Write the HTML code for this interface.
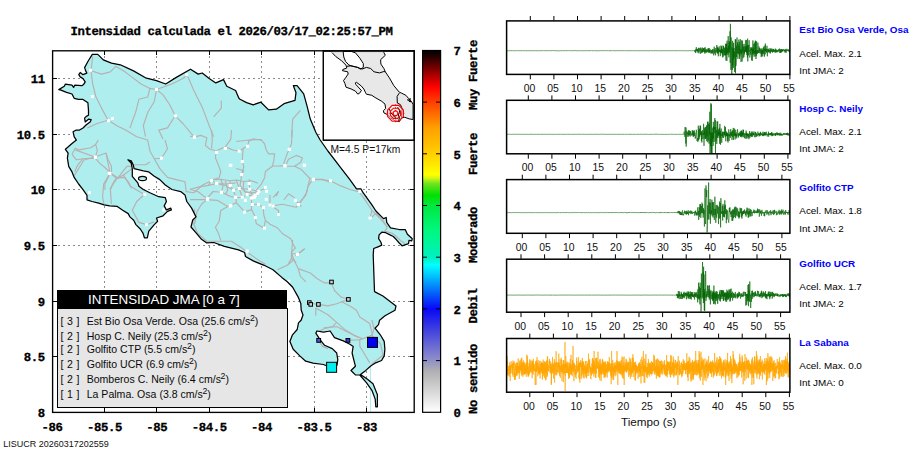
<!DOCTYPE html>
<html><head><meta charset="utf-8"><title>Intensidad</title>
<style>
html,body{margin:0;padding:0;background:#fff;}
body{width:910px;height:460px;position:relative;overflow:hidden;font-family:"Liberation Sans",sans-serif;}
.t{position:absolute;white-space:nowrap;line-height:1;}
.m{font-family:"Liberation Mono",monospace;font-weight:bold;font-size:12.3px;letter-spacing:-0.38px;text-rendering:geometricPrecision;color:#000;-webkit-text-stroke:0.3px #000;}
.tk{font-size:10.4px;color:#111;}
.nm{font-size:9.9px;font-weight:bold;color:#0000ff;left:799.3px;}
.inf{font-size:9.9px;color:#000;left:799.3px;}
.lg{font-size:10.55px;color:#0a0a0a;left:60.5px;}
.lg sup{font-size:8.8px;vertical-align:top;position:relative;top:-2.2px;line-height:1;margin-left:-0.3px;}
</style></head><body>
<svg width="910" height="460" viewBox="0 0 910 460" style="position:absolute;left:0;top:0">
<rect x="52.5" y="50.5" width="362" height="362" fill="#fff"/>
<line x1="104.5" y1="51" x2="104.5" y2="412" stroke="#8c8c8c" stroke-width="1" stroke-dasharray="2,3"/>
<line x1="156.5" y1="51" x2="156.5" y2="412" stroke="#8c8c8c" stroke-width="1" stroke-dasharray="2,3"/>
<line x1="209.5" y1="51" x2="209.5" y2="412" stroke="#8c8c8c" stroke-width="1" stroke-dasharray="2,3"/>
<line x1="261.5" y1="51" x2="261.5" y2="412" stroke="#8c8c8c" stroke-width="1" stroke-dasharray="2,3"/>
<line x1="314.5" y1="51" x2="314.5" y2="412" stroke="#8c8c8c" stroke-width="1" stroke-dasharray="2,3"/>
<line x1="366.5" y1="51" x2="366.5" y2="412" stroke="#8c8c8c" stroke-width="1" stroke-dasharray="2,3"/>
<line x1="53" y1="356.5" x2="414" y2="356.5" stroke="#8c8c8c" stroke-width="1" stroke-dasharray="2,3"/>
<line x1="53" y1="301.5" x2="414" y2="301.5" stroke="#8c8c8c" stroke-width="1" stroke-dasharray="2,3"/>
<line x1="53" y1="245.5" x2="414" y2="245.5" stroke="#8c8c8c" stroke-width="1" stroke-dasharray="2,3"/>
<line x1="53" y1="189.5" x2="414" y2="189.5" stroke="#8c8c8c" stroke-width="1" stroke-dasharray="2,3"/>
<line x1="53" y1="134.5" x2="414" y2="134.5" stroke="#8c8c8c" stroke-width="1" stroke-dasharray="2,3"/>
<line x1="53" y1="78.5" x2="414" y2="78.5" stroke="#8c8c8c" stroke-width="1" stroke-dasharray="2,3"/>
<polygon points="92.3,54.4 97.8,54.4 103.3,59.9 111.5,63.2 120.3,64.8 133.5,70.9 145.5,77.8 156.5,80.7 165.7,84.0 176.3,77.4 190.5,69.2 198.2,74.1 202.2,73.0 209.2,78.5 215.8,82.9 223.5,79.6 226.8,86.2 235.6,90.5 238.9,98.2 240.0,99.3 246.6,102.6 253.2,104.8 260.9,102.2 268.6,109.9 276.3,109.2 284.0,103.7 295.0,100.4 296.0,92.7 293.4,85.7 297.1,85.7 303.7,93.8 307.0,105.9 310.3,119.1 315.8,132.3 320.2,140.0 327.9,151.0 338.9,165.3 349.9,179.6 356.5,188.8 360.9,188.8 363.1,192.7 371.9,204.8 375.9,211.0 383.5,218.6 386.2,217.5 386.7,222.4 390.5,227.8 399.2,229.5 405.2,229.5 407.4,234.3 412.3,238.7 411.7,240.9 409.0,240.3 408.5,243.6 402.0,245.8 399.2,243.0 396.5,239.8 393.3,236.5 390.0,234.9 385.7,232.7 381.8,232.2 379.1,234.9 378.6,238.7 380.8,242.0 381.8,245.2 378.0,246.8 373.7,248.5 373.2,255.0 374.5,291.6 382.9,296.0 396.0,305.9 395.0,310.3 385.0,315.8 379.6,320.2 378.5,324.6 375.0,328.2 380.3,334.8 384.2,341.4 384.9,349.3 384.2,355.9 381.6,360.5 375.0,363.2 371.0,365.8 365.8,370.4 360.5,374.4 367.5,379.3 373.0,383.7 377.4,394.7 377.4,406.8 375.8,406.8 375.2,399.1 371.9,390.3 366.4,382.6 359.8,375.0 355.4,374.9 351.0,370.5 355.4,366.2 354.3,361.8 352.1,353.0 353.2,346.4 349.9,344.2 343.3,340.9 334.5,337.6 330.1,331.0 323.5,332.1 316.9,331.0 315.8,333.2 320.2,339.8 324.6,345.3 332.3,348.6 336.7,353.0 337.8,359.6 337.0,365.1 326.4,365.8 323.5,364.5 313.0,363.2 305.7,361.2 299.8,355.9 293.2,349.3 289.9,341.4 292.5,334.8 297.2,329.5 298.5,322.9 301.1,320.3 303.0,315.0 301.2,310.0 300.8,303.4 298.2,297.1 292.7,287.3 287.3,281.8 281.8,277.4 273.0,269.7 264.2,265.3 253.2,260.9 245.5,256.5 244.6,252.5 238.5,249.9 224.4,246.4 213.8,242.5 206.8,242.9 201.5,239.3 196.3,233.2 191.0,227.0 192.7,220.0 196.0,216.9 191.6,208.1 186.8,201.5 185.0,194.9 180.7,191.6 171.9,189.5 165.3,185.0 159.8,179.6 154.3,176.3 148.8,171.9 143.3,170.8 134.1,168.6 133.4,165.3 131.2,160.9 127.9,159.8 131.2,163.1 132.3,168.6 132.3,176.3 137.8,182.9 138.9,186.2 143.3,189.5 149.9,192.7 158.7,196.7 165.3,197.6 166.4,201.5 164.2,205.9 166.4,209.9 170.8,208.1 171.4,209.9 167.5,211.4 163.1,215.8 156.5,218.0 157.6,221.3 154.3,224.6 148.8,231.2 147.3,237.8 144.4,237.8 143.1,233.4 140.3,229.0 135.9,224.6 133.7,220.2 129.9,216.9 128.2,213.6 122.7,210.3 117.3,206.4 109.6,205.9 104.1,204.8 98.6,203.1 92.0,201.5 87.0,199.8 87.0,195.4 83.2,189.9 78.6,184.0 74.2,177.4 72.0,171.9 68.7,166.4 67.4,158.1 68.1,153.2 65.4,149.3 70.3,145.0 72.0,143.5 76.4,140.1 74.2,136.8 73.1,131.8 75.8,130.2 79.1,130.2 83.0,128.0 86.3,124.7 90.1,121.9 91.2,119.7 88.5,119.2 85.2,121.9 84.6,118.1 86.3,116.4 88.5,115.3 88.5,110.4 87.9,102.7 83.0,99.4 78.6,99.4 74.2,98.3 72.0,94.0 66.5,92.3 61.0,90.1 58.8,89.6 64.3,86.3 65.4,84.1 72.0,85.2 73.6,87.4 74.7,85.2 81.9,85.7 83.5,84.6 85.2,81.9 83.0,78.6 80.2,76.9 78.8,74.7 80.2,72.5 83.0,74.7 86.8,73.1 85.7,70.9 84.6,67.6 87.9,61.5" fill="#afeeee" stroke="none"/>
<line x1="370.5" y1="367" x2="370.5" y2="412" stroke="#afeeee" stroke-width="1"/>
<clipPath id="land"><polygon points="92.3,54.4 97.8,54.4 103.3,59.9 111.5,63.2 120.3,64.8 133.5,70.9 145.5,77.8 156.5,80.7 165.7,84.0 176.3,77.4 190.5,69.2 198.2,74.1 202.2,73.0 209.2,78.5 215.8,82.9 223.5,79.6 226.8,86.2 235.6,90.5 238.9,98.2 240.0,99.3 246.6,102.6 253.2,104.8 260.9,102.2 268.6,109.9 276.3,109.2 284.0,103.7 295.0,100.4 296.0,92.7 293.4,85.7 297.1,85.7 303.7,93.8 307.0,105.9 310.3,119.1 315.8,132.3 320.2,140.0 327.9,151.0 338.9,165.3 349.9,179.6 356.5,188.8 360.9,188.8 363.1,192.7 371.9,204.8 375.9,211.0 383.5,218.6 386.2,217.5 386.7,222.4 390.5,227.8 399.2,229.5 405.2,229.5 407.4,234.3 412.3,238.7 411.7,240.9 409.0,240.3 408.5,243.6 402.0,245.8 399.2,243.0 396.5,239.8 393.3,236.5 390.0,234.9 385.7,232.7 381.8,232.2 379.1,234.9 378.6,238.7 380.8,242.0 381.8,245.2 378.0,246.8 373.7,248.5 373.2,255.0 374.5,291.6 382.9,296.0 396.0,305.9 395.0,310.3 385.0,315.8 379.6,320.2 378.5,324.6 375.0,328.2 380.3,334.8 384.2,341.4 384.9,349.3 384.2,355.9 381.6,360.5 375.0,363.2 371.0,365.8 365.8,370.4 360.5,374.4 367.5,379.3 373.0,383.7 377.4,394.7 377.4,406.8 375.8,406.8 375.2,399.1 371.9,390.3 366.4,382.6 359.8,375.0 355.4,374.9 351.0,370.5 355.4,366.2 354.3,361.8 352.1,353.0 353.2,346.4 349.9,344.2 343.3,340.9 334.5,337.6 330.1,331.0 323.5,332.1 316.9,331.0 315.8,333.2 320.2,339.8 324.6,345.3 332.3,348.6 336.7,353.0 337.8,359.6 337.0,365.1 326.4,365.8 323.5,364.5 313.0,363.2 305.7,361.2 299.8,355.9 293.2,349.3 289.9,341.4 292.5,334.8 297.2,329.5 298.5,322.9 301.1,320.3 303.0,315.0 301.2,310.0 300.8,303.4 298.2,297.1 292.7,287.3 287.3,281.8 281.8,277.4 273.0,269.7 264.2,265.3 253.2,260.9 245.5,256.5 244.6,252.5 238.5,249.9 224.4,246.4 213.8,242.5 206.8,242.9 201.5,239.3 196.3,233.2 191.0,227.0 192.7,220.0 196.0,216.9 191.6,208.1 186.8,201.5 185.0,194.9 180.7,191.6 171.9,189.5 165.3,185.0 159.8,179.6 154.3,176.3 148.8,171.9 143.3,170.8 134.1,168.6 133.4,165.3 131.2,160.9 127.9,159.8 131.2,163.1 132.3,168.6 132.3,176.3 137.8,182.9 138.9,186.2 143.3,189.5 149.9,192.7 158.7,196.7 165.3,197.6 166.4,201.5 164.2,205.9 166.4,209.9 170.8,208.1 171.4,209.9 167.5,211.4 163.1,215.8 156.5,218.0 157.6,221.3 154.3,224.6 148.8,231.2 147.3,237.8 144.4,237.8 143.1,233.4 140.3,229.0 135.9,224.6 133.7,220.2 129.9,216.9 128.2,213.6 122.7,210.3 117.3,206.4 109.6,205.9 104.1,204.8 98.6,203.1 92.0,201.5 87.0,199.8 87.0,195.4 83.2,189.9 78.6,184.0 74.2,177.4 72.0,171.9 68.7,166.4 67.4,158.1 68.1,153.2 65.4,149.3 70.3,145.0 72.0,143.5 76.4,140.1 74.2,136.8 73.1,131.8 75.8,130.2 79.1,130.2 83.0,128.0 86.3,124.7 90.1,121.9 91.2,119.7 88.5,119.2 85.2,121.9 84.6,118.1 86.3,116.4 88.5,115.3 88.5,110.4 87.9,102.7 83.0,99.4 78.6,99.4 74.2,98.3 72.0,94.0 66.5,92.3 61.0,90.1 58.8,89.6 64.3,86.3 65.4,84.1 72.0,85.2 73.6,87.4 74.7,85.2 81.9,85.7 83.5,84.6 85.2,81.9 83.0,78.6 80.2,76.9 78.8,74.7 80.2,72.5 83.0,74.7 86.8,73.1 85.7,70.9 84.6,67.6 87.9,61.5"/></clipPath>
<g clip-path="url(#land)">
<polyline points="92.7,56.5 91.0,70.8 92.7,84.0 96.0,97.1 101.5,108.1 108.1,120.2 116.9,125.7 125.7,130.1 136.7,136.7 147.7,140.0 149.9,151.0 154.3,158.7 159.8,168.6 167.5,177.4 176.3,179.6 185.0,181.8 186.2,191.6 193.8,192.7 202.6,185.0 211.4,180.7 216.9,183.5 226.8,184.0 235.6,182.9" fill="none" stroke="#b8b0b0" stroke-width="1.15" stroke-linejoin="round"/>
<polyline points="108.1,120.2 97.1,123.5 87.3,127.9" fill="none" stroke="#b8b0b0" stroke-width="1.15" stroke-linejoin="round"/>
<polyline points="91.0,70.8 101.5,74.1 110.3,71.9 115.8,66.4 123.5,70.8 132.3,77.4 141.1,84.0 149.9,88.4 156.5,89.5 163.1,94.9 169.7,104.8 175.2,115.8 182.9,123.5 193.8,136.7" fill="none" stroke="#b8b0b0" stroke-width="1.15" stroke-linejoin="round"/>
<polyline points="156.5,89.5 154.3,101.5 147.7,112.5 143.3,125.7 145.5,136.7" fill="none" stroke="#b8b0b0" stroke-width="1.15" stroke-linejoin="round"/>
<polyline points="149.9,88.4 147.7,97.0 138.9,99.3 135.6,112.5 132.3,121.3 130.0,128.0" fill="none" stroke="#b8b0b0" stroke-width="1.15" stroke-linejoin="round"/>
<polyline points="156.5,89.5 171.9,84.0 182.9,78.5 187.3,75.2" fill="none" stroke="#b8b0b0" stroke-width="1.15" stroke-linejoin="round"/>
<polyline points="187.3,75.2 193.8,90.5 202.6,108.1 209.2,125.7 213.6,136.7" fill="none" stroke="#b8b0b0" stroke-width="1.15" stroke-linejoin="round"/>
<polyline points="175.2,115.8 167.5,127.9 158.7,130.1 163.0,139.0" fill="none" stroke="#b8b0b0" stroke-width="1.15" stroke-linejoin="round"/>
<polyline points="221.3,100.4 221.3,108.1 213.6,116.9" fill="none" stroke="#b8b0b0" stroke-width="1.15" stroke-linejoin="round"/>
<polyline points="75.2,149.9 95.0,157.0 106.0,153.0 110.0,173.0 117.0,178.5 123.5,175.0 132.0,168.6" fill="none" stroke="#b8b0b0" stroke-width="1.15" stroke-linejoin="round"/>
<polyline points="110.0,173.0 103.7,184.0 102.6,197.0 104.0,204.0" fill="none" stroke="#b8b0b0" stroke-width="1.15" stroke-linejoin="round"/>
<polyline points="117.0,178.5 110.3,188.4 111.4,203.7" fill="none" stroke="#b8b0b0" stroke-width="1.15" stroke-linejoin="round"/>
<polyline points="123.5,175.0 130.0,186.0 144.4,194.5 136.7,201.5 132.3,210.3 138.9,222.4 146.6,224.6 154.0,222.0" fill="none" stroke="#b8b0b0" stroke-width="1.15" stroke-linejoin="round"/>
<polyline points="74.0,176.0 84.0,160.0 95.0,157.0" fill="none" stroke="#b8b0b0" stroke-width="1.15" stroke-linejoin="round"/>
<polyline points="154.3,158.7 161.5,158.2 167.5,148.8 165.0,140.0" fill="none" stroke="#b8b0b0" stroke-width="1.15" stroke-linejoin="round"/>
<polyline points="190.0,136.2 194.6,136.9 200.8,135.4 206.9,137.7 205.4,145.4 210.0,149.2 216.2,150.8 225.4,146.9 233.1,150.0 239.2,151.2 243.1,148.5 247.7,145.4 249.2,140.0 260.8,139.5 264.6,143.8 266.2,150.0 268.5,153.8 274.6,153.8 273.8,160.8 272.3,166.2 282.3,165.7 285.4,166.2 294.6,166.2 300.8,169.2 310.0,178.5 313.1,179.2 322.3,179.2 330.0,182.3" fill="none" stroke="#b8b0b0" stroke-width="1.15" stroke-linejoin="round"/>
<polyline points="216.2,150.8 215.4,157.7 218.5,165.4 220.8,171.5 219.2,177.7 211.5,180.0 208.5,185.4 199.2,186.9 190.0,189.2" fill="none" stroke="#b8b0b0" stroke-width="1.15" stroke-linejoin="round"/>
<polyline points="243.1,148.5 242.3,160.8 243.8,166.9 241.5,174.6 240.8,180.8" fill="none" stroke="#b8b0b0" stroke-width="1.15" stroke-linejoin="round"/>
<polyline points="236.2,168.5 243.8,170.8 241.5,174.6" fill="none" stroke="#b8b0b0" stroke-width="1.15" stroke-linejoin="round"/>
<polyline points="272.3,166.2 265.4,171.5 264.6,177.7 261.5,183.8 256.2,190.0" fill="none" stroke="#b8b0b0" stroke-width="1.15" stroke-linejoin="round"/>
<polyline points="285.4,166.2 283.8,163.1 286.9,154.6 289.2,149.2 291.5,143.8 292.3,130.0" fill="none" stroke="#b8b0b0" stroke-width="1.15" stroke-linejoin="round"/>
<polyline points="285.4,166.2 288.5,159.2 296.2,155.4 302.3,157.7 300.8,162.3 294.6,166.2" fill="none" stroke="#b8b0b0" stroke-width="1.15" stroke-linejoin="round"/>
<polyline points="310.0,178.5 308.5,183.8 306.9,191.5 303.8,197.7" fill="none" stroke="#b8b0b0" stroke-width="1.15" stroke-linejoin="round"/>
<polyline points="231.5,130.0 230.8,139.2 225.4,146.9" fill="none" stroke="#b8b0b0" stroke-width="1.15" stroke-linejoin="round"/>
<polyline points="211.5,130.0 212.3,139.2 211.5,148.5" fill="none" stroke="#b8b0b0" stroke-width="1.15" stroke-linejoin="round"/>
<polyline points="236.2,141.5 249.2,140.0" fill="none" stroke="#b8b0b0" stroke-width="1.15" stroke-linejoin="round"/>
<polyline points="273.1,197.7 278.5,191.5 276.2,196.2" fill="none" stroke="#b8b0b0" stroke-width="1.15" stroke-linejoin="round"/>
<polyline points="283.8,200.0 288.5,193.8 294.6,197.7" fill="none" stroke="#b8b0b0" stroke-width="1.15" stroke-linejoin="round"/>
<polyline points="211.5,180.0 220.8,179.2 230.0,180.8 236.2,180.0 243.8,181.5 251.5,180.8 257.7,183.1" fill="none" stroke="#b8b0b0" stroke-width="1.15" stroke-linejoin="round"/>
<polyline points="208.5,185.4 216.2,183.8 225.4,185.4 233.1,190.0 239.2,188.5 250.0,189.2 257.7,191.5 266.9,187.7" fill="none" stroke="#b8b0b0" stroke-width="1.15" stroke-linejoin="round"/>
<polyline points="190.0,189.2 197.7,191.5 206.9,198.5 213.1,191.5 221.5,192.3 230.0,196.2 236.2,197.7 242.3,197.2 247.7,194.6 253.1,196.9 259.2,194.6" fill="none" stroke="#b8b0b0" stroke-width="1.15" stroke-linejoin="round"/>
<polyline points="220.8,179.2 223.1,185.4 221.5,192.3" fill="none" stroke="#b8b0b0" stroke-width="1.15" stroke-linejoin="round"/>
<polyline points="230.0,180.8 230.3,185.4 233.5,190.3 235.7,197.2" fill="none" stroke="#b8b0b0" stroke-width="1.15" stroke-linejoin="round"/>
<polyline points="236.2,180.0 239.2,188.5 242.3,197.2" fill="none" stroke="#b8b0b0" stroke-width="1.15" stroke-linejoin="round"/>
<polyline points="243.8,181.5 243.1,188.5 247.2,194.6" fill="none" stroke="#b8b0b0" stroke-width="1.15" stroke-linejoin="round"/>
<polyline points="249.2,179.2 249.7,189.2 253.1,196.9" fill="none" stroke="#b8b0b0" stroke-width="1.15" stroke-linejoin="round"/>
<polyline points="225.4,180.8 227.7,190.0 225.4,194.6" fill="none" stroke="#b8b0b0" stroke-width="1.15" stroke-linejoin="round"/>
<polyline points="240.8,180.8 240.0,185.4 244.6,191.5 251.5,193.1 258.8,191.5" fill="none" stroke="#b8b0b0" stroke-width="1.15" stroke-linejoin="round"/>
<polyline points="265.4,220.4 270.0,224.2 277.7,228.1 282.3,233.5 290.8,238.8 293.1,244.2 295.4,248.1 291.5,251.9 291.5,258.1 288.5,263.5" fill="none" stroke="#b8b0b0" stroke-width="1.15" stroke-linejoin="round"/>
<polyline points="295.4,255.8 304.6,248.8" fill="none" stroke="#b8b0b0" stroke-width="1.15" stroke-linejoin="round"/>
<polyline points="291.5,258.1 296.2,262.7" fill="none" stroke="#b8b0b0" stroke-width="1.15" stroke-linejoin="round"/>
<polyline points="194.6,208.8 193.8,224.2 197.7,233.5 206.9,241.2 220.8,241.2 231.5,241.2 240.8,247.3 246.9,251.9 257.7,259.6 265.4,264.2" fill="none" stroke="#b8b0b0" stroke-width="1.15" stroke-linejoin="round"/>
<polyline points="227.7,206.5 220.8,210.4 219.2,221.2 215.4,227.3 218.5,233.5 220.8,240.4" fill="none" stroke="#b8b0b0" stroke-width="1.15" stroke-linejoin="round"/>
<polyline points="255.4,217.3 256.2,223.5 263.8,228.1 265.4,220.4" fill="none" stroke="#b8b0b0" stroke-width="1.15" stroke-linejoin="round"/>
<polyline points="190.0,199.6 206.9,199.6 217.7,200.4 227.7,206.5" fill="none" stroke="#b8b0b0" stroke-width="1.15" stroke-linejoin="round"/>
<polyline points="206.9,199.6 201.5,204.2 196.9,211.9 194.6,224.2" fill="none" stroke="#b8b0b0" stroke-width="1.15" stroke-linejoin="round"/>
<polyline points="227.7,206.5 236.2,202.7 244.6,211.9 251.5,209.6 255.4,217.3" fill="none" stroke="#b8b0b0" stroke-width="1.15" stroke-linejoin="round"/>
<polyline points="251.5,204.2 257.7,204.2 263.1,207.3 263.8,215.0 265.4,220.4" fill="none" stroke="#b8b0b0" stroke-width="1.15" stroke-linejoin="round"/>
<polyline points="251.5,195.0 251.5,204.2 251.5,209.6" fill="none" stroke="#b8b0b0" stroke-width="1.15" stroke-linejoin="round"/>
<polyline points="236.2,195.0 236.2,202.7" fill="none" stroke="#b8b0b0" stroke-width="1.15" stroke-linejoin="round"/>
<polyline points="270.0,195.0 270.0,205.0 278.5,210.4 278.5,214.2" fill="none" stroke="#b8b0b0" stroke-width="1.15" stroke-linejoin="round"/>
<polyline points="273.1,205.8 282.3,204.2 296.2,207.3 298.5,204.2 305.4,195.0" fill="none" stroke="#b8b0b0" stroke-width="1.15" stroke-linejoin="round"/>
<polyline points="295.4,200.4 298.5,204.2 301.5,206.5" fill="none" stroke="#b8b0b0" stroke-width="1.15" stroke-linejoin="round"/>
<polyline points="292.7,240.0 291.6,253.2 293.8,259.8 287.3,265.3 277.4,269.7" fill="none" stroke="#b8b0b0" stroke-width="1.15" stroke-linejoin="round"/>
<polyline points="293.8,259.8 298.2,268.6 300.4,276.3 305.9,281.8" fill="none" stroke="#b8b0b0" stroke-width="1.15" stroke-linejoin="round"/>
<polyline points="298.2,268.6 310.3,273.0 316.9,278.5 324.6,282.9 331.4,282.9 334.5,290.5 341.1,297.1 348.4,299.3 336.7,303.7 327.9,305.9 318.2,304.4 309.9,303.3" fill="none" stroke="#b8b0b0" stroke-width="1.15" stroke-linejoin="round"/>
<polyline points="341.1,301.5 349.9,305.9 356.5,310.3 359.8,316.9 369.7,323.5 371.9,332.3 373.0,340.0" fill="none" stroke="#b8b0b0" stroke-width="1.15" stroke-linejoin="round"/>
<polyline points="315.8,308.1 327.9,314.7 336.7,322.4 345.5,330.1 354.3,335.6 363.1,338.9" fill="none" stroke="#b8b0b0" stroke-width="1.15" stroke-linejoin="round"/>
<polyline points="315.8,308.1 315.8,315.8" fill="none" stroke="#b8b0b0" stroke-width="1.15" stroke-linejoin="round"/>
<polyline points="336.7,322.4 332.3,326.8 323.5,329.0 316.9,332.3" fill="none" stroke="#b8b0b0" stroke-width="1.15" stroke-linejoin="round"/>
<polyline points="291.6,253.2 297.6,254.3 304.8,248.8" fill="none" stroke="#b8b0b0" stroke-width="1.15" stroke-linejoin="round"/>
<polyline points="371.9,320.0 374.1,328.8 371.9,335.4 359.8,339.8 359.8,346.4 365.3,355.2 369.7,362.9" fill="none" stroke="#b8b0b0" stroke-width="1.15" stroke-linejoin="round"/>
<polyline points="371.9,335.4 380.7,344.2 382.9,355.2 371.9,364.0" fill="none" stroke="#b8b0b0" stroke-width="1.15" stroke-linejoin="round"/>
<polyline points="359.8,339.8 347.9,340.4" fill="none" stroke="#b8b0b0" stroke-width="1.15" stroke-linejoin="round"/>
<polyline points="323.5,327.7 336.7,326.6 345.5,331.0 358.7,337.6" fill="none" stroke="#b8b0b0" stroke-width="1.15" stroke-linejoin="round"/>
<polyline points="318.7,340.4 322.4,346.4 327.9,348.6" fill="none" stroke="#b8b0b0" stroke-width="1.15" stroke-linejoin="round"/>
<polyline points="312.5,179.6 321.3,179.6 330.1,180.7 338.9,185.1 349.9,189.5 358.7,191.6 363.1,197.1 371.9,210.3 380.7,219.1 387.3,226.8" fill="none" stroke="#b8b0b0" stroke-width="1.15" stroke-linejoin="round"/>
<polyline points="371.9,210.3 370.1,218.0" fill="none" stroke="#b8b0b0" stroke-width="1.15" stroke-linejoin="round"/>
<polyline points="312.5,179.6 308.1,186.2 305.9,194.9 299.3,203.7 294.9,200.4" fill="none" stroke="#b8b0b0" stroke-width="1.15" stroke-linejoin="round"/>
<polyline points="375.9,213.2 383.5,221.3 387.3,227.8 384.6,231.1 392.2,233.3 396.5,236.5 400.9,240.9 405.2,243.6" fill="none" stroke="#b8b0b0" stroke-width="1.15" stroke-linejoin="round"/>
<polyline points="375.9,213.2 372.1,217.0" fill="none" stroke="#b8b0b0" stroke-width="1.15" stroke-linejoin="round"/>
<polyline points="300.4,110.3 292.7,119.1 291.6,136.7" fill="none" stroke="#b8b0b0" stroke-width="1.15" stroke-linejoin="round"/>
<polyline points="248.8,141.1 253.2,138.9 260.9,140.0" fill="none" stroke="#b8b0b0" stroke-width="1.15" stroke-linejoin="round"/>
<polyline points="72.0,154.3 75.3,148.2 79.1,149.9 90.7,147.7 95.6,144.4 98.4,140.0" fill="none" stroke="#b8b0b0" stroke-width="1.15" stroke-linejoin="round"/>
<polyline points="95.6,144.4 97.3,150.4 95.4,157.3" fill="none" stroke="#b8b0b0" stroke-width="1.15" stroke-linejoin="round"/>
<polyline points="72.0,154.3 76.4,159.8 83.0,158.7 95.4,158.1 99.5,163.1 104.9,167.5 109.3,171.9 113.7,175.2 118.1,177.9 124.7,177.4 129.1,182.9 131.3,188.4" fill="none" stroke="#b8b0b0" stroke-width="1.15" stroke-linejoin="round"/>
<polyline points="83.0,158.7 77.5,165.3 74.7,171.9" fill="none" stroke="#b8b0b0" stroke-width="1.15" stroke-linejoin="round"/>
<polyline points="106.0,153.2 108.2,159.8 111.5,166.4 111.5,171.9" fill="none" stroke="#b8b0b0" stroke-width="1.15" stroke-linejoin="round"/>
<polyline points="118.1,177.9 122.5,171.9 126.9,166.4 132.4,166.4 133.5,164.7 145.6,164.7 150.0,162.0" fill="none" stroke="#b8b0b0" stroke-width="1.15" stroke-linejoin="round"/>
<polyline points="109.3,175.2 104.9,184.0 104.9,190.0" fill="none" stroke="#b8b0b0" stroke-width="1.15" stroke-linejoin="round"/>
<polyline points="115.9,178.5 112.6,184.0 110.4,190.0" fill="none" stroke="#b8b0b0" stroke-width="1.15" stroke-linejoin="round"/>
<rect x="89.0" y="68.8" width="3" height="3" fill="#fff"/>
<rect x="90.8" y="95.0" width="3" height="3" fill="#fff"/>
<rect x="111.0" y="117.0" width="3" height="3" fill="#fff"/>
<rect x="107.1" y="119.2" width="3" height="3" fill="#fff"/>
<rect x="155.0" y="88.0" width="3" height="3" fill="#fff"/>
<rect x="185.3" y="73.2" width="3" height="3" fill="#fff"/>
<rect x="174.1" y="114.3" width="3" height="3" fill="#fff"/>
<rect x="193.0" y="135.6" width="3" height="3" fill="#fff"/>
<rect x="93.9" y="155.6" width="3" height="3" fill="#fff"/>
<rect x="108.4" y="171.9" width="3" height="3" fill="#fff"/>
<rect x="160.0" y="156.7" width="3" height="3" fill="#fff"/>
<rect x="88.0" y="191.2" width="3" height="3" fill="#fff"/>
<rect x="143.3" y="193.0" width="3" height="3" fill="#fff"/>
<rect x="145.1" y="223.1" width="3" height="3" fill="#fff"/>
<rect x="162.2" y="208.4" width="3" height="3" fill="#fff"/>
<rect x="209.9" y="179.2" width="3" height="3" fill="#fff"/>
<rect x="215.4" y="182.0" width="3" height="3" fill="#fff"/>
<rect x="223.8" y="146.9" width="3" height="3" fill="#fff"/>
<rect x="215.0" y="151.0" width="3" height="3" fill="#fff"/>
<rect x="229.3" y="163.8" width="3" height="3" fill="#fff"/>
<rect x="206.0" y="197.8" width="3" height="3" fill="#fff"/>
<rect x="229.3" y="204.0" width="3" height="3" fill="#fff"/>
<rect x="219.8" y="190.8" width="3" height="3" fill="#fff"/>
<rect x="93.9" y="155.8" width="3" height="3" fill="#fff"/>
<rect x="107.8" y="171.8" width="3" height="3" fill="#fff"/>
<rect x="192.8" y="135.7" width="3" height="3" fill="#fff"/>
<rect x="215.0" y="150.8" width="3" height="3" fill="#fff"/>
<rect x="223.9" y="147.0" width="3" height="3" fill="#fff"/>
<rect x="237.7" y="149.7" width="3" height="3" fill="#fff"/>
<rect x="245.9" y="144.7" width="3" height="3" fill="#fff"/>
<rect x="240.8" y="160.0" width="3" height="3" fill="#fff"/>
<rect x="228.8" y="163.9" width="3" height="3" fill="#fff"/>
<rect x="240.0" y="173.1" width="3" height="3" fill="#fff"/>
<rect x="210.0" y="179.0" width="3" height="3" fill="#fff"/>
<rect x="215.0" y="182.0" width="3" height="3" fill="#fff"/>
<rect x="287.7" y="148.0" width="3" height="3" fill="#fff"/>
<rect x="283.4" y="164.3" width="3" height="3" fill="#fff"/>
<rect x="302.8" y="163.9" width="3" height="3" fill="#fff"/>
<rect x="311.9" y="177.7" width="3" height="3" fill="#fff"/>
<rect x="263.9" y="185.9" width="3" height="3" fill="#fff"/>
<rect x="265.0" y="190.0" width="3" height="3" fill="#fff"/>
<rect x="247.7" y="182.0" width="3" height="3" fill="#fff"/>
<rect x="237.7" y="187.0" width="3" height="3" fill="#fff"/>
<rect x="248.2" y="187.7" width="3" height="3" fill="#fff"/>
<rect x="228.8" y="183.9" width="3" height="3" fill="#fff"/>
<rect x="232.0" y="188.8" width="3" height="3" fill="#fff"/>
<rect x="220.0" y="190.8" width="3" height="3" fill="#fff"/>
<rect x="257.3" y="190.0" width="3" height="3" fill="#fff"/>
<rect x="251.6" y="195.4" width="3" height="3" fill="#fff"/>
<rect x="234.2" y="195.7" width="3" height="3" fill="#fff"/>
<rect x="240.8" y="195.7" width="3" height="3" fill="#fff"/>
<rect x="245.7" y="193.1" width="3" height="3" fill="#fff"/>
<rect x="206.2" y="197.0" width="3" height="3" fill="#fff"/>
<rect x="256.2" y="192.3" width="3" height="3" fill="#fff"/>
<rect x="253.9" y="193.9" width="3" height="3" fill="#fff"/>
<rect x="205.9" y="197.8" width="3" height="3" fill="#fff"/>
<rect x="228.8" y="204.6" width="3" height="3" fill="#fff"/>
<rect x="243.1" y="210.7" width="3" height="3" fill="#fff"/>
<rect x="253.9" y="216.1" width="3" height="3" fill="#fff"/>
<rect x="263.0" y="226.6" width="3" height="3" fill="#fff"/>
<rect x="250.8" y="203.0" width="3" height="3" fill="#fff"/>
<rect x="257.0" y="203.0" width="3" height="3" fill="#fff"/>
<rect x="262.0" y="206.1" width="3" height="3" fill="#fff"/>
<rect x="268.5" y="203.5" width="3" height="3" fill="#fff"/>
<rect x="271.6" y="204.6" width="3" height="3" fill="#fff"/>
<rect x="277.0" y="213.0" width="3" height="3" fill="#fff"/>
<rect x="293.9" y="199.2" width="3" height="3" fill="#fff"/>
<rect x="297.0" y="203.0" width="3" height="3" fill="#fff"/>
<rect x="264.7" y="197.8" width="3" height="3" fill="#fff"/>
<rect x="243.9" y="198.9" width="3" height="3" fill="#fff"/>
<rect x="233.9" y="195.8" width="3" height="3" fill="#fff"/>
<rect x="245.4" y="250.4" width="3" height="3" fill="#fff"/>
<rect x="295.9" y="253.0" width="3" height="3" fill="#fff"/>
<rect x="250.0" y="196.6" width="3" height="3" fill="#fff"/>
<rect x="253.1" y="195.8" width="3" height="3" fill="#fff"/>
<rect x="245.8" y="249.5" width="3" height="3" fill="#fff"/>
<rect x="296.1" y="252.8" width="3" height="3" fill="#fff"/>
<rect x="287.3" y="279.8" width="3" height="3" fill="#fff"/>
<rect x="311.7" y="178.1" width="3" height="3" fill="#fff"/>
<rect x="329.0" y="179.2" width="3" height="3" fill="#fff"/>
<rect x="368.6" y="216.5" width="3" height="3" fill="#fff"/>
<rect x="358.3" y="190.1" width="3" height="3" fill="#fff"/>
<rect x="283.6" y="164.2" width="3" height="3" fill="#fff"/>
<rect x="302.9" y="163.8" width="3" height="3" fill="#fff"/>
<rect x="288.0" y="147.7" width="3" height="3" fill="#fff"/>
</g>
<polygon points="92.3,54.4 97.8,54.4 103.3,59.9 111.5,63.2 120.3,64.8 133.5,70.9 145.5,77.8 156.5,80.7 165.7,84.0 176.3,77.4 190.5,69.2 198.2,74.1 202.2,73.0 209.2,78.5 215.8,82.9 223.5,79.6 226.8,86.2 235.6,90.5 238.9,98.2 240.0,99.3 246.6,102.6 253.2,104.8 260.9,102.2 268.6,109.9 276.3,109.2 284.0,103.7 295.0,100.4 296.0,92.7 293.4,85.7 297.1,85.7 303.7,93.8 307.0,105.9 310.3,119.1 315.8,132.3 320.2,140.0 327.9,151.0 338.9,165.3 349.9,179.6 356.5,188.8 360.9,188.8 363.1,192.7 371.9,204.8 375.9,211.0 383.5,218.6 386.2,217.5 386.7,222.4 390.5,227.8 399.2,229.5 405.2,229.5 407.4,234.3 412.3,238.7 411.7,240.9 409.0,240.3 408.5,243.6 402.0,245.8 399.2,243.0 396.5,239.8 393.3,236.5 390.0,234.9 385.7,232.7 381.8,232.2 379.1,234.9 378.6,238.7 380.8,242.0 381.8,245.2 378.0,246.8 373.7,248.5 373.2,255.0 374.5,291.6 382.9,296.0 396.0,305.9 395.0,310.3 385.0,315.8 379.6,320.2 378.5,324.6 375.0,328.2 380.3,334.8 384.2,341.4 384.9,349.3 384.2,355.9 381.6,360.5 375.0,363.2 371.0,365.8 365.8,370.4 360.5,374.4 367.5,379.3 373.0,383.7 377.4,394.7 377.4,406.8 375.8,406.8 375.2,399.1 371.9,390.3 366.4,382.6 359.8,375.0 355.4,374.9 351.0,370.5 355.4,366.2 354.3,361.8 352.1,353.0 353.2,346.4 349.9,344.2 343.3,340.9 334.5,337.6 330.1,331.0 323.5,332.1 316.9,331.0 315.8,333.2 320.2,339.8 324.6,345.3 332.3,348.6 336.7,353.0 337.8,359.6 337.0,365.1 326.4,365.8 323.5,364.5 313.0,363.2 305.7,361.2 299.8,355.9 293.2,349.3 289.9,341.4 292.5,334.8 297.2,329.5 298.5,322.9 301.1,320.3 303.0,315.0 301.2,310.0 300.8,303.4 298.2,297.1 292.7,287.3 287.3,281.8 281.8,277.4 273.0,269.7 264.2,265.3 253.2,260.9 245.5,256.5 244.6,252.5 238.5,249.9 224.4,246.4 213.8,242.5 206.8,242.9 201.5,239.3 196.3,233.2 191.0,227.0 192.7,220.0 196.0,216.9 191.6,208.1 186.8,201.5 185.0,194.9 180.7,191.6 171.9,189.5 165.3,185.0 159.8,179.6 154.3,176.3 148.8,171.9 143.3,170.8 134.1,168.6 133.4,165.3 131.2,160.9 127.9,159.8 131.2,163.1 132.3,168.6 132.3,176.3 137.8,182.9 138.9,186.2 143.3,189.5 149.9,192.7 158.7,196.7 165.3,197.6 166.4,201.5 164.2,205.9 166.4,209.9 170.8,208.1 171.4,209.9 167.5,211.4 163.1,215.8 156.5,218.0 157.6,221.3 154.3,224.6 148.8,231.2 147.3,237.8 144.4,237.8 143.1,233.4 140.3,229.0 135.9,224.6 133.7,220.2 129.9,216.9 128.2,213.6 122.7,210.3 117.3,206.4 109.6,205.9 104.1,204.8 98.6,203.1 92.0,201.5 87.0,199.8 87.0,195.4 83.2,189.9 78.6,184.0 74.2,177.4 72.0,171.9 68.7,166.4 67.4,158.1 68.1,153.2 65.4,149.3 70.3,145.0 72.0,143.5 76.4,140.1 74.2,136.8 73.1,131.8 75.8,130.2 79.1,130.2 83.0,128.0 86.3,124.7 90.1,121.9 91.2,119.7 88.5,119.2 85.2,121.9 84.6,118.1 86.3,116.4 88.5,115.3 88.5,110.4 87.9,102.7 83.0,99.4 78.6,99.4 74.2,98.3 72.0,94.0 66.5,92.3 61.0,90.1 58.8,89.6 64.3,86.3 65.4,84.1 72.0,85.2 73.6,87.4 74.7,85.2 81.9,85.7 83.5,84.6 85.2,81.9 83.0,78.6 80.2,76.9 78.8,74.7 80.2,72.5 83.0,74.7 86.8,73.1 85.7,70.9 84.6,67.6 87.9,61.5" fill="none" stroke="#000" stroke-width="1.25" stroke-linejoin="round"/>
<ellipse cx="142.5" cy="178.5" rx="4" ry="2.2" fill="#afeeee" stroke="#000" stroke-width="1.2"/>
<line x1="104.5" y1="412" x2="104.5" y2="408" stroke="#000" stroke-width="1"/>
<line x1="104.5" y1="51" x2="104.5" y2="55" stroke="#000" stroke-width="1"/>
<line x1="156.5" y1="412" x2="156.5" y2="408" stroke="#000" stroke-width="1"/>
<line x1="156.5" y1="51" x2="156.5" y2="55" stroke="#000" stroke-width="1"/>
<line x1="209.5" y1="412" x2="209.5" y2="408" stroke="#000" stroke-width="1"/>
<line x1="209.5" y1="51" x2="209.5" y2="55" stroke="#000" stroke-width="1"/>
<line x1="261.5" y1="412" x2="261.5" y2="408" stroke="#000" stroke-width="1"/>
<line x1="261.5" y1="51" x2="261.5" y2="55" stroke="#000" stroke-width="1"/>
<line x1="314.5" y1="412" x2="314.5" y2="408" stroke="#000" stroke-width="1"/>
<line x1="314.5" y1="51" x2="314.5" y2="55" stroke="#000" stroke-width="1"/>
<line x1="366.5" y1="412" x2="366.5" y2="408" stroke="#000" stroke-width="1"/>
<line x1="366.5" y1="51" x2="366.5" y2="55" stroke="#000" stroke-width="1"/>
<line x1="53" y1="356.5" x2="57" y2="356.5" stroke="#000" stroke-width="1"/>
<line x1="414" y1="356.5" x2="410" y2="356.5" stroke="#000" stroke-width="1"/>
<line x1="53" y1="301.5" x2="57" y2="301.5" stroke="#000" stroke-width="1"/>
<line x1="414" y1="301.5" x2="410" y2="301.5" stroke="#000" stroke-width="1"/>
<line x1="53" y1="245.5" x2="57" y2="245.5" stroke="#000" stroke-width="1"/>
<line x1="414" y1="245.5" x2="410" y2="245.5" stroke="#000" stroke-width="1"/>
<line x1="53" y1="189.5" x2="57" y2="189.5" stroke="#000" stroke-width="1"/>
<line x1="414" y1="189.5" x2="410" y2="189.5" stroke="#000" stroke-width="1"/>
<line x1="53" y1="134.5" x2="57" y2="134.5" stroke="#000" stroke-width="1"/>
<line x1="414" y1="134.5" x2="410" y2="134.5" stroke="#000" stroke-width="1"/>
<line x1="53" y1="78.5" x2="57" y2="78.5" stroke="#000" stroke-width="1"/>
<line x1="414" y1="78.5" x2="410" y2="78.5" stroke="#000" stroke-width="1"/>
<rect x="329.7" y="280.2" width="3.6" height="3.6" fill="#d2d2d2" stroke="#000" stroke-width="1"/>
<rect x="346.6" y="297.6" width="3.6" height="3.6" fill="#d2d2d2" stroke="#000" stroke-width="1"/>
<rect x="307.5" y="300.8" width="3.6" height="3.6" fill="#d2d2d2" stroke="#000" stroke-width="1"/>
<rect x="308.9" y="302.6" width="3.6" height="3.6" fill="#d2d2d2" stroke="#000" stroke-width="1"/>
<rect x="316.6" y="302.6" width="3.6" height="3.6" fill="#d2d2d2" stroke="#000" stroke-width="1"/>
<rect x="316.8" y="338.5" width="3.8" height="3.8" fill="#5050d8" stroke="#000" stroke-width="1"/>
<rect x="346.0" y="338.5" width="3.8" height="3.8" fill="#3838e0" stroke="#000" stroke-width="1"/>
<rect x="367.5" y="337.4" width="10" height="10" fill="#0000f0" stroke="#000" stroke-width="1"/>
<rect x="326.6" y="362.3" width="10" height="10" fill="#00f0f0" stroke="#000" stroke-width="1"/>
<rect x="323.3" y="51" width="91" height="89.2" fill="#fff" stroke="#000" stroke-width="1.1"/>
<polygon points="331.2,51.7 335.6,56.4 341.6,60.8 346.0,65.2 346.8,68.0 342.7,69.6 342.4,70.7 347.7,71.8 348.2,74.0 345.5,77.9 343.5,80.6 344.9,83.4 346.0,87.2 351.0,88.9 355.4,91.1 357.8,94.1 359.5,93.3 361.4,90.5 355.9,84.5 355.4,82.8 356.5,82.3 361.4,86.1 363.9,89.1 365.3,92.2 366.4,94.2 371.8,95.3 375.1,97.5 381.7,101.3 385.0,104.1 385.6,108.5 383.4,110.7 383.9,112.9 387.2,114.5 390.5,117.8 394.9,120.8 399.3,121.7 401.5,117.8 404.8,117.3 409.2,118.9 413.1,119.5 413.1,104.6 411.4,101.3 408.7,98.6 405.9,95.3 401.5,93.1 399.3,92.2 393.8,85.6 389.4,77.9 385.3,71.8 383.9,68.5 380.9,64.1 380.6,59.7 385.3,55.3 383.4,51.7" fill="#e8e8e8" stroke="#000" stroke-width="1"/>
<line x1="331.2" y1="52" x2="383.4" y2="52" stroke="#e8e8e8" stroke-width="1.5"/>
<polygon points="343.1,51.5 351.5,51.5 355.4,52.8 359.8,58.1 363.3,63.6 363.3,67.4 360.3,69.1 357.6,67.4 351.0,65.8 348.8,64.9 345.5,61.4 343.8,57.0" fill="#fff" stroke="#000" stroke-width="1"/>
<polyline points="346.8,66.3 351.0,65.8 357.6,67.4 362.0,69.1 366.4,67.4 370.7,68.5 374.0,71.8 379.5,72.9 383.9,71.5 385.3,71.8" fill="none" stroke="#000" stroke-width="1"/>
<polyline points="399.3,93.1 397.1,96.4 397.3,103.0 400.4,104.6 402.1,108.5 401.5,117.8" fill="none" stroke="#000" stroke-width="1"/>
<path d="M407.3,99.6 l1.6,0.6 l0.8,1.2 l1.6,0.2 M409.5,98.6 l1.2,0.8" fill="none" stroke="#000" stroke-width="1.3"/>
<rect x="323.3" y="51" width="91" height="89.2" fill="none" stroke="#000" stroke-width="1.1"/>
<circle cx="395.5" cy="113.3" r="8.3" fill="#ffffff" fill-opacity="0.45" stroke="none"/>
<polyline points="389.4,109.1 390.2,111.0 391.0,113.0 392.6,114.6 394.5,117.0 396.5,118.6" fill="none" stroke="#000" stroke-width="1"/>
<polyline points="397.6,107.2 399.4,109.5 399.6,112.5 398.2,115.0 399.5,117.5 398.6,121.0" fill="none" stroke="#000" stroke-width="1"/>
<polygon points="403.4,116.6 398.8,121.2 392.2,121.2 387.6,116.6 387.6,110.0 392.2,105.4 398.8,105.4 403.4,110.0" fill="none" stroke="#ff0000" stroke-width="1.15" stroke-linejoin="miter"/>
<line x1="403.1" y1="113.3" x2="404.4" y2="113.3" stroke="#ff0000" stroke-width="1"/>
<line x1="395.5" y1="120.9" x2="395.5" y2="122.2" stroke="#ff0000" stroke-width="1"/>
<line x1="387.9" y1="113.3" x2="386.6" y2="113.3" stroke="#ff0000" stroke-width="1"/>
<line x1="395.5" y1="105.7" x2="395.5" y2="104.4" stroke="#ff0000" stroke-width="1"/>
<polygon points="400.6,115.4 397.6,118.4 393.4,118.4 390.4,115.4 390.4,111.2 393.4,108.2 397.6,108.2 400.6,111.2" fill="none" stroke="#ff0000" stroke-width="1.15" stroke-linejoin="miter"/>
<line x1="400.3" y1="113.3" x2="401.6" y2="113.3" stroke="#ff0000" stroke-width="1"/>
<line x1="395.5" y1="118.1" x2="395.5" y2="119.4" stroke="#ff0000" stroke-width="1"/>
<line x1="390.7" y1="113.3" x2="389.4" y2="113.3" stroke="#ff0000" stroke-width="1"/>
<line x1="395.5" y1="108.5" x2="395.5" y2="107.2" stroke="#ff0000" stroke-width="1"/>
<polygon points="397.8,114.3 396.5,115.6 394.5,115.6 393.2,114.3 393.2,112.3 394.5,111.0 396.5,111.0 397.8,112.3" fill="none" stroke="#ff0000" stroke-width="1.15" stroke-linejoin="miter"/>
<line x1="397.5" y1="113.3" x2="398.8" y2="113.3" stroke="#ff0000" stroke-width="1"/>
<line x1="395.5" y1="115.3" x2="395.5" y2="116.6" stroke="#ff0000" stroke-width="1"/>
<line x1="393.5" y1="113.3" x2="392.2" y2="113.3" stroke="#ff0000" stroke-width="1"/>
<line x1="395.5" y1="111.3" x2="395.5" y2="110.0" stroke="#ff0000" stroke-width="1"/>
<rect x="52.6" y="50.8" width="361.6" height="361.6" fill="none" stroke="#000" stroke-width="1.35"/>
<defs><linearGradient id="cb" x1="0" y1="1" x2="0" y2="0">
<stop offset="0" stop-color="#ffffff"/>
<stop offset="0.114" stop-color="#b0b0b0"/>
<stop offset="0.143" stop-color="#9090c8"/>
<stop offset="0.229" stop-color="#4040e0"/>
<stop offset="0.286" stop-color="#0808f8"/>
<stop offset="0.407" stop-color="#00ffff"/>
<stop offset="0.428" stop-color="#00f0c0"/>
<stop offset="0.5" stop-color="#00f880"/>
<stop offset="0.571" stop-color="#00e840"/>
<stop offset="0.6" stop-color="#00e000"/>
<stop offset="0.632" stop-color="#70e420"/>
<stop offset="0.648" stop-color="#d8f810"/>
<stop offset="0.657" stop-color="#ffff00"/>
<stop offset="0.714" stop-color="#ffd000"/>
<stop offset="0.786" stop-color="#ffa000"/>
<stop offset="0.857" stop-color="#ff4000"/>
<stop offset="0.9" stop-color="#ff0000"/>
<stop offset="0.985" stop-color="#200000"/>
<stop offset="1" stop-color="#000000"/>
</linearGradient></defs>
<rect x="422.6" y="50.5" width="18" height="361.8" fill="url(#cb)" stroke="#000" stroke-width="1.2"/>
<line x1="423" y1="360.6" x2="427" y2="360.6" stroke="#000" stroke-width="1"/>
<line x1="436" y1="360.6" x2="440.5" y2="360.6" stroke="#000" stroke-width="1"/>
<line x1="423" y1="308.9" x2="427" y2="308.9" stroke="#000" stroke-width="1"/>
<line x1="436" y1="308.9" x2="440.5" y2="308.9" stroke="#000" stroke-width="1"/>
<line x1="423" y1="257.2" x2="427" y2="257.2" stroke="#000" stroke-width="1"/>
<line x1="436" y1="257.2" x2="440.5" y2="257.2" stroke="#000" stroke-width="1"/>
<line x1="423" y1="205.5" x2="427" y2="205.5" stroke="#000" stroke-width="1"/>
<line x1="436" y1="205.5" x2="440.5" y2="205.5" stroke="#000" stroke-width="1"/>
<line x1="423" y1="153.8" x2="427" y2="153.8" stroke="#000" stroke-width="1"/>
<line x1="436" y1="153.8" x2="440.5" y2="153.8" stroke="#000" stroke-width="1"/>
<line x1="423" y1="102.1" x2="427" y2="102.1" stroke="#000" stroke-width="1"/>
<line x1="436" y1="102.1" x2="440.5" y2="102.1" stroke="#000" stroke-width="1"/>
<clipPath id="c0"><rect x="506.2" y="20.5" width="284.09999999999997" height="54.3"/></clipPath>
<path d="M506.7,50.7 L506.9,50.7 L507.1,50.8 L507.4,50.7 L507.6,50.7 L507.8,50.6 L508.0,50.8 L508.2,50.7 L508.5,50.7 L508.7,50.7 L508.9,50.7 L509.1,50.6 L509.3,50.7 L509.6,50.8 L509.8,50.8 L510.0,50.7 L510.2,50.6 L510.4,50.7 L510.7,50.6 L510.9,50.8 L511.1,50.7 L511.3,50.7 L511.5,50.6 L511.8,50.7 L512.0,50.6 L512.2,50.8 L512.4,50.8 L512.6,50.7 L512.9,50.8 L513.1,50.6 L513.3,50.8 L513.5,50.7 L513.7,50.8 L514.0,50.7 L514.2,50.8 L514.4,50.8 L514.6,50.7 L514.8,50.8 L515.1,50.7 L515.3,50.8 L515.5,50.6 L515.7,50.7 L515.9,50.6 L516.2,50.7 L516.4,50.6 L516.6,50.8 L516.8,50.8 L517.0,50.7 L517.3,50.8 L517.5,50.6 L517.7,50.8 L517.9,50.6 L518.1,50.7 L518.4,50.6 L518.6,50.7 L518.8,50.7 L519.0,50.8 L519.2,50.8 L519.5,50.7 L519.7,50.7 L519.9,50.6 L520.1,50.7 L520.3,50.6 L520.6,50.7 L520.8,50.6 L521.0,50.8 L521.2,50.8 L521.4,50.7 L521.7,50.7 L521.9,50.7 L522.1,50.6 L522.3,50.8 L522.5,50.8 L522.8,50.6 L523.0,50.7 L523.2,50.7 L523.4,50.7 L523.6,50.6 L523.9,50.7 L524.1,50.6 L524.3,50.7 L524.5,50.6 L524.7,50.7 L525.0,50.7 L525.2,50.8 L525.4,50.7 L525.6,50.8 L525.8,50.6 L526.1,50.7 L526.3,50.8 L526.5,50.8 L526.7,50.7 L526.9,50.7 L527.2,50.7 L527.4,50.8 L527.6,50.6 L527.8,50.7 L528.0,50.7 L528.3,50.7 L528.5,50.7 L528.7,50.6 L528.9,50.7 L529.1,50.6 L529.4,50.8 L529.6,50.7 L529.8,50.7 L530.0,50.8 L530.2,50.7 L530.5,50.8 L530.7,50.7 L530.9,50.6 L531.1,50.8 L531.3,50.7 L531.6,50.8 L531.8,50.7 L532.0,50.7 L532.2,50.8 L532.4,50.7 L532.7,50.8 L532.9,50.7 L533.1,50.7 L533.3,50.6 L533.5,50.8 L533.8,50.6 L534.0,50.7 L534.2,50.7 L534.4,50.7 L534.6,50.7 L534.9,50.8 L535.1,50.7 L535.3,50.6 L535.5,50.7 L535.7,50.7 L536.0,50.7 L536.2,50.7 L536.4,50.7 L536.6,50.8 L536.8,50.7 L537.1,50.8 L537.3,50.7 L537.5,50.7 L537.7,50.7 L537.9,50.6 L538.2,50.8 L538.4,50.7 L538.6,50.8 L538.8,50.7 L539.0,50.7 L539.3,50.7 L539.5,50.8 L539.7,50.7 L539.9,50.8 L540.1,50.6 L540.4,50.8 L540.6,50.7 L540.8,50.6 L541.0,50.8 L541.2,50.7 L541.5,50.7 L541.7,50.6 L541.9,50.7 L542.1,50.6 L542.3,50.8 L542.6,50.6 L542.8,50.7 L543.0,50.6 L543.2,50.7 L543.4,50.6 L543.7,50.8 L543.9,50.6 L544.1,50.8 L544.3,50.7 L544.5,50.8 L544.8,50.6 L545.0,50.8 L545.2,50.8 L545.4,50.6 L545.6,50.7 L545.9,50.7 L546.1,50.7 L546.3,50.8 L546.5,50.6 L546.7,50.7 L547.0,50.8 L547.2,50.7 L547.4,50.7 L547.6,50.7 L547.8,50.7 L548.1,50.8 L548.3,50.6 L548.5,50.7 L548.7,50.7 L548.9,50.6 L549.2,50.7 L549.4,50.7 L549.6,50.8 L549.8,50.7 L550.0,50.7 L550.3,50.7 L550.5,50.8 L550.7,50.6 L550.9,50.8 L551.1,50.6 L551.4,50.7 L551.6,50.7 L551.8,50.8 L552.0,50.8 L552.2,50.6 L552.5,50.7 L552.7,50.6 L552.9,50.7 L553.1,50.7 L553.3,50.6 L553.6,50.8 L553.8,50.6 L554.0,50.7 L554.2,50.6 L554.4,50.8 L554.7,50.7 L554.9,50.6 L555.1,50.7 L555.3,50.7 L555.5,50.7 L555.8,50.7 L556.0,50.7 L556.2,50.7 L556.4,50.7 L556.6,50.7 L556.9,50.8 L557.1,50.7 L557.3,50.8 L557.5,50.7 L557.7,50.8 L558.0,50.7 L558.2,50.8 L558.4,50.8 L558.6,50.7 L558.8,50.7 L559.1,50.7 L559.3,50.8 L559.5,50.7 L559.7,50.6 L559.9,50.8 L560.2,50.7 L560.4,50.7 L560.6,50.7 L560.8,50.8 L561.0,50.6 L561.3,50.8 L561.5,50.7 L561.7,50.7 L561.9,50.6 L562.1,50.8 L562.4,50.7 L562.6,50.8 L562.8,50.6 L563.0,50.8 L563.2,50.7 L563.5,50.8 L563.7,50.7 L563.9,50.8 L564.1,50.8 L564.3,50.7 L564.6,50.6 L564.8,50.7 L565.0,50.6 L565.2,50.8 L565.4,50.7 L565.7,50.7 L565.9,50.6 L566.1,50.7 L566.3,50.7 L566.5,50.6 L566.8,50.7 L567.0,50.8 L567.2,50.7 L567.4,50.7 L567.6,50.6 L567.9,50.7 L568.1,50.6 L568.3,50.8 L568.5,50.7 L568.7,50.6 L569.0,50.8 L569.2,50.7 L569.4,50.8 L569.6,50.7 L569.8,50.7 L570.1,50.8 L570.3,50.8 L570.5,50.7 L570.7,50.8 L570.9,50.6 L571.2,50.7 L571.4,50.8 L571.6,50.6 L571.8,50.8 L572.0,50.7 L572.3,50.7 L572.5,50.8 L572.7,50.6 L572.9,50.7 L573.1,50.6 L573.4,50.7 L573.6,50.6 L573.8,50.7 L574.0,50.8 L574.2,50.7 L574.5,50.7 L574.7,50.6 L574.9,50.8 L575.1,50.6 L575.3,50.8 L575.6,50.6 L575.8,50.8 L576.0,50.8 L576.2,50.6 L576.4,50.7 L576.7,50.8 L576.9,50.7 L577.1,50.7 L577.3,50.7 L577.5,50.7 L577.8,50.7 L578.0,50.6 L578.2,50.8 L578.4,50.7 L578.6,50.8 L578.9,50.7 L579.1,50.6 L579.3,50.8 L579.5,50.7 L579.7,50.8 L580.0,50.8 L580.2,50.7 L580.4,50.7 L580.6,50.8 L580.8,50.8 L581.1,50.7 L581.3,50.8 L581.5,50.6 L581.7,50.7 L581.9,50.7 L582.2,50.7 L582.4,50.7 L582.6,50.8 L582.8,50.7 L583.0,50.7 L583.3,50.6 L583.5,50.7 L583.7,50.8 L583.9,50.8 L584.1,50.7 L584.4,50.7 L584.6,50.7 L584.8,50.6 L585.0,50.8 L585.2,50.7 L585.5,50.8 L585.7,50.7 L585.9,50.7 L586.1,50.8 L586.3,50.6 L586.6,50.6 L586.8,50.7 L587.0,50.6 L587.2,50.7 L587.4,50.7 L587.7,50.7 L587.9,50.8 L588.1,50.7 L588.3,50.7 L588.5,50.7 L588.8,50.7 L589.0,50.7 L589.2,50.7 L589.4,50.6 L589.6,50.7 L589.9,50.7 L590.1,50.7 L590.3,50.7 L590.5,50.7 L590.7,50.7 L591.0,50.6 L591.2,50.8 L591.4,50.6 L591.6,50.8 L591.8,50.6 L592.1,50.7 L592.3,50.7 L592.5,50.8 L592.7,50.7 L592.9,50.7 L593.2,50.7 L593.4,50.7 L593.6,50.7 L593.8,50.6 L594.0,50.7 L594.3,50.6 L594.5,50.8 L594.7,50.8 L594.9,50.6 L595.1,50.7 L595.4,50.7 L595.6,50.6 L595.8,50.8 L596.0,50.7 L596.2,50.7 L596.5,50.8 L596.7,50.7 L596.9,50.7 L597.1,50.8 L597.3,50.8 L597.6,50.6 L597.8,50.8 L598.0,50.7 L598.2,50.7 L598.4,50.8 L598.7,50.7 L598.9,50.7 L599.1,50.7 L599.3,50.7 L599.5,50.7 L599.8,50.7 L600.0,50.7 L600.2,50.7 L600.4,50.6 L600.6,50.6 L600.9,50.8 L601.1,50.6 L601.3,50.7 L601.5,50.7 L601.7,50.6 L602.0,50.7 L602.2,50.7 L602.4,50.7 L602.6,50.6 L602.8,50.8 L603.1,50.7 L603.3,50.8 L603.5,50.8 L603.7,50.6 L603.9,50.7 L604.2,50.6 L604.4,50.7 L604.6,50.6 L604.8,50.7 L605.0,50.7 L605.3,50.6 L605.5,50.7 L605.7,50.7 L605.9,50.8 L606.1,50.7 L606.4,50.8 L606.6,50.6 L606.8,50.6 L607.0,50.8 L607.2,50.7 L607.5,50.7 L607.7,50.7 L607.9,50.7 L608.1,50.7 L608.3,50.8 L608.6,50.6 L608.8,50.8 L609.0,50.6 L609.2,50.7 L609.4,50.7 L609.7,50.7 L609.9,50.8 L610.1,50.7 L610.3,50.7 L610.5,50.8 L610.8,50.7 L611.0,50.8 L611.2,50.6 L611.4,50.8 L611.6,50.8 L611.9,50.7 L612.1,50.6 L612.3,50.8 L612.5,50.8 L612.7,50.6 L613.0,50.8 L613.2,50.7 L613.4,50.8 L613.6,50.6 L613.8,50.7 L614.1,50.8 L614.3,50.7 L614.5,50.7 L614.7,50.7 L614.9,50.7 L615.2,50.7 L615.4,50.7 L615.6,50.8 L615.8,50.7 L616.0,50.7 L616.3,50.6 L616.5,50.7 L616.7,50.7 L616.9,50.7 L617.1,50.7 L617.4,50.6 L617.6,50.7 L617.8,50.7 L618.0,50.8 L618.2,50.7 L618.5,50.7 L618.7,50.7 L618.9,50.8 L619.1,50.8 L619.3,50.7 L619.6,50.8 L619.8,50.7 L620.0,50.7 L620.2,50.7 L620.4,50.7 L620.7,50.7 L620.9,50.8 L621.1,50.6 L621.3,50.7 L621.5,50.6 L621.8,50.7 L622.0,50.8 L622.2,50.6 L622.4,50.7 L622.6,50.6 L622.9,50.7 L623.1,50.7 L623.3,50.7 L623.5,50.8 L623.7,50.7 L624.0,50.7 L624.2,50.6 L624.4,50.8 L624.6,50.7 L624.8,50.7 L625.1,50.8 L625.3,50.7 L625.5,50.7 L625.7,50.8 L625.9,50.8 L626.2,50.7 L626.4,50.8 L626.6,50.6 L626.8,50.7 L627.0,50.7 L627.3,50.7 L627.5,50.6 L627.7,50.7 L627.9,50.7 L628.1,50.7 L628.4,50.7 L628.6,50.8 L628.8,50.7 L629.0,50.7 L629.2,50.6 L629.5,50.8 L629.7,50.7 L629.9,50.7 L630.1,50.8 L630.3,50.6 L630.6,50.7 L630.8,50.7 L631.0,50.7 L631.2,50.7 L631.4,50.7 L631.7,50.6 L631.9,50.7 L632.1,50.7 L632.3,50.6 L632.5,50.8 L632.8,50.7 L633.0,50.7 L633.2,50.6 L633.4,50.7 L633.6,50.8 L633.9,50.7 L634.1,50.7 L634.3,50.7 L634.5,50.8 L634.7,50.7 L635.0,50.8 L635.2,50.7 L635.4,50.8 L635.6,50.7 L635.8,50.6 L636.1,50.8 L636.3,50.7 L636.5,50.7 L636.7,50.7 L636.9,50.7 L637.2,50.7 L637.4,50.7 L637.6,50.7 L637.8,50.8 L638.0,50.7 L638.3,50.8 L638.5,50.7 L638.7,50.8 L638.9,50.6 L639.1,50.7 L639.4,50.7 L639.6,50.7 L639.8,50.7 L640.0,50.7 L640.2,50.7 L640.5,50.7 L640.7,50.7 L640.9,50.7 L641.1,50.7 L641.3,50.7 L641.6,50.6 L641.8,50.7 L642.0,50.7 L642.2,50.8 L642.4,50.7 L642.7,50.6 L642.9,50.8 L643.1,50.7 L643.3,50.7 L643.5,50.7 L643.8,50.7 L644.0,50.7 L644.2,50.7 L644.4,50.6 L644.6,50.7 L644.9,50.6 L645.1,50.7 L645.3,50.8 L645.5,50.7 L645.7,50.8 L646.0,50.7 L646.2,50.8 L646.4,50.6 L646.6,50.7 L646.8,50.8 L647.1,50.7 L647.3,50.7 L647.5,50.7 L647.7,50.6 L647.9,50.7 L648.2,50.7 L648.4,50.7 L648.6,50.8 L648.8,50.7 L649.0,50.6 L649.3,50.8 L649.5,50.7 L649.7,50.7 L649.9,50.6 L650.1,50.8 L650.4,50.6 L650.6,50.8 L650.8,50.6 L651.0,50.8 L651.2,50.6 L651.5,50.8 L651.7,50.7 L651.9,50.6 L652.1,50.7 L652.3,50.6 L652.6,50.7 L652.8,50.7 L653.0,50.6 L653.2,50.7 L653.4,50.7 L653.7,50.8 L653.9,50.6 L654.1,50.7 L654.3,50.7 L654.5,50.7 L654.8,50.6 L655.0,50.8 L655.2,50.7 L655.4,50.7 L655.6,50.6 L655.9,50.7 L656.1,50.7 L656.3,50.8 L656.5,50.7 L656.7,50.6 L657.0,50.6 L657.2,50.8 L657.4,50.6 L657.6,50.7 L657.8,50.8 L658.1,50.7 L658.3,50.7 L658.5,50.7 L658.7,50.8 L658.9,50.7 L659.2,50.8 L659.4,50.7 L659.6,50.8 L659.8,50.7 L660.0,50.7 L660.3,50.7 L660.5,50.7 L660.7,50.6 L660.9,50.8 L661.1,50.7 L661.4,50.8 L661.6,50.7 L661.8,50.7 L662.0,50.7 L662.2,50.8 L662.5,50.7 L662.7,50.8 L662.9,50.7 L663.1,50.7 L663.3,50.6 L663.6,50.7 L663.8,50.6 L664.0,50.7 L664.2,50.7 L664.4,50.8 L664.7,50.6 L664.9,50.7 L665.1,50.7 L665.3,50.6 L665.5,50.6 L665.8,50.8 L666.0,50.7 L666.2,50.6 L666.4,50.6 L666.6,50.7 L666.9,50.6 L667.1,50.7 L667.3,50.8 L667.5,50.6 L667.7,50.8 L668.0,50.7 L668.2,50.6 L668.4,50.7 L668.6,50.7 L668.8,50.7 L669.1,50.6 L669.3,50.7 L669.5,50.6 L669.7,50.7 L669.9,50.7 L670.2,50.6 L670.4,50.7 L670.6,50.7 L670.8,50.7 L671.0,50.6 L671.3,50.7 L671.5,50.6 L671.7,50.7 L671.9,50.6 L672.1,50.7 L672.4,50.6 L672.6,50.7 L672.8,50.6 L673.0,50.7 L673.2,50.6 L673.5,50.7 L673.7,50.7 L673.9,50.7 L674.1,50.8 L674.3,50.7 L674.6,50.8 L674.8,50.6 L675.0,50.7 L675.2,50.8 L675.4,50.7 L675.7,50.8 L675.9,50.7 L676.1,50.7 L676.3,50.7 L676.5,50.7 L676.8,50.7 L677.0,50.7 L677.2,50.7 L677.4,50.6 L677.6,50.8 L677.9,50.7 L678.1,50.7 L678.3,50.6 L678.5,50.6 L678.7,50.7 L679.0,50.7 L679.2,50.6 L679.4,50.7 L679.6,50.7 L679.8,50.7 L680.1,50.6 L680.3,50.7 L680.5,50.7 L680.7,50.7 L680.9,50.8 L681.2,50.6 L681.4,50.7 L681.6,50.7 L681.8,50.6 L682.0,50.7 L682.3,50.6 L682.5,50.7 L682.7,50.7 L682.9,50.6 L683.1,50.7 L683.4,50.7 L683.6,50.7 L683.8,50.7 L684.0,50.6 L684.2,50.7 L684.5,50.7 L684.7,50.7 L684.9,50.6 L685.1,50.7 L685.3,50.6 L685.6,50.7 L685.8,50.7 L686.0,50.7 L686.2,50.7 L686.4,50.8 L686.7,50.8 L686.9,50.7 L687.1,50.8 L687.3,50.7 L687.5,50.8 L687.8,50.7 L688.0,50.7 L688.2,50.7 L688.4,50.7 L688.6,50.7 L688.9,50.8 L689.1,50.7 L689.3,50.7 L689.5,50.7 L689.7,50.7 L690.0,50.8 L690.2,50.6 L690.4,50.8 L690.6,50.7 L690.8,50.7 L691.1,50.6 L691.3,50.8 L691.5,50.7 L691.7,50.7 L691.9,50.8 L692.2,50.7 L692.4,50.7 L692.6,50.7 L692.8,50.7 L693.0,50.7 L693.3,50.7 L693.5,50.7 L693.7,50.6 L693.9,50.8 L694.1,50.6 L694.4,50.7 L694.6,50.7 L694.8,51.8 L695.0,50.0 L695.2,50.3 L695.5,53.0 L695.7,49.4 L695.9,51.1 L696.1,48.7 L696.3,47.2 L696.6,51.0 L696.8,50.6 L697.0,49.3 L697.2,52.5 L697.4,48.8 L697.7,51.0 L697.9,49.2 L698.1,49.2 L698.3,52.5 L698.5,47.8 L698.8,51.3 L699.0,53.4 L699.2,50.5 L699.4,51.3 L699.6,48.2 L699.9,50.2 L700.1,50.4 L700.3,47.5 L700.5,49.8 L700.7,53.8 L701.0,48.3 L701.2,48.2 L701.4,52.7 L701.6,51.6 L701.8,49.4 L702.1,52.9 L702.3,47.5 L702.5,51.9 L702.7,50.2 L702.9,51.8 L703.2,48.6 L703.4,50.8 L703.6,48.0 L703.8,51.7 L704.0,50.3 L704.3,52.5 L704.5,51.5 L704.7,47.8 L704.9,53.6 L705.1,47.3 L705.4,52.5 L705.6,50.2 L705.8,51.3 L706.0,49.4 L706.2,52.0 L706.5,50.6 L706.7,52.7 L706.9,49.1 L707.1,49.1 L707.3,51.8 L707.6,50.5 L707.8,51.3 L708.0,48.4 L708.2,52.3 L708.4,51.6 L708.7,48.3 L708.9,52.7 L709.1,48.0 L709.3,52.4 L709.5,50.1 L709.8,52.5 L710.0,50.8 L710.2,49.3 L710.4,51.1 L710.6,50.6 L710.9,53.5 L711.1,50.4 L711.3,52.3 L711.5,53.1 L711.7,50.1 L712.0,51.7 L712.2,53.7 L712.4,49.3 L712.6,52.6 L712.8,52.9 L713.1,49.2 L713.3,50.5 L713.5,52.9 L713.7,55.4 L713.9,51.0 L714.2,46.7 L714.4,51.0 L714.6,53.6 L714.8,49.8 L715.0,51.7 L715.3,48.0 L715.5,55.3 L715.7,54.2 L715.9,50.8 L716.1,50.1 L716.4,51.5 L716.6,50.7 L716.8,45.0 L717.0,52.9 L717.2,47.6 L717.5,53.1 L717.7,46.8 L717.9,53.8 L718.1,48.4 L718.3,56.3 L718.6,48.4 L718.8,49.2 L719.0,51.5 L719.2,46.3 L719.4,52.2 L719.7,50.3 L719.9,51.2 L720.1,49.8 L720.3,56.2 L720.5,49.8 L720.8,53.0 L721.0,45.5 L721.2,52.9 L721.4,46.3 L721.6,52.5 L721.9,48.7 L722.1,54.5 L722.3,49.8 L722.5,49.4 L722.7,57.4 L723.0,45.5 L723.2,56.6 L723.4,48.9 L723.6,46.0 L723.8,52.6 L724.1,50.4 L724.3,55.3 L724.5,47.8 L724.7,50.0 L724.9,55.2 L725.2,47.3 L725.4,55.5 L725.6,43.9 L725.8,56.2 L726.0,60.6 L726.3,43.4 L726.5,54.3 L726.7,44.3 L726.9,60.9 L727.1,40.7 L727.4,53.3 L727.6,47.9 L727.8,52.3 L728.0,55.0 L728.2,36.1 L728.5,52.3 L728.7,45.8 L728.9,57.4 L729.1,41.6 L729.3,52.9 L729.6,41.7 L729.8,50.3 L730.0,31.3 L730.2,62.8 L730.4,23.8 L730.7,48.9 L730.9,69.9 L731.1,37.4 L731.3,41.8 L731.5,43.9 L731.8,74.2 L732.0,47.3 L732.2,55.2 L732.4,69.7 L732.6,40.8 L732.9,65.6 L733.1,48.6 L733.3,68.0 L733.5,42.9 L733.7,59.4 L734.0,48.0 L734.2,57.5 L734.4,51.5 L734.6,72.0 L734.8,67.5 L735.1,45.2 L735.3,39.1 L735.5,73.3 L735.7,39.8 L735.9,65.9 L736.2,62.6 L736.4,45.7 L736.6,57.1 L736.8,41.2 L737.0,37.5 L737.3,53.5 L737.5,42.3 L737.7,45.2 L737.9,58.9 L738.1,43.9 L738.4,52.0 L738.6,53.7 L738.8,39.6 L739.0,54.3 L739.2,46.4 L739.5,58.9 L739.7,41.8 L739.9,56.4 L740.1,45.6 L740.3,39.2 L740.6,53.2 L740.8,49.6 L741.0,61.9 L741.2,49.4 L741.4,54.3 L741.7,40.4 L741.9,43.9 L742.1,61.5 L742.3,40.6 L742.5,52.5 L742.8,44.3 L743.0,58.2 L743.2,53.4 L743.4,52.0 L743.6,46.6 L743.9,57.1 L744.1,43.8 L744.3,54.4 L744.5,49.9 L744.7,52.9 L745.0,46.1 L745.2,51.4 L745.4,46.7 L745.6,51.9 L745.8,39.9 L746.1,51.3 L746.3,40.1 L746.5,52.8 L746.7,46.6 L746.9,55.0 L747.2,44.8 L747.4,57.5 L747.6,38.6 L747.8,61.4 L748.0,45.3 L748.3,49.3 L748.5,55.4 L748.7,45.0 L748.9,51.8 L749.1,40.2 L749.4,50.4 L749.6,52.6 L749.8,57.5 L750.0,56.0 L750.2,50.1 L750.5,54.5 L750.7,47.3 L750.9,50.7 L751.1,48.9 L751.3,50.0 L751.6,47.7 L751.8,60.3 L752.0,47.3 L752.2,60.9 L752.4,49.0 L752.7,53.8 L752.9,40.4 L753.1,54.7 L753.3,47.9 L753.5,52.7 L753.8,43.9 L754.0,56.6 L754.2,50.6 L754.4,53.5 L754.6,42.6 L754.9,46.8 L755.1,56.6 L755.3,40.6 L755.5,53.9 L755.7,41.4 L756.0,59.0 L756.2,50.5 L756.4,55.9 L756.6,41.3 L756.8,50.0 L757.1,54.1 L757.3,50.1 L757.5,53.4 L757.7,51.4 L757.9,42.7 L758.2,51.7 L758.4,50.5 L758.6,53.1 L758.8,50.2 L759.0,46.5 L759.3,53.2 L759.5,48.1 L759.7,49.8 L759.9,51.3 L760.1,49.2 L760.4,53.5 L760.6,50.5 L760.8,50.8 L761.0,48.2 L761.2,57.1 L761.5,50.3 L761.7,55.8 L761.9,49.1 L762.1,49.0 L762.3,53.8 L762.6,50.2 L762.8,56.5 L763.0,47.9 L763.2,50.6 L763.4,53.9 L763.7,46.6 L763.9,51.2 L764.1,51.6 L764.3,48.8 L764.5,56.6 L764.8,45.5 L765.0,50.1 L765.2,54.4 L765.4,43.6 L765.6,51.0 L765.9,48.8 L766.1,51.7 L766.3,52.0 L766.5,48.9 L766.7,52.7 L767.0,45.8 L767.2,54.3 L767.4,56.3 L767.6,51.1 L767.8,49.2 L768.1,51.8 L768.3,48.7 L768.5,52.3 L768.7,49.8 L768.9,51.7 L769.2,50.3 L769.4,50.8 L769.6,49.8 L769.8,53.2 L770.0,48.0 L770.3,50.4 L770.5,53.3 L770.7,49.1 L770.9,51.4 L771.1,50.1 L771.4,51.6 L771.6,48.5 L771.8,51.3 L772.0,50.8 L772.2,50.5 L772.5,52.7 L772.7,49.4 L772.9,48.8 L773.1,51.8 L773.3,49.0 L773.6,51.8 L773.8,49.5 L774.0,51.9 L774.2,50.4 L774.4,51.3 L774.7,49.9 L774.9,50.8 L775.1,52.8 L775.3,48.6 L775.5,50.7 L775.8,52.3 L776.0,49.3 L776.2,51.8 L776.4,50.1 L776.6,50.6 L776.9,52.5 L777.1,49.9 L777.3,50.9 L777.5,50.6 L777.7,51.8 L778.0,50.4 L778.2,51.8 L778.4,49.6 L778.6,49.1 L778.8,50.9 L779.1,51.2 L779.3,50.9 L779.5,48.6 L779.7,52.9 L779.9,50.5 L780.2,51.0 L780.4,49.6 L780.6,52.9 L780.8,49.2 L781.0,52.5 L781.3,49.2 L781.5,49.3 L781.7,52.2 L781.9,49.3 L782.1,51.6 L782.4,50.0 L782.6,51.1 L782.8,49.1 L783.0,50.9 L783.2,50.6 L783.5,49.4 L783.7,49.7 L783.9,50.1 L784.1,51.4 L784.3,49.8 L784.6,51.0 L784.8,49.8 L785.0,52.6 L785.2,49.2 L785.4,49.2 L785.7,52.0 L785.9,49.8 L786.1,52.8 L786.3,50.7 L786.5,50.7 L786.8,48.8 L787.0,50.8 L787.2,50.0 L787.4,50.4 L787.6,50.9 L787.9,50.9 L788.1,49.1 L788.3,51.0 L788.5,50.3 L788.7,51.4 L789.0,50.2 L789.2,51.4 L789.4,50.6 L789.6,52.6" fill="none" stroke="#006400" stroke-width="0.62" stroke-linejoin="round" clip-path="url(#c0)"/>
<rect x="506.59999999999997" y="20.9" width="283.29999999999995" height="53.5" fill="none" stroke="#000" stroke-width="1.5"/>
<line x1="530.3" y1="20.5" x2="530.3" y2="16.0" stroke="#000" stroke-width="1"/>
<line x1="530.3" y1="74.8" x2="530.3" y2="79.3" stroke="#000" stroke-width="1"/>
<line x1="553.9" y1="20.5" x2="553.9" y2="16.0" stroke="#000" stroke-width="1"/>
<line x1="553.9" y1="74.8" x2="553.9" y2="79.3" stroke="#000" stroke-width="1"/>
<line x1="577.5" y1="20.5" x2="577.5" y2="16.0" stroke="#000" stroke-width="1"/>
<line x1="577.5" y1="74.8" x2="577.5" y2="79.3" stroke="#000" stroke-width="1"/>
<line x1="601.1" y1="20.5" x2="601.1" y2="16.0" stroke="#000" stroke-width="1"/>
<line x1="601.1" y1="74.8" x2="601.1" y2="79.3" stroke="#000" stroke-width="1"/>
<line x1="624.7" y1="20.5" x2="624.7" y2="16.0" stroke="#000" stroke-width="1"/>
<line x1="624.7" y1="74.8" x2="624.7" y2="79.3" stroke="#000" stroke-width="1"/>
<line x1="648.3" y1="20.5" x2="648.3" y2="16.0" stroke="#000" stroke-width="1"/>
<line x1="648.3" y1="74.8" x2="648.3" y2="79.3" stroke="#000" stroke-width="1"/>
<line x1="671.9" y1="20.5" x2="671.9" y2="16.0" stroke="#000" stroke-width="1"/>
<line x1="671.9" y1="74.8" x2="671.9" y2="79.3" stroke="#000" stroke-width="1"/>
<line x1="695.5" y1="20.5" x2="695.5" y2="16.0" stroke="#000" stroke-width="1"/>
<line x1="695.5" y1="74.8" x2="695.5" y2="79.3" stroke="#000" stroke-width="1"/>
<line x1="719.1" y1="20.5" x2="719.1" y2="16.0" stroke="#000" stroke-width="1"/>
<line x1="719.1" y1="74.8" x2="719.1" y2="79.3" stroke="#000" stroke-width="1"/>
<line x1="742.7" y1="20.5" x2="742.7" y2="16.0" stroke="#000" stroke-width="1"/>
<line x1="742.7" y1="74.8" x2="742.7" y2="79.3" stroke="#000" stroke-width="1"/>
<line x1="766.3" y1="20.5" x2="766.3" y2="16.0" stroke="#000" stroke-width="1"/>
<line x1="766.3" y1="74.8" x2="766.3" y2="79.3" stroke="#000" stroke-width="1"/>
<line x1="789.9" y1="20.5" x2="789.9" y2="16.0" stroke="#000" stroke-width="1"/>
<line x1="789.9" y1="74.8" x2="789.9" y2="79.3" stroke="#000" stroke-width="1"/>
<clipPath id="c1"><rect x="506.2" y="99.9" width="284.09999999999997" height="54.29999999999998"/></clipPath>
<path d="M506.7,134.4 L506.9,134.3 L507.1,134.3 L507.4,134.2 L507.6,134.4 L507.8,134.3 L508.0,134.3 L508.2,134.3 L508.5,134.3 L508.7,134.3 L508.9,134.3 L509.1,134.2 L509.3,134.4 L509.6,134.2 L509.8,134.3 L510.0,134.3 L510.2,134.3 L510.4,134.4 L510.7,134.2 L510.9,134.4 L511.1,134.2 L511.3,134.3 L511.5,134.4 L511.8,134.3 L512.0,134.4 L512.2,134.3 L512.4,134.3 L512.6,134.3 L512.9,134.2 L513.1,134.3 L513.3,134.2 L513.5,134.4 L513.7,134.3 L514.0,134.4 L514.2,134.3 L514.4,134.3 L514.6,134.3 L514.8,134.3 L515.1,134.3 L515.3,134.3 L515.5,134.4 L515.7,134.3 L515.9,134.4 L516.2,134.2 L516.4,134.4 L516.6,134.2 L516.8,134.3 L517.0,134.4 L517.3,134.2 L517.5,134.4 L517.7,134.3 L517.9,134.4 L518.1,134.3 L518.4,134.3 L518.6,134.2 L518.8,134.3 L519.0,134.2 L519.2,134.3 L519.5,134.4 L519.7,134.2 L519.9,134.3 L520.1,134.3 L520.3,134.4 L520.6,134.2 L520.8,134.3 L521.0,134.3 L521.2,134.4 L521.4,134.4 L521.7,134.2 L521.9,134.3 L522.1,134.4 L522.3,134.2 L522.5,134.3 L522.8,134.4 L523.0,134.2 L523.2,134.3 L523.4,134.3 L523.6,134.3 L523.9,134.3 L524.1,134.4 L524.3,134.2 L524.5,134.2 L524.7,134.3 L525.0,134.3 L525.2,134.4 L525.4,134.3 L525.6,134.3 L525.8,134.4 L526.1,134.3 L526.3,134.4 L526.5,134.3 L526.7,134.3 L526.9,134.3 L527.2,134.3 L527.4,134.3 L527.6,134.3 L527.8,134.3 L528.0,134.3 L528.3,134.3 L528.5,134.4 L528.7,134.2 L528.9,134.4 L529.1,134.2 L529.4,134.3 L529.6,134.4 L529.8,134.2 L530.0,134.3 L530.2,134.3 L530.5,134.2 L530.7,134.3 L530.9,134.3 L531.1,134.2 L531.3,134.2 L531.6,134.2 L531.8,134.3 L532.0,134.3 L532.2,134.2 L532.4,134.4 L532.7,134.3 L532.9,134.3 L533.1,134.3 L533.3,134.3 L533.5,134.4 L533.8,134.4 L534.0,134.2 L534.2,134.3 L534.4,134.3 L534.6,134.4 L534.9,134.3 L535.1,134.3 L535.3,134.3 L535.5,134.3 L535.7,134.3 L536.0,134.3 L536.2,134.3 L536.4,134.3 L536.6,134.2 L536.8,134.4 L537.1,134.4 L537.3,134.3 L537.5,134.3 L537.7,134.4 L537.9,134.4 L538.2,134.3 L538.4,134.3 L538.6,134.3 L538.8,134.3 L539.0,134.4 L539.3,134.4 L539.5,134.3 L539.7,134.3 L539.9,134.3 L540.1,134.3 L540.4,134.3 L540.6,134.4 L540.8,134.2 L541.0,134.4 L541.2,134.3 L541.5,134.2 L541.7,134.3 L541.9,134.3 L542.1,134.3 L542.3,134.3 L542.6,134.3 L542.8,134.3 L543.0,134.2 L543.2,134.4 L543.4,134.3 L543.7,134.3 L543.9,134.3 L544.1,134.2 L544.3,134.4 L544.5,134.2 L544.8,134.3 L545.0,134.3 L545.2,134.3 L545.4,134.4 L545.6,134.2 L545.9,134.3 L546.1,134.3 L546.3,134.4 L546.5,134.3 L546.7,134.3 L547.0,134.3 L547.2,134.3 L547.4,134.4 L547.6,134.4 L547.8,134.2 L548.1,134.3 L548.3,134.2 L548.5,134.3 L548.7,134.3 L548.9,134.3 L549.2,134.3 L549.4,134.3 L549.6,134.4 L549.8,134.2 L550.0,134.3 L550.3,134.2 L550.5,134.4 L550.7,134.3 L550.9,134.4 L551.1,134.4 L551.4,134.4 L551.6,134.3 L551.8,134.2 L552.0,134.4 L552.2,134.2 L552.5,134.4 L552.7,134.2 L552.9,134.2 L553.1,134.3 L553.3,134.4 L553.6,134.3 L553.8,134.3 L554.0,134.2 L554.2,134.4 L554.4,134.2 L554.7,134.4 L554.9,134.3 L555.1,134.3 L555.3,134.4 L555.5,134.2 L555.8,134.3 L556.0,134.2 L556.2,134.4 L556.4,134.3 L556.6,134.3 L556.9,134.2 L557.1,134.3 L557.3,134.2 L557.5,134.3 L557.7,134.4 L558.0,134.2 L558.2,134.3 L558.4,134.3 L558.6,134.3 L558.8,134.3 L559.1,134.3 L559.3,134.4 L559.5,134.4 L559.7,134.2 L559.9,134.3 L560.2,134.4 L560.4,134.2 L560.6,134.3 L560.8,134.3 L561.0,134.4 L561.3,134.2 L561.5,134.3 L561.7,134.2 L561.9,134.4 L562.1,134.3 L562.4,134.4 L562.6,134.3 L562.8,134.4 L563.0,134.2 L563.2,134.4 L563.5,134.3 L563.7,134.4 L563.9,134.2 L564.1,134.3 L564.3,134.2 L564.6,134.4 L564.8,134.3 L565.0,134.3 L565.2,134.4 L565.4,134.2 L565.7,134.4 L565.9,134.3 L566.1,134.3 L566.3,134.4 L566.5,134.2 L566.8,134.3 L567.0,134.3 L567.2,134.2 L567.4,134.3 L567.6,134.3 L567.9,134.4 L568.1,134.3 L568.3,134.3 L568.5,134.3 L568.7,134.3 L569.0,134.3 L569.2,134.3 L569.4,134.4 L569.6,134.3 L569.8,134.2 L570.1,134.3 L570.3,134.2 L570.5,134.3 L570.7,134.2 L570.9,134.4 L571.2,134.3 L571.4,134.3 L571.6,134.2 L571.8,134.4 L572.0,134.2 L572.3,134.3 L572.5,134.4 L572.7,134.3 L572.9,134.2 L573.1,134.4 L573.4,134.3 L573.6,134.4 L573.8,134.3 L574.0,134.3 L574.2,134.3 L574.5,134.3 L574.7,134.2 L574.9,134.3 L575.1,134.3 L575.3,134.4 L575.6,134.3 L575.8,134.3 L576.0,134.3 L576.2,134.4 L576.4,134.3 L576.7,134.3 L576.9,134.3 L577.1,134.4 L577.3,134.3 L577.5,134.3 L577.8,134.2 L578.0,134.3 L578.2,134.3 L578.4,134.3 L578.6,134.2 L578.9,134.3 L579.1,134.3 L579.3,134.2 L579.5,134.2 L579.7,134.4 L580.0,134.3 L580.2,134.4 L580.4,134.3 L580.6,134.4 L580.8,134.3 L581.1,134.3 L581.3,134.3 L581.5,134.3 L581.7,134.3 L581.9,134.3 L582.2,134.4 L582.4,134.3 L582.6,134.4 L582.8,134.2 L583.0,134.4 L583.3,134.2 L583.5,134.3 L583.7,134.2 L583.9,134.3 L584.1,134.3 L584.4,134.3 L584.6,134.3 L584.8,134.4 L585.0,134.3 L585.2,134.3 L585.5,134.2 L585.7,134.4 L585.9,134.2 L586.1,134.4 L586.3,134.3 L586.6,134.4 L586.8,134.2 L587.0,134.4 L587.2,134.2 L587.4,134.3 L587.7,134.4 L587.9,134.2 L588.1,134.3 L588.3,134.2 L588.5,134.4 L588.8,134.3 L589.0,134.3 L589.2,134.3 L589.4,134.4 L589.6,134.3 L589.9,134.3 L590.1,134.3 L590.3,134.3 L590.5,134.3 L590.7,134.3 L591.0,134.2 L591.2,134.3 L591.4,134.2 L591.6,134.3 L591.8,134.2 L592.1,134.3 L592.3,134.4 L592.5,134.3 L592.7,134.4 L592.9,134.2 L593.2,134.3 L593.4,134.4 L593.6,134.3 L593.8,134.3 L594.0,134.3 L594.3,134.2 L594.5,134.3 L594.7,134.3 L594.9,134.4 L595.1,134.2 L595.4,134.3 L595.6,134.3 L595.8,134.3 L596.0,134.4 L596.2,134.3 L596.5,134.3 L596.7,134.3 L596.9,134.3 L597.1,134.2 L597.3,134.4 L597.6,134.2 L597.8,134.3 L598.0,134.2 L598.2,134.2 L598.4,134.4 L598.7,134.3 L598.9,134.4 L599.1,134.3 L599.3,134.3 L599.5,134.3 L599.8,134.4 L600.0,134.4 L600.2,134.3 L600.4,134.2 L600.6,134.3 L600.9,134.2 L601.1,134.3 L601.3,134.2 L601.5,134.4 L601.7,134.3 L602.0,134.3 L602.2,134.2 L602.4,134.3 L602.6,134.3 L602.8,134.2 L603.1,134.3 L603.3,134.2 L603.5,134.2 L603.7,134.4 L603.9,134.3 L604.2,134.3 L604.4,134.3 L604.6,134.3 L604.8,134.3 L605.0,134.4 L605.3,134.3 L605.5,134.3 L605.7,134.3 L605.9,134.4 L606.1,134.3 L606.4,134.3 L606.6,134.2 L606.8,134.4 L607.0,134.2 L607.2,134.4 L607.5,134.4 L607.7,134.4 L607.9,134.3 L608.1,134.3 L608.3,134.3 L608.6,134.4 L608.8,134.4 L609.0,134.2 L609.2,134.3 L609.4,134.4 L609.7,134.2 L609.9,134.3 L610.1,134.4 L610.3,134.3 L610.5,134.3 L610.8,134.3 L611.0,134.3 L611.2,134.4 L611.4,134.3 L611.6,134.4 L611.9,134.3 L612.1,134.4 L612.3,134.3 L612.5,134.4 L612.7,134.2 L613.0,134.3 L613.2,134.2 L613.4,134.3 L613.6,134.2 L613.8,134.3 L614.1,134.2 L614.3,134.3 L614.5,134.2 L614.7,134.4 L614.9,134.3 L615.2,134.2 L615.4,134.4 L615.6,134.2 L615.8,134.3 L616.0,134.3 L616.3,134.3 L616.5,134.3 L616.7,134.2 L616.9,134.4 L617.1,134.3 L617.4,134.3 L617.6,134.3 L617.8,134.4 L618.0,134.2 L618.2,134.4 L618.5,134.3 L618.7,134.3 L618.9,134.3 L619.1,134.4 L619.3,134.3 L619.6,134.3 L619.8,134.4 L620.0,134.3 L620.2,134.4 L620.4,134.2 L620.7,134.4 L620.9,134.3 L621.1,134.4 L621.3,134.3 L621.5,134.4 L621.8,134.3 L622.0,134.3 L622.2,134.2 L622.4,134.4 L622.6,134.3 L622.9,134.3 L623.1,134.3 L623.3,134.3 L623.5,134.4 L623.7,134.3 L624.0,134.4 L624.2,134.2 L624.4,134.2 L624.6,134.4 L624.8,134.2 L625.1,134.4 L625.3,134.3 L625.5,134.4 L625.7,134.3 L625.9,134.4 L626.2,134.3 L626.4,134.3 L626.6,134.3 L626.8,134.4 L627.0,134.3 L627.3,134.3 L627.5,134.3 L627.7,134.2 L627.9,134.4 L628.1,134.3 L628.4,134.3 L628.6,134.2 L628.8,134.4 L629.0,134.3 L629.2,134.2 L629.5,134.3 L629.7,134.3 L629.9,134.2 L630.1,134.4 L630.3,134.3 L630.6,134.3 L630.8,134.3 L631.0,134.2 L631.2,134.4 L631.4,134.3 L631.7,134.3 L631.9,134.3 L632.1,134.3 L632.3,134.4 L632.5,134.2 L632.8,134.4 L633.0,134.3 L633.2,134.4 L633.4,134.4 L633.6,134.3 L633.9,134.4 L634.1,134.3 L634.3,134.3 L634.5,134.3 L634.7,134.3 L635.0,134.3 L635.2,134.4 L635.4,134.2 L635.6,134.3 L635.8,134.2 L636.1,134.3 L636.3,134.3 L636.5,134.4 L636.7,134.2 L636.9,134.4 L637.2,134.3 L637.4,134.4 L637.6,134.3 L637.8,134.3 L638.0,134.4 L638.3,134.4 L638.5,134.3 L638.7,134.2 L638.9,134.3 L639.1,134.3 L639.4,134.4 L639.6,134.4 L639.8,134.3 L640.0,134.3 L640.2,134.2 L640.5,134.3 L640.7,134.3 L640.9,134.3 L641.1,134.2 L641.3,134.3 L641.6,134.3 L641.8,134.3 L642.0,134.3 L642.2,134.4 L642.4,134.4 L642.7,134.3 L642.9,134.3 L643.1,134.3 L643.3,134.3 L643.5,134.3 L643.8,134.2 L644.0,134.4 L644.2,134.3 L644.4,134.3 L644.6,134.2 L644.9,134.3 L645.1,134.2 L645.3,134.4 L645.5,134.2 L645.7,134.3 L646.0,134.3 L646.2,134.2 L646.4,134.3 L646.6,134.2 L646.8,134.3 L647.1,134.2 L647.3,134.3 L647.5,134.3 L647.7,134.3 L647.9,134.4 L648.2,134.4 L648.4,134.4 L648.6,134.4 L648.8,134.2 L649.0,134.4 L649.3,134.3 L649.5,134.4 L649.7,134.3 L649.9,134.3 L650.1,134.3 L650.4,134.2 L650.6,134.4 L650.8,134.4 L651.0,134.3 L651.2,134.4 L651.5,134.2 L651.7,134.3 L651.9,134.3 L652.1,134.3 L652.3,134.3 L652.6,134.2 L652.8,134.3 L653.0,134.2 L653.2,134.2 L653.4,134.3 L653.7,134.2 L653.9,134.4 L654.1,134.3 L654.3,134.3 L654.5,134.3 L654.8,134.2 L655.0,134.4 L655.2,134.3 L655.4,134.3 L655.6,134.2 L655.9,134.2 L656.1,134.3 L656.3,134.2 L656.5,134.3 L656.7,134.2 L657.0,134.3 L657.2,134.2 L657.4,134.4 L657.6,134.3 L657.8,134.2 L658.1,134.4 L658.3,134.2 L658.5,134.4 L658.7,134.2 L658.9,134.2 L659.2,134.2 L659.4,134.4 L659.6,134.3 L659.8,134.4 L660.0,134.2 L660.3,134.2 L660.5,134.4 L660.7,134.3 L660.9,134.3 L661.1,134.3 L661.4,134.3 L661.6,134.3 L661.8,134.4 L662.0,134.2 L662.2,134.2 L662.5,134.3 L662.7,134.2 L662.9,134.4 L663.1,134.2 L663.3,134.4 L663.6,134.3 L663.8,134.3 L664.0,134.3 L664.2,134.2 L664.4,134.4 L664.7,134.2 L664.9,134.4 L665.1,134.3 L665.3,134.4 L665.5,134.3 L665.8,134.4 L666.0,134.2 L666.2,134.3 L666.4,134.4 L666.6,134.2 L666.9,134.4 L667.1,134.3 L667.3,134.4 L667.5,134.2 L667.7,134.4 L668.0,134.2 L668.2,134.3 L668.4,134.4 L668.6,134.3 L668.8,134.2 L669.1,134.4 L669.3,134.2 L669.5,134.3 L669.7,134.3 L669.9,134.3 L670.2,134.4 L670.4,134.3 L670.6,134.3 L670.8,134.3 L671.0,134.3 L671.3,134.3 L671.5,134.2 L671.7,134.3 L671.9,134.2 L672.1,134.3 L672.4,134.4 L672.6,134.4 L672.8,134.2 L673.0,134.3 L673.2,134.3 L673.5,134.3 L673.7,134.3 L673.9,134.3 L674.1,134.3 L674.3,134.4 L674.6,134.2 L674.8,134.4 L675.0,134.2 L675.2,134.3 L675.4,134.2 L675.7,134.4 L675.9,134.2 L676.1,134.4 L676.3,134.3 L676.5,134.4 L676.8,134.3 L677.0,134.3 L677.2,134.4 L677.4,134.2 L677.6,134.3 L677.9,134.2 L678.1,134.3 L678.3,134.3 L678.5,134.4 L678.7,134.3 L679.0,134.3 L679.2,134.2 L679.4,134.2 L679.6,134.3 L679.8,134.4 L680.1,134.2 L680.3,134.3 L680.5,134.3 L680.7,134.4 L680.9,134.3 L681.2,134.2 L681.4,134.4 L681.6,134.2 L681.8,134.4 L682.0,134.2 L682.3,134.2 L682.5,134.4 L682.7,134.2 L682.9,134.3 L683.1,134.4 L683.4,134.3 L683.6,134.3 L683.8,134.4 L684.0,133.7 L684.2,131.6 L684.5,134.5 L684.7,134.3 L684.9,136.9 L685.1,127.0 L685.3,132.1 L685.6,133.4 L685.8,143.5 L686.0,127.5 L686.2,146.6 L686.4,133.8 L686.7,132.9 L686.9,130.7 L687.1,134.4 L687.3,132.1 L687.5,135.9 L687.8,135.9 L688.0,137.0 L688.2,133.0 L688.4,135.5 L688.6,130.4 L688.9,134.9 L689.1,130.3 L689.3,135.7 L689.5,135.4 L689.7,131.2 L690.0,133.3 L690.2,136.6 L690.4,134.1 L690.6,131.2 L690.8,134.2 L691.1,133.8 L691.3,134.5 L691.5,134.2 L691.7,133.6 L691.9,135.8 L692.2,130.3 L692.4,130.7 L692.6,135.2 L692.8,131.3 L693.0,130.4 L693.3,137.1 L693.5,131.2 L693.7,135.9 L693.9,133.6 L694.1,134.3 L694.4,130.5 L694.6,136.1 L694.8,134.6 L695.0,132.7 L695.2,138.7 L695.5,136.8 L695.7,137.5 L695.9,135.0 L696.1,134.4 L696.3,129.8 L696.6,133.2 L696.8,138.6 L697.0,141.0 L697.2,140.2 L697.4,138.1 L697.7,139.6 L697.9,141.9 L698.1,133.7 L698.3,125.7 L698.5,140.4 L698.8,129.6 L699.0,135.6 L699.2,139.3 L699.4,128.6 L699.6,137.0 L699.9,134.6 L700.1,125.5 L700.3,135.3 L700.5,125.9 L700.7,127.7 L701.0,134.6 L701.2,131.7 L701.4,140.8 L701.6,131.4 L701.8,142.5 L702.1,134.5 L702.3,135.0 L702.5,130.2 L702.7,130.8 L702.9,139.0 L703.2,133.1 L703.4,135.0 L703.6,123.8 L703.8,132.7 L704.0,145.9 L704.3,131.2 L704.5,134.5 L704.7,128.3 L704.9,138.9 L705.1,127.2 L705.4,136.3 L705.6,138.9 L705.8,126.9 L706.0,138.2 L706.2,136.9 L706.5,125.3 L706.7,141.2 L706.9,130.6 L707.1,136.3 L707.3,131.7 L707.6,121.8 L707.8,142.3 L708.0,121.7 L708.2,140.5 L708.4,136.8 L708.7,134.5 L708.9,124.1 L709.1,143.7 L709.3,123.4 L709.5,134.4 L709.8,111.7 L710.0,153.1 L710.2,132.3 L710.4,136.0 L710.6,146.2 L710.9,103.2 L711.1,152.9 L711.3,104.3 L711.5,153.5 L711.7,132.8 L712.0,153.3 L712.2,141.1 L712.4,132.4 L712.6,141.6 L712.8,127.7 L713.1,146.0 L713.3,121.8 L713.5,138.6 L713.7,126.4 L713.9,132.0 L714.2,141.9 L714.4,127.3 L714.6,129.2 L714.8,118.0 L715.0,133.1 L715.3,120.0 L715.5,153.0 L715.7,127.1 L715.9,133.9 L716.1,140.9 L716.4,130.0 L716.6,130.3 L716.8,144.0 L717.0,121.4 L717.2,137.8 L717.5,137.5 L717.7,121.4 L717.9,138.1 L718.1,132.1 L718.3,135.1 L718.6,129.3 L718.8,136.2 L719.0,131.6 L719.2,135.0 L719.4,127.8 L719.7,143.8 L719.9,123.9 L720.1,138.1 L720.3,130.7 L720.5,144.7 L720.8,133.2 L721.0,136.1 L721.2,128.5 L721.4,136.4 L721.6,142.5 L721.9,142.7 L722.1,134.1 L722.3,135.7 L722.5,131.8 L722.7,137.5 L723.0,131.7 L723.2,134.1 L723.4,136.4 L723.6,138.0 L723.8,131.9 L724.1,134.9 L724.3,132.3 L724.5,135.2 L724.7,125.9 L724.9,135.5 L725.2,136.8 L725.4,127.1 L725.6,133.1 L725.8,141.3 L726.0,131.1 L726.3,136.0 L726.5,133.1 L726.7,136.0 L726.9,132.1 L727.1,136.3 L727.4,133.1 L727.6,140.9 L727.8,133.8 L728.0,142.5 L728.2,134.5 L728.5,135.7 L728.7,129.4 L728.9,130.1 L729.1,140.9 L729.3,134.2 L729.6,136.5 L729.8,135.3 L730.0,132.2 L730.2,132.9 L730.4,137.8 L730.7,129.1 L730.9,133.5 L731.1,135.6 L731.3,132.7 L731.5,135.7 L731.8,131.5 L732.0,140.0 L732.2,135.7 L732.4,130.3 L732.6,137.2 L732.9,133.2 L733.1,131.8 L733.3,127.9 L733.5,139.8 L733.7,130.8 L734.0,130.1 L734.2,135.9 L734.4,128.5 L734.6,135.5 L734.8,133.0 L735.1,139.5 L735.3,134.2 L735.5,135.8 L735.7,129.7 L735.9,137.4 L736.2,132.5 L736.4,136.6 L736.6,134.2 L736.8,138.4 L737.0,135.4 L737.3,132.9 L737.5,129.3 L737.7,131.0 L737.9,136.2 L738.1,134.7 L738.4,133.1 L738.6,137.5 L738.8,134.4 L739.0,133.9 L739.2,135.3 L739.5,133.6 L739.7,135.2 L739.9,132.2 L740.1,136.0 L740.3,131.3 L740.6,137.0 L740.8,133.6 L741.0,136.1 L741.2,130.6 L741.4,136.4 L741.7,130.7 L741.9,137.4 L742.1,132.0 L742.3,135.6 L742.5,133.1 L742.8,135.3 L743.0,129.6 L743.2,137.0 L743.4,129.9 L743.6,134.4 L743.9,133.2 L744.1,134.6 L744.3,137.9 L744.5,133.7 L744.7,133.4 L745.0,137.2 L745.2,138.7 L745.4,135.0 L745.6,133.5 L745.8,134.8 L746.1,130.6 L746.3,138.5 L746.5,132.7 L746.7,135.3 L746.9,134.1 L747.2,138.4 L747.4,133.6 L747.6,136.3 L747.8,133.5 L748.0,134.5 L748.3,133.9 L748.5,137.4 L748.7,134.2 L748.9,139.2 L749.1,136.8 L749.4,132.1 L749.6,131.1 L749.8,137.8 L750.0,133.1 L750.2,134.8 L750.5,136.0 L750.7,133.5 L750.9,136.5 L751.1,134.9 L751.3,131.5 L751.6,136.8 L751.8,133.5 L752.0,135.4 L752.2,132.6 L752.4,136.8 L752.7,136.2 L752.9,131.4 L753.1,135.2 L753.3,132.6 L753.5,135.1 L753.8,133.6 L754.0,134.4 L754.2,134.1 L754.4,137.2 L754.6,136.8 L754.9,131.6 L755.1,134.2 L755.3,134.7 L755.5,132.1 L755.7,137.2 L756.0,135.2 L756.2,132.8 L756.4,136.6 L756.6,134.1 L756.8,134.6 L757.1,134.0 L757.3,136.2 L757.5,134.8 L757.7,134.4 L757.9,131.6 L758.2,135.0 L758.4,133.7 L758.6,134.9 L758.8,133.7 L759.0,136.4 L759.3,133.6 L759.5,135.4 L759.7,135.5 L759.9,133.0 L760.1,136.1 L760.4,131.8 L760.6,134.4 L760.8,132.6 L761.0,134.6 L761.2,133.9 L761.5,133.5 L761.7,135.1 L761.9,134.2 L762.1,135.4 L762.3,133.7 L762.6,135.8 L762.8,133.5 L763.0,131.7 L763.2,136.2 L763.4,133.6 L763.7,135.5 L763.9,134.5 L764.1,132.4 L764.3,134.8 L764.5,132.1 L764.8,135.6 L765.0,135.8 L765.2,132.4 L765.4,135.1 L765.6,132.9 L765.9,135.1 L766.1,131.8 L766.3,131.7 L766.5,134.6 L766.7,134.3 L767.0,134.1 L767.2,136.5 L767.4,134.2 L767.6,134.5 L767.8,134.4 L768.1,133.5 L768.3,134.9 L768.5,131.7 L768.7,136.7 L768.9,133.5 L769.2,134.5 L769.4,134.1 L769.6,134.5 L769.8,133.2 L770.0,135.1 L770.3,133.2 L770.5,135.2 L770.7,133.0 L770.9,134.4 L771.1,133.0 L771.4,135.0 L771.6,132.2 L771.8,136.2 L772.0,132.5 L772.2,135.6 L772.5,134.0 L772.7,135.6 L772.9,133.6 L773.1,135.6 L773.3,133.4 L773.6,134.6 L773.8,134.3 L774.0,134.2 L774.2,135.0 L774.4,135.0 L774.7,135.3 L774.9,133.1 L775.1,135.3 L775.3,133.6 L775.5,135.8 L775.8,133.1 L776.0,135.3 L776.2,133.8 L776.4,134.4 L776.6,132.6 L776.9,132.8 L777.1,134.7 L777.3,132.6 L777.5,135.3 L777.7,134.7 L778.0,133.0 L778.2,134.7 L778.4,134.2 L778.6,133.2 L778.8,135.2 L779.1,133.9 L779.3,135.4 L779.5,132.9 L779.7,133.6 L779.9,135.3 L780.2,135.4 L780.4,133.9 L780.6,135.4 L780.8,132.7 L781.0,134.7 L781.3,133.9 L781.5,134.8 L781.7,134.2 L781.9,135.9 L782.1,134.2 L782.4,134.2 L782.6,134.0 L782.8,135.2 L783.0,134.2 L783.2,133.8 L783.5,134.6 L783.7,133.0 L783.9,133.9 L784.1,134.3 L784.3,133.5 L784.6,134.5 L784.8,133.1 L785.0,134.3 L785.2,134.5 L785.4,134.1 L785.7,134.5 L785.9,133.5 L786.1,134.7 L786.3,133.1 L786.5,134.8 L786.8,133.7 L787.0,134.7 L787.2,133.0 L787.4,134.7 L787.6,132.7 L787.9,135.5 L788.1,134.0 L788.3,134.2 L788.5,134.6 L788.7,133.2 L789.0,135.6 L789.2,134.9 L789.4,135.0 L789.6,133.9" fill="none" stroke="#006400" stroke-width="0.62" stroke-linejoin="round" clip-path="url(#c1)"/>
<rect x="506.59999999999997" y="100.30000000000001" width="283.29999999999995" height="53.499999999999986" fill="none" stroke="#000" stroke-width="1.5"/>
<line x1="528.3" y1="99.9" x2="528.3" y2="95.4" stroke="#000" stroke-width="1"/>
<line x1="528.3" y1="154.2" x2="528.3" y2="158.7" stroke="#000" stroke-width="1"/>
<line x1="551.9" y1="99.9" x2="551.9" y2="95.4" stroke="#000" stroke-width="1"/>
<line x1="551.9" y1="154.2" x2="551.9" y2="158.7" stroke="#000" stroke-width="1"/>
<line x1="575.5" y1="99.9" x2="575.5" y2="95.4" stroke="#000" stroke-width="1"/>
<line x1="575.5" y1="154.2" x2="575.5" y2="158.7" stroke="#000" stroke-width="1"/>
<line x1="599.1" y1="99.9" x2="599.1" y2="95.4" stroke="#000" stroke-width="1"/>
<line x1="599.1" y1="154.2" x2="599.1" y2="158.7" stroke="#000" stroke-width="1"/>
<line x1="622.7" y1="99.9" x2="622.7" y2="95.4" stroke="#000" stroke-width="1"/>
<line x1="622.7" y1="154.2" x2="622.7" y2="158.7" stroke="#000" stroke-width="1"/>
<line x1="646.3" y1="99.9" x2="646.3" y2="95.4" stroke="#000" stroke-width="1"/>
<line x1="646.3" y1="154.2" x2="646.3" y2="158.7" stroke="#000" stroke-width="1"/>
<line x1="669.9" y1="99.9" x2="669.9" y2="95.4" stroke="#000" stroke-width="1"/>
<line x1="669.9" y1="154.2" x2="669.9" y2="158.7" stroke="#000" stroke-width="1"/>
<line x1="693.5" y1="99.9" x2="693.5" y2="95.4" stroke="#000" stroke-width="1"/>
<line x1="693.5" y1="154.2" x2="693.5" y2="158.7" stroke="#000" stroke-width="1"/>
<line x1="717.1" y1="99.9" x2="717.1" y2="95.4" stroke="#000" stroke-width="1"/>
<line x1="717.1" y1="154.2" x2="717.1" y2="158.7" stroke="#000" stroke-width="1"/>
<line x1="740.7" y1="99.9" x2="740.7" y2="95.4" stroke="#000" stroke-width="1"/>
<line x1="740.7" y1="154.2" x2="740.7" y2="158.7" stroke="#000" stroke-width="1"/>
<line x1="764.3" y1="99.9" x2="764.3" y2="95.4" stroke="#000" stroke-width="1"/>
<line x1="764.3" y1="154.2" x2="764.3" y2="158.7" stroke="#000" stroke-width="1"/>
<line x1="787.9" y1="99.9" x2="787.9" y2="95.4" stroke="#000" stroke-width="1"/>
<line x1="787.9" y1="154.2" x2="787.9" y2="158.7" stroke="#000" stroke-width="1"/>
<clipPath id="c2"><rect x="506.2" y="179.2" width="284.09999999999997" height="54.5"/></clipPath>
<path d="M506.7,212.6 L507.0,212.7 L507.3,212.5 L507.6,212.7 L507.9,212.6 L508.2,212.7 L508.5,212.5 L508.8,212.5 L509.1,212.6 L509.4,212.6 L509.7,212.6 L510.0,212.6 L510.3,212.6 L510.6,212.6 L510.9,212.6 L511.2,212.7 L511.5,212.6 L511.8,212.7 L512.1,212.7 L512.4,212.6 L512.7,212.5 L513.0,212.6 L513.3,212.5 L513.6,212.7 L513.9,212.6 L514.2,212.6 L514.5,212.5 L514.8,212.6 L515.1,212.5 L515.4,212.5 L515.7,212.6 L516.0,212.6 L516.3,212.6 L516.6,212.6 L516.9,212.6 L517.2,212.5 L517.5,212.5 L517.8,212.7 L518.1,212.5 L518.4,212.7 L518.7,212.5 L519.0,212.6 L519.3,212.6 L519.6,212.5 L519.9,212.6 L520.2,212.6 L520.5,212.5 L520.8,212.7 L521.1,212.5 L521.4,212.6 L521.7,212.6 L522.0,212.6 L522.3,212.6 L522.6,212.6 L522.9,212.6 L523.2,212.7 L523.5,212.6 L523.8,212.6 L524.1,212.6 L524.4,212.6 L524.7,212.6 L525.0,212.7 L525.3,212.6 L525.6,212.7 L525.9,212.6 L526.2,212.7 L526.5,212.7 L526.8,212.6 L527.1,212.7 L527.4,212.6 L527.7,212.6 L528.0,212.7 L528.3,212.6 L528.6,212.5 L528.9,212.6 L529.2,212.5 L529.5,212.6 L529.8,212.6 L530.1,212.6 L530.4,212.5 L530.7,212.6 L531.0,212.6 L531.3,212.6 L531.6,212.7 L531.9,212.5 L532.2,212.5 L532.5,212.7 L532.8,212.5 L533.1,212.6 L533.4,212.6 L533.7,212.7 L534.0,212.6 L534.3,212.5 L534.6,212.6 L534.9,212.7 L535.2,212.5 L535.5,212.8 L535.8,212.5 L536.1,212.6 L536.4,212.7 L536.7,212.6 L537.0,212.7 L537.3,212.6 L537.6,212.6 L537.9,212.6 L538.2,212.6 L538.5,212.6 L538.8,212.5 L539.1,212.6 L539.4,212.6 L539.7,212.6 L540.0,212.5 L540.3,212.6 L540.6,212.6 L540.9,212.7 L541.2,212.6 L541.5,212.7 L541.8,212.5 L542.1,212.6 L542.4,212.6 L542.7,212.6 L543.0,212.5 L543.3,212.5 L543.6,212.7 L543.9,212.6 L544.2,212.7 L544.5,212.4 L544.8,212.6 L545.1,212.5 L545.4,212.7 L545.7,212.6 L546.0,212.7 L546.3,212.5 L546.6,212.7 L546.9,212.6 L547.2,212.5 L547.5,212.7 L547.8,212.6 L548.1,212.7 L548.4,212.5 L548.7,212.5 L549.0,212.6 L549.3,212.6 L549.6,212.6 L549.9,212.6 L550.2,212.5 L550.5,212.6 L550.8,212.7 L551.1,212.5 L551.4,212.7 L551.7,212.6 L552.0,212.6 L552.3,212.6 L552.6,212.7 L552.9,212.6 L553.2,212.5 L553.5,212.5 L553.8,212.7 L554.1,212.6 L554.4,212.6 L554.7,212.6 L555.0,212.6 L555.3,212.8 L555.6,212.6 L555.9,212.6 L556.2,212.5 L556.5,212.7 L556.8,212.5 L557.1,212.6 L557.4,212.5 L557.7,212.5 L558.0,212.7 L558.3,212.4 L558.6,212.7 L558.9,212.5 L559.2,212.8 L559.5,212.8 L559.8,212.5 L560.1,212.6 L560.4,212.6 L560.7,212.8 L561.0,212.6 L561.3,212.6 L561.6,212.4 L561.9,212.7 L562.2,212.4 L562.5,212.6 L562.8,212.5 L563.1,212.6 L563.4,212.7 L563.7,212.5 L564.0,212.8 L564.3,212.5 L564.6,212.7 L564.9,212.5 L565.2,212.5 L565.5,212.5 L565.8,212.8 L566.1,212.4 L566.4,212.8 L566.7,212.6 L567.0,212.7 L567.3,212.4 L567.6,212.5 L567.9,212.5 L568.2,212.6 L568.5,212.5 L568.8,212.7 L569.1,212.5 L569.4,212.5 L569.7,212.7 L570.0,212.6 L570.3,212.7 L570.6,212.5 L570.9,212.7 L571.2,212.5 L571.5,212.8 L571.8,212.6 L572.1,212.7 L572.4,212.4 L572.7,212.8 L573.0,212.4 L573.3,212.6 L573.6,212.6 L573.9,212.7 L574.2,212.5 L574.5,212.5 L574.8,212.8 L575.1,212.5 L575.4,212.5 L575.7,212.6 L576.0,212.6 L576.3,212.5 L576.6,212.7 L576.9,212.7 L577.2,212.7 L577.5,212.5 L577.8,212.4 L578.1,212.7 L578.4,212.4 L578.7,212.6 L579.0,212.5 L579.3,212.5 L579.6,212.6 L579.9,212.6 L580.2,212.6 L580.5,212.7 L580.8,212.4 L581.1,212.8 L581.4,212.8 L581.7,212.5 L582.0,212.6 L582.3,212.7 L582.6,212.7 L582.9,212.5 L583.2,212.8 L583.5,212.6 L583.8,212.7 L584.1,212.4 L584.4,212.5 L584.7,212.7 L585.0,212.5 L585.3,212.7 L585.6,212.6 L585.9,212.4 L586.2,212.7 L586.5,212.5 L586.8,212.6 L587.1,212.8 L587.4,212.5 L587.7,212.8 L588.0,212.6 L588.3,212.6 L588.6,212.5 L588.9,212.6 L589.2,212.6 L589.5,212.7 L589.8,212.5 L590.1,212.6 L590.4,212.5 L590.7,212.7 L591.0,212.6 L591.3,212.7 L591.6,212.5 L591.9,212.6 L592.2,212.4 L592.5,212.6 L592.8,212.6 L593.1,212.6 L593.4,212.6 L593.7,212.8 L594.0,212.4 L594.3,212.7 L594.6,212.6 L594.9,212.5 L595.2,212.7 L595.5,212.5 L595.8,212.4 L596.1,212.6 L596.4,212.8 L596.7,212.6 L597.0,212.5 L597.3,212.6 L597.6,212.6 L597.9,212.8 L598.2,212.7 L598.5,212.3 L598.8,212.7 L599.1,212.4 L599.4,212.6 L599.7,212.7 L600.0,212.5 L600.3,212.6 L600.6,212.4 L600.9,212.6 L601.2,212.5 L601.5,212.7 L601.8,212.5 L602.1,212.7 L602.4,212.7 L602.7,212.5 L603.0,212.7 L603.3,212.4 L603.6,212.7 L603.9,212.3 L604.2,212.6 L604.5,212.4 L604.8,212.8 L605.1,212.6 L605.4,212.8 L605.7,212.4 L606.0,212.8 L606.3,212.5 L606.6,212.5 L606.9,212.7 L607.2,212.5 L607.5,212.8 L607.8,212.5 L608.1,212.6 L608.4,212.3 L608.7,212.7 L609.0,212.5 L609.3,212.9 L609.6,212.5 L609.9,212.7 L610.2,212.8 L610.5,212.6 L610.8,212.3 L611.1,212.9 L611.4,212.5 L611.7,212.8 L612.0,212.6 L612.3,212.6 L612.6,212.3 L612.9,212.9 L613.2,212.5 L613.5,212.5 L613.8,212.6 L614.1,212.6 L614.4,212.7 L614.7,212.4 L615.0,212.6 L615.3,212.6 L615.6,212.6 L615.9,212.8 L616.2,212.4 L616.5,212.9 L616.8,212.5 L617.1,212.5 L617.4,212.7 L617.7,212.5 L618.0,212.7 L618.3,212.7 L618.6,212.4 L618.9,212.7 L619.2,212.5 L619.5,212.7 L619.8,212.3 L620.1,212.6 L620.4,212.4 L620.7,212.7 L621.0,212.5 L621.3,212.6 L621.6,212.3 L621.9,212.8 L622.2,212.3 L622.5,212.7 L622.8,212.5 L623.1,212.9 L623.4,212.9 L623.7,212.6 L624.0,212.7 L624.3,212.4 L624.6,212.5 L624.9,212.5 L625.2,212.7 L625.5,212.5 L625.8,212.7 L626.1,212.9 L626.4,212.4 L626.7,212.9 L627.0,212.6 L627.3,212.8 L627.6,212.7 L627.9,212.3 L628.2,212.8 L628.5,212.5 L628.8,212.9 L629.1,212.5 L629.4,212.9 L629.7,212.4 L630.0,212.4 L630.3,212.7 L630.6,212.4 L630.9,212.7 L631.2,212.7 L631.5,212.5 L631.8,212.5 L632.1,212.4 L632.4,212.7 L632.7,212.5 L633.0,212.8 L633.3,212.4 L633.6,212.9 L633.9,212.5 L634.2,212.5 L634.5,212.6 L634.8,212.5 L635.1,212.5 L635.4,212.5 L635.7,212.6 L636.0,212.5 L636.3,212.7 L636.6,212.4 L636.9,212.9 L637.2,212.4 L637.5,212.5 L637.8,212.4 L638.1,212.7 L638.4,212.7 L638.7,212.7 L639.0,212.5 L639.3,212.7 L639.6,212.4 L639.9,212.9 L640.2,212.6 L640.5,212.8 L640.8,212.3 L641.1,212.9 L641.4,212.6 L641.7,212.3 L642.0,212.9 L642.3,212.6 L642.6,212.5 L642.9,212.8 L643.2,212.3 L643.5,212.9 L643.8,212.6 L644.1,212.9 L644.4,212.7 L644.7,212.8 L645.0,212.3 L645.3,212.9 L645.6,212.4 L645.9,212.7 L646.2,212.6 L646.5,212.7 L646.8,212.7 L647.1,212.6 L647.4,212.5 L647.7,212.6 L648.0,212.7 L648.3,212.8 L648.6,212.8 L648.9,212.4 L649.2,212.7 L649.5,212.6 L649.8,212.6 L650.1,212.6 L650.4,212.3 L650.7,212.8 L651.0,212.8 L651.3,212.3 L651.6,212.6 L651.9,212.5 L652.2,212.4 L652.5,212.4 L652.8,212.7 L653.1,212.7 L653.4,212.5 L653.7,212.7 L654.0,212.3 L654.3,212.8 L654.6,212.6 L654.9,212.9 L655.2,212.9 L655.5,212.8 L655.8,212.6 L656.1,212.3 L656.4,212.8 L656.7,212.6 L657.0,212.7 L657.3,212.6 L657.6,212.7 L657.9,212.7 L658.2,212.8 L658.5,212.7 L658.8,212.4 L659.1,212.7 L659.4,212.3 L659.7,212.6 L660.0,212.3 L660.3,213.0 L660.6,212.4 L660.9,212.9 L661.2,212.8 L661.5,212.5 L661.8,212.9 L662.1,212.5 L662.4,212.7 L662.7,212.5 L663.0,212.5 L663.3,212.6 L663.6,212.3 L663.9,212.6 L664.2,212.7 L664.5,212.3 L664.8,212.9 L665.1,212.5 L665.4,212.8 L665.7,212.4 L666.0,212.7 L666.3,212.9 L666.6,212.6 L666.9,212.9 L667.2,213.0 L667.5,212.4 L667.8,212.7 L668.1,212.2 L668.4,212.9 L668.7,212.8 L669.0,212.4 L669.3,212.6 L669.6,212.7 L669.9,212.4 L670.2,212.7 L670.5,212.3 L670.8,212.6 L671.1,212.5 L671.4,212.5 L671.7,212.7 L672.0,212.3 L672.3,212.6 L672.6,212.8 L672.9,212.4 L673.2,212.7 L673.5,212.3 L673.8,212.2 L674.1,212.6 L674.4,212.5 L674.7,212.8 L675.0,212.3 L675.3,212.6 L675.6,212.4 L675.9,212.2 L676.2,212.6 L676.5,212.6 L676.8,213.0 L677.1,212.3 L677.4,212.9 L677.7,212.9 L678.0,211.2 L678.3,213.2 L678.6,212.2 L678.9,210.9 L679.2,213.4 L679.5,211.4 L679.8,214.4 L680.1,211.7 L680.4,215.0 L680.7,212.2 L681.0,214.2 L681.3,215.1 L681.6,212.5 L681.9,214.9 L682.2,211.5 L682.5,210.4 L682.8,215.2 L683.1,214.0 L683.4,215.3 L683.7,214.6 L684.0,212.4 L684.3,213.2 L684.6,210.6 L684.9,213.4 L685.2,212.2 L685.5,211.4 L685.8,214.2 L686.1,211.7 L686.4,214.6 L686.7,210.8 L687.0,214.0 L687.3,211.8 L687.6,214.0 L687.9,212.3 L688.2,210.3 L688.5,215.2 L688.8,212.0 L689.1,212.7 L689.4,211.4 L689.7,213.2 L690.0,212.1 L690.3,210.5 L690.6,213.4 L690.9,214.1 L691.2,211.7 L691.5,213.0 L691.8,210.8 L692.1,214.0 L692.4,212.5 L692.7,213.5 L693.0,212.5 L693.3,212.7 L693.6,212.0 L693.9,212.9 L694.2,212.4 L694.5,211.9 L694.8,215.7 L695.1,211.2 L695.4,212.9 L695.7,210.6 L696.0,214.6 L696.3,212.6 L696.6,215.3 L696.9,212.5 L697.2,215.5 L697.5,210.8 L697.8,207.3 L698.1,214.8 L698.4,211.0 L698.7,219.9 L699.0,209.6 L699.3,207.2 L699.6,216.8 L699.9,204.1 L700.2,214.4 L700.5,204.1 L700.8,217.9 L701.1,211.7 L701.4,206.0 L701.7,213.2 L702.0,202.6 L702.3,212.9 L702.6,204.2 L702.9,210.8 L703.2,217.6 L703.5,208.2 L703.8,214.4 L704.1,210.0 L704.4,226.5 L704.7,214.7 L705.0,188.4 L705.3,221.3 L705.6,224.0 L705.9,185.4 L706.2,187.0 L706.5,197.1 L706.8,190.1 L707.1,232.5 L707.4,226.1 L707.7,205.4 L708.0,219.5 L708.3,211.3 L708.6,182.5 L708.9,219.5 L709.2,202.4 L709.5,213.7 L709.8,204.6 L710.1,199.0 L710.4,223.7 L710.7,202.7 L711.0,214.8 L711.3,210.2 L711.6,213.7 L711.9,199.7 L712.2,216.3 L712.5,202.2 L712.8,213.4 L713.1,217.5 L713.4,202.0 L713.7,215.1 L714.0,208.9 L714.3,219.9 L714.6,215.5 L714.9,196.7 L715.2,215.2 L715.5,208.9 L715.8,222.8 L716.1,205.1 L716.4,217.7 L716.7,217.0 L717.0,204.8 L717.3,206.9 L717.6,213.6 L717.9,205.9 L718.2,212.3 L718.5,224.1 L718.8,207.1 L719.1,218.8 L719.4,208.8 L719.7,201.5 L720.0,218.1 L720.3,203.0 L720.6,227.4 L720.9,198.2 L721.2,213.7 L721.5,212.5 L721.8,211.3 L722.1,213.9 L722.4,205.9 L722.7,220.5 L723.0,203.9 L723.3,216.8 L723.6,211.2 L723.9,216.5 L724.2,205.7 L724.5,217.3 L724.8,200.3 L725.1,212.9 L725.4,204.8 L725.7,214.1 L726.0,211.3 L726.3,223.2 L726.6,209.3 L726.9,219.4 L727.2,216.8 L727.5,210.5 L727.8,210.5 L728.1,219.1 L728.4,220.3 L728.7,222.6 L729.0,218.3 L729.3,208.0 L729.6,212.1 L729.9,207.3 L730.2,211.3 L730.5,214.3 L730.8,211.6 L731.1,217.0 L731.4,214.0 L731.7,211.0 L732.0,220.9 L732.3,209.7 L732.6,220.9 L732.9,219.9 L733.2,209.3 L733.5,218.2 L733.8,210.0 L734.1,213.8 L734.4,207.7 L734.7,217.1 L735.0,206.6 L735.3,208.9 L735.6,218.1 L735.9,206.9 L736.2,215.2 L736.5,212.1 L736.8,207.8 L737.1,216.2 L737.4,212.7 L737.7,208.6 L738.0,213.7 L738.3,217.0 L738.6,211.4 L738.9,218.5 L739.2,211.9 L739.5,217.4 L739.8,211.6 L740.1,207.8 L740.4,213.4 L740.7,209.7 L741.0,208.2 L741.3,217.1 L741.6,208.4 L741.9,218.6 L742.2,211.9 L742.5,215.5 L742.8,211.0 L743.1,213.9 L743.4,210.8 L743.7,214.1 L744.0,210.4 L744.3,213.4 L744.6,209.5 L744.9,212.6 L745.2,211.4 L745.5,215.1 L745.8,211.9 L746.1,216.6 L746.4,210.3 L746.7,213.1 L747.0,207.6 L747.3,214.4 L747.6,210.8 L747.9,208.4 L748.2,217.7 L748.5,211.6 L748.8,217.3 L749.1,208.5 L749.4,214.3 L749.7,210.8 L750.0,216.4 L750.3,209.2 L750.6,213.6 L750.9,216.4 L751.2,209.8 L751.5,213.3 L751.8,212.4 L752.1,216.1 L752.4,212.1 L752.7,212.2 L753.0,213.0 L753.3,211.1 L753.6,212.8 L753.9,209.6 L754.2,212.6 L754.5,213.4 L754.8,210.2 L755.1,212.8 L755.4,212.0 L755.7,211.3 L756.0,213.0 L756.3,211.7 L756.6,213.0 L756.9,210.5 L757.2,213.2 L757.5,208.6 L757.8,212.7 L758.1,209.6 L758.4,212.8 L758.7,212.3 L759.0,209.1 L759.3,216.7 L759.6,213.5 L759.9,209.7 L760.2,213.1 L760.5,211.4 L760.8,213.6 L761.1,210.8 L761.4,215.7 L761.7,212.6 L762.0,209.9 L762.3,213.4 L762.6,212.2 L762.9,212.2 L763.2,213.3 L763.5,212.2 L763.8,212.5 L764.1,216.0 L764.4,212.2 L764.7,216.3 L765.0,211.6 L765.3,211.7 L765.6,212.8 L765.9,210.3 L766.2,211.3 L766.5,211.6 L766.8,214.6 L767.1,210.1 L767.4,212.6 L767.7,211.7 L768.0,214.2 L768.3,212.1 L768.6,211.9 L768.9,215.5 L769.2,213.1 L769.5,211.2 L769.8,211.2 L770.1,212.9 L770.4,213.3 L770.7,210.2 L771.0,215.2 L771.3,212.0 L771.6,213.2 L771.9,212.3 L772.2,211.5 L772.5,213.6 L772.8,213.9 L773.1,210.4 L773.4,213.0 L773.7,215.0 L774.0,210.3 L774.3,214.0 L774.6,209.8 L774.9,211.9 L775.2,212.8 L775.5,212.5 L775.8,212.6 L776.1,210.9 L776.4,215.2 L776.7,212.3 L777.0,212.5 L777.3,213.6 L777.6,214.6 L777.9,211.7 L778.2,211.3 L778.5,213.4 L778.8,212.9 L779.1,209.8 L779.4,214.6 L779.7,211.6 L780.0,211.4 L780.3,213.8 L780.6,210.8 L780.9,212.0 L781.2,214.7 L781.5,209.6 L781.8,213.7 L782.1,211.3 L782.4,211.1 L782.7,213.3 L783.0,209.6 L783.3,213.7 L783.6,213.4 L783.9,214.9 L784.2,211.5 L784.5,212.1 L784.8,213.5 L785.1,211.7 L785.4,214.6 L785.7,210.0 L786.0,212.0 L786.3,212.9 L786.6,212.1 L786.9,212.7 L787.2,212.1 L787.5,213.5 L787.8,212.2 L788.1,214.8 L788.4,212.3 L788.7,213.0 L789.0,210.1 L789.3,210.6 L789.6,213.4" fill="none" stroke="#006400" stroke-width="0.62" stroke-linejoin="round" clip-path="url(#c2)"/>
<rect x="506.59999999999997" y="179.6" width="283.29999999999995" height="53.7" fill="none" stroke="#000" stroke-width="1.5"/>
<line x1="522.3" y1="179.2" x2="522.3" y2="174.7" stroke="#000" stroke-width="1"/>
<line x1="522.3" y1="233.7" x2="522.3" y2="238.2" stroke="#000" stroke-width="1"/>
<line x1="545.9" y1="179.2" x2="545.9" y2="174.7" stroke="#000" stroke-width="1"/>
<line x1="545.9" y1="233.7" x2="545.9" y2="238.2" stroke="#000" stroke-width="1"/>
<line x1="569.5" y1="179.2" x2="569.5" y2="174.7" stroke="#000" stroke-width="1"/>
<line x1="569.5" y1="233.7" x2="569.5" y2="238.2" stroke="#000" stroke-width="1"/>
<line x1="593.1" y1="179.2" x2="593.1" y2="174.7" stroke="#000" stroke-width="1"/>
<line x1="593.1" y1="233.7" x2="593.1" y2="238.2" stroke="#000" stroke-width="1"/>
<line x1="616.7" y1="179.2" x2="616.7" y2="174.7" stroke="#000" stroke-width="1"/>
<line x1="616.7" y1="233.7" x2="616.7" y2="238.2" stroke="#000" stroke-width="1"/>
<line x1="640.3" y1="179.2" x2="640.3" y2="174.7" stroke="#000" stroke-width="1"/>
<line x1="640.3" y1="233.7" x2="640.3" y2="238.2" stroke="#000" stroke-width="1"/>
<line x1="663.9" y1="179.2" x2="663.9" y2="174.7" stroke="#000" stroke-width="1"/>
<line x1="663.9" y1="233.7" x2="663.9" y2="238.2" stroke="#000" stroke-width="1"/>
<line x1="687.5" y1="179.2" x2="687.5" y2="174.7" stroke="#000" stroke-width="1"/>
<line x1="687.5" y1="233.7" x2="687.5" y2="238.2" stroke="#000" stroke-width="1"/>
<line x1="711.1" y1="179.2" x2="711.1" y2="174.7" stroke="#000" stroke-width="1"/>
<line x1="711.1" y1="233.7" x2="711.1" y2="238.2" stroke="#000" stroke-width="1"/>
<line x1="734.7" y1="179.2" x2="734.7" y2="174.7" stroke="#000" stroke-width="1"/>
<line x1="734.7" y1="233.7" x2="734.7" y2="238.2" stroke="#000" stroke-width="1"/>
<line x1="758.3" y1="179.2" x2="758.3" y2="174.7" stroke="#000" stroke-width="1"/>
<line x1="758.3" y1="233.7" x2="758.3" y2="238.2" stroke="#000" stroke-width="1"/>
<line x1="781.9" y1="179.2" x2="781.9" y2="174.7" stroke="#000" stroke-width="1"/>
<line x1="781.9" y1="233.7" x2="781.9" y2="238.2" stroke="#000" stroke-width="1"/>
<clipPath id="c3"><rect x="506.2" y="258.8" width="284.09999999999997" height="53.80000000000001"/></clipPath>
<path d="M506.7,295.2 L506.9,295.0 L507.1,295.1 L507.4,295.0 L507.6,295.1 L507.8,295.1 L508.0,295.1 L508.2,295.2 L508.5,295.1 L508.7,295.1 L508.9,295.1 L509.1,295.1 L509.3,295.1 L509.6,295.1 L509.8,295.1 L510.0,295.1 L510.2,295.1 L510.4,295.0 L510.7,295.1 L510.9,295.0 L511.1,295.2 L511.3,295.1 L511.5,295.0 L511.8,295.2 L512.0,295.0 L512.2,295.2 L512.4,295.1 L512.6,295.1 L512.9,295.2 L513.1,295.0 L513.3,295.1 L513.5,295.2 L513.7,295.1 L514.0,295.1 L514.2,295.0 L514.4,295.2 L514.6,295.0 L514.8,295.2 L515.1,295.0 L515.3,295.1 L515.5,295.1 L515.7,295.1 L515.9,295.0 L516.2,295.1 L516.4,295.0 L516.6,295.1 L516.8,295.1 L517.0,295.1 L517.3,295.1 L517.5,295.1 L517.7,295.2 L517.9,295.1 L518.1,295.1 L518.4,295.0 L518.6,295.1 L518.8,295.0 L519.0,295.2 L519.2,295.1 L519.5,295.2 L519.7,295.1 L519.9,295.0 L520.1,295.2 L520.3,295.1 L520.6,295.2 L520.8,295.0 L521.0,295.2 L521.2,295.1 L521.4,295.1 L521.7,295.2 L521.9,295.2 L522.1,295.1 L522.3,295.2 L522.5,295.2 L522.8,295.1 L523.0,295.1 L523.2,295.2 L523.4,295.1 L523.6,295.1 L523.9,295.2 L524.1,295.1 L524.3,295.2 L524.5,295.1 L524.7,295.1 L525.0,295.0 L525.2,295.0 L525.4,295.1 L525.6,295.1 L525.8,295.0 L526.1,295.2 L526.3,295.0 L526.5,295.2 L526.7,295.0 L526.9,295.2 L527.2,295.0 L527.4,295.0 L527.6,295.2 L527.8,295.1 L528.0,295.1 L528.3,295.1 L528.5,295.1 L528.7,295.1 L528.9,295.1 L529.1,295.2 L529.4,295.0 L529.6,295.1 L529.8,295.0 L530.0,295.0 L530.2,295.1 L530.5,295.1 L530.7,295.1 L530.9,295.1 L531.1,295.1 L531.3,295.1 L531.6,295.1 L531.8,295.2 L532.0,295.1 L532.2,295.1 L532.4,295.1 L532.7,295.2 L532.9,295.1 L533.1,295.2 L533.3,295.1 L533.5,295.2 L533.8,295.0 L534.0,295.1 L534.2,295.2 L534.4,295.1 L534.6,295.1 L534.9,295.1 L535.1,295.1 L535.3,295.0 L535.5,295.0 L535.7,295.1 L536.0,295.2 L536.2,295.1 L536.4,295.1 L536.6,295.0 L536.8,295.1 L537.1,295.1 L537.3,295.1 L537.5,295.0 L537.7,295.0 L537.9,295.1 L538.2,295.0 L538.4,295.0 L538.6,295.1 L538.8,295.1 L539.0,295.2 L539.3,295.0 L539.5,295.2 L539.7,295.1 L539.9,295.2 L540.1,295.1 L540.4,295.1 L540.6,295.1 L540.8,295.1 L541.0,295.1 L541.2,295.1 L541.5,295.0 L541.7,295.1 L541.9,295.1 L542.1,295.1 L542.3,295.2 L542.6,295.2 L542.8,295.0 L543.0,295.0 L543.2,295.1 L543.4,295.1 L543.7,295.2 L543.9,295.0 L544.1,295.1 L544.3,295.2 L544.5,295.1 L544.8,295.0 L545.0,295.2 L545.2,295.1 L545.4,295.2 L545.6,295.0 L545.9,295.2 L546.1,295.2 L546.3,295.1 L546.5,295.1 L546.7,295.2 L547.0,295.1 L547.2,295.0 L547.4,295.1 L547.6,295.1 L547.8,295.1 L548.1,295.1 L548.3,295.2 L548.5,295.1 L548.7,295.1 L548.9,295.1 L549.2,295.2 L549.4,295.0 L549.6,295.2 L549.8,295.0 L550.0,295.1 L550.3,295.1 L550.5,295.1 L550.7,295.1 L550.9,295.2 L551.1,295.0 L551.4,295.2 L551.6,295.1 L551.8,295.1 L552.0,295.2 L552.2,295.0 L552.5,295.1 L552.7,295.0 L552.9,295.1 L553.1,295.0 L553.3,295.2 L553.6,295.2 L553.8,295.0 L554.0,295.1 L554.2,295.0 L554.4,295.2 L554.7,295.2 L554.9,295.1 L555.1,295.1 L555.3,295.1 L555.5,295.1 L555.8,295.1 L556.0,295.0 L556.2,295.2 L556.4,295.1 L556.6,295.1 L556.9,295.1 L557.1,295.1 L557.3,295.1 L557.5,295.2 L557.7,295.0 L558.0,295.1 L558.2,295.0 L558.4,295.1 L558.6,295.1 L558.8,295.1 L559.1,295.0 L559.3,295.1 L559.5,295.1 L559.7,295.1 L559.9,295.1 L560.2,295.1 L560.4,295.1 L560.6,295.0 L560.8,295.1 L561.0,295.1 L561.3,295.1 L561.5,295.0 L561.7,295.1 L561.9,295.1 L562.1,295.1 L562.4,295.2 L562.6,295.0 L562.8,295.2 L563.0,295.1 L563.2,295.1 L563.5,295.1 L563.7,295.0 L563.9,295.0 L564.1,295.1 L564.3,295.0 L564.6,295.1 L564.8,295.1 L565.0,295.1 L565.2,295.1 L565.4,295.2 L565.7,295.0 L565.9,295.1 L566.1,295.1 L566.3,295.0 L566.5,295.1 L566.8,295.0 L567.0,295.1 L567.2,295.2 L567.4,295.1 L567.6,295.0 L567.9,295.1 L568.1,295.1 L568.3,295.0 L568.5,295.1 L568.7,295.1 L569.0,295.2 L569.2,295.2 L569.4,295.0 L569.6,295.2 L569.8,295.1 L570.1,295.1 L570.3,295.2 L570.5,295.0 L570.7,295.1 L570.9,295.1 L571.2,295.1 L571.4,295.0 L571.6,295.2 L571.8,295.0 L572.0,295.1 L572.3,295.1 L572.5,295.2 L572.7,295.0 L572.9,295.1 L573.1,295.2 L573.4,295.1 L573.6,295.1 L573.8,295.1 L574.0,295.1 L574.2,295.0 L574.5,295.2 L574.7,295.0 L574.9,295.1 L575.1,295.2 L575.3,295.1 L575.6,295.2 L575.8,295.1 L576.0,295.0 L576.2,295.1 L576.4,295.0 L576.7,295.2 L576.9,295.1 L577.1,295.1 L577.3,295.2 L577.5,295.1 L577.8,295.1 L578.0,295.1 L578.2,295.2 L578.4,295.1 L578.6,295.0 L578.9,295.1 L579.1,295.2 L579.3,295.1 L579.5,295.0 L579.7,295.1 L580.0,295.1 L580.2,295.1 L580.4,295.0 L580.6,295.1 L580.8,295.1 L581.1,295.1 L581.3,295.2 L581.5,295.1 L581.7,295.1 L581.9,295.1 L582.2,295.1 L582.4,295.1 L582.6,295.2 L582.8,295.1 L583.0,295.2 L583.3,295.0 L583.5,295.2 L583.7,295.1 L583.9,295.1 L584.1,295.2 L584.4,295.2 L584.6,295.0 L584.8,295.1 L585.0,295.1 L585.2,295.1 L585.5,295.1 L585.7,295.1 L585.9,295.1 L586.1,295.1 L586.3,295.1 L586.6,295.0 L586.8,295.2 L587.0,295.2 L587.2,295.1 L587.4,295.1 L587.7,295.1 L587.9,295.2 L588.1,295.1 L588.3,295.1 L588.5,295.1 L588.8,295.2 L589.0,295.1 L589.2,295.1 L589.4,295.1 L589.6,295.1 L589.9,295.1 L590.1,295.0 L590.3,295.2 L590.5,295.1 L590.7,295.1 L591.0,295.2 L591.2,295.0 L591.4,295.1 L591.6,295.1 L591.8,295.0 L592.1,295.1 L592.3,295.0 L592.5,295.2 L592.7,295.2 L592.9,295.1 L593.2,295.0 L593.4,295.1 L593.6,295.2 L593.8,295.1 L594.0,295.1 L594.3,295.0 L594.5,295.1 L594.7,295.1 L594.9,295.2 L595.1,295.1 L595.4,295.1 L595.6,295.0 L595.8,295.1 L596.0,295.1 L596.2,295.2 L596.5,295.1 L596.7,295.0 L596.9,295.1 L597.1,295.1 L597.3,295.1 L597.6,295.2 L597.8,295.0 L598.0,295.1 L598.2,295.0 L598.4,295.1 L598.7,295.1 L598.9,295.1 L599.1,295.0 L599.3,295.1 L599.5,295.1 L599.8,295.0 L600.0,295.1 L600.2,295.0 L600.4,295.1 L600.6,295.2 L600.9,295.1 L601.1,295.1 L601.3,295.1 L601.5,295.0 L601.7,295.2 L602.0,295.1 L602.2,295.1 L602.4,295.2 L602.6,295.0 L602.8,295.2 L603.1,295.0 L603.3,295.0 L603.5,295.2 L603.7,295.0 L603.9,295.1 L604.2,295.1 L604.4,295.1 L604.6,295.1 L604.8,295.2 L605.0,295.0 L605.3,295.0 L605.5,295.1 L605.7,295.1 L605.9,295.1 L606.1,295.1 L606.4,295.1 L606.6,295.1 L606.8,295.2 L607.0,295.1 L607.2,295.1 L607.5,295.2 L607.7,295.0 L607.9,295.2 L608.1,295.0 L608.3,295.1 L608.6,295.1 L608.8,295.1 L609.0,295.1 L609.2,295.2 L609.4,295.0 L609.7,295.1 L609.9,295.1 L610.1,295.1 L610.3,295.1 L610.5,295.0 L610.8,295.1 L611.0,295.2 L611.2,295.0 L611.4,295.1 L611.6,295.1 L611.9,295.1 L612.1,295.1 L612.3,295.0 L612.5,295.1 L612.7,295.1 L613.0,295.1 L613.2,295.1 L613.4,295.1 L613.6,295.1 L613.8,295.1 L614.1,295.1 L614.3,295.1 L614.5,295.1 L614.7,295.0 L614.9,295.2 L615.2,295.1 L615.4,295.0 L615.6,295.0 L615.8,295.1 L616.0,295.1 L616.3,295.0 L616.5,295.1 L616.7,295.1 L616.9,295.1 L617.1,295.2 L617.4,295.0 L617.6,295.1 L617.8,295.1 L618.0,295.1 L618.2,295.2 L618.5,295.1 L618.7,295.1 L618.9,295.1 L619.1,295.2 L619.3,295.0 L619.6,295.1 L619.8,295.1 L620.0,295.2 L620.2,295.1 L620.4,295.1 L620.7,295.1 L620.9,295.1 L621.1,295.1 L621.3,295.1 L621.5,295.0 L621.8,295.1 L622.0,295.0 L622.2,295.0 L622.4,295.1 L622.6,295.0 L622.9,295.1 L623.1,295.0 L623.3,295.2 L623.5,295.1 L623.7,295.1 L624.0,295.1 L624.2,295.0 L624.4,295.1 L624.6,295.2 L624.8,295.1 L625.1,295.1 L625.3,295.1 L625.5,295.2 L625.7,295.1 L625.9,295.1 L626.2,295.1 L626.4,295.0 L626.6,295.2 L626.8,295.0 L627.0,295.0 L627.3,295.2 L627.5,295.2 L627.7,295.1 L627.9,295.1 L628.1,295.2 L628.4,295.0 L628.6,295.1 L628.8,295.1 L629.0,295.1 L629.2,295.2 L629.5,295.1 L629.7,295.1 L629.9,295.1 L630.1,295.2 L630.3,295.2 L630.6,295.0 L630.8,295.2 L631.0,295.0 L631.2,295.2 L631.4,295.1 L631.7,295.1 L631.9,295.1 L632.1,295.1 L632.3,295.2 L632.5,295.1 L632.8,295.1 L633.0,295.1 L633.2,295.2 L633.4,295.0 L633.6,295.1 L633.9,295.0 L634.1,295.2 L634.3,295.1 L634.5,295.1 L634.7,295.2 L635.0,295.2 L635.2,295.1 L635.4,295.1 L635.6,295.1 L635.8,295.0 L636.1,295.1 L636.3,295.0 L636.5,295.2 L636.7,295.2 L636.9,295.1 L637.2,295.0 L637.4,295.2 L637.6,295.0 L637.8,295.1 L638.0,295.1 L638.3,295.1 L638.5,295.1 L638.7,295.0 L638.9,295.1 L639.1,295.1 L639.4,295.1 L639.6,295.1 L639.8,295.2 L640.0,295.0 L640.2,295.2 L640.5,295.0 L640.7,295.2 L640.9,295.1 L641.1,295.0 L641.3,295.1 L641.6,295.1 L641.8,295.0 L642.0,295.2 L642.2,295.0 L642.4,295.1 L642.7,295.1 L642.9,295.1 L643.1,295.1 L643.3,295.0 L643.5,295.1 L643.8,295.1 L644.0,295.1 L644.2,295.2 L644.4,295.0 L644.6,295.1 L644.9,295.1 L645.1,295.0 L645.3,295.0 L645.5,295.2 L645.7,295.1 L646.0,295.1 L646.2,295.0 L646.4,295.2 L646.6,295.0 L646.8,295.0 L647.1,295.1 L647.3,295.1 L647.5,295.1 L647.7,295.1 L647.9,295.0 L648.2,295.1 L648.4,295.0 L648.6,295.2 L648.8,295.1 L649.0,295.1 L649.3,295.2 L649.5,295.1 L649.7,295.2 L649.9,295.1 L650.1,295.1 L650.4,295.0 L650.6,295.0 L650.8,295.1 L651.0,295.1 L651.2,295.2 L651.5,295.2 L651.7,295.1 L651.9,295.1 L652.1,295.1 L652.3,295.0 L652.6,295.1 L652.8,295.1 L653.0,295.1 L653.2,295.1 L653.4,295.0 L653.7,295.1 L653.9,295.2 L654.1,295.0 L654.3,295.2 L654.5,295.0 L654.8,295.1 L655.0,295.1 L655.2,295.1 L655.4,295.1 L655.6,295.0 L655.9,295.1 L656.1,295.0 L656.3,295.2 L656.5,295.1 L656.7,295.1 L657.0,295.2 L657.2,295.0 L657.4,295.1 L657.6,295.0 L657.8,295.0 L658.1,295.2 L658.3,295.1 L658.5,295.2 L658.7,295.2 L658.9,295.2 L659.2,295.1 L659.4,295.2 L659.6,295.1 L659.8,295.0 L660.0,295.2 L660.3,295.0 L660.5,295.0 L660.7,295.1 L660.9,295.2 L661.1,295.1 L661.4,295.1 L661.6,295.1 L661.8,295.1 L662.0,295.1 L662.2,295.0 L662.5,295.2 L662.7,295.1 L662.9,295.1 L663.1,295.1 L663.3,295.0 L663.6,295.1 L663.8,295.2 L664.0,295.1 L664.2,295.0 L664.4,295.2 L664.7,295.0 L664.9,295.1 L665.1,295.1 L665.3,295.1 L665.5,295.0 L665.8,295.1 L666.0,295.1 L666.2,295.1 L666.4,295.0 L666.6,295.1 L666.9,295.1 L667.1,295.1 L667.3,295.1 L667.5,295.1 L667.7,295.1 L668.0,295.1 L668.2,295.0 L668.4,295.1 L668.6,295.2 L668.8,295.1 L669.1,295.1 L669.3,295.1 L669.5,295.1 L669.7,295.2 L669.9,295.2 L670.2,295.1 L670.4,295.1 L670.6,295.1 L670.8,295.2 L671.0,295.1 L671.3,295.1 L671.5,295.1 L671.7,295.2 L671.9,295.0 L672.1,295.2 L672.4,295.0 L672.6,295.2 L672.8,295.0 L673.0,295.2 L673.2,295.0 L673.5,295.2 L673.7,295.0 L673.9,295.1 L674.1,295.0 L674.3,295.1 L674.6,295.2 L674.8,295.1 L675.0,295.2 L675.2,295.1 L675.4,295.2 L675.7,295.1 L675.9,295.2 L676.1,295.1 L676.3,295.2 L676.5,295.3 L676.8,293.9 L677.0,295.8 L677.2,294.5 L677.4,298.2 L677.6,294.2 L677.9,294.7 L678.1,297.9 L678.3,291.1 L678.5,295.6 L678.7,297.3 L679.0,294.6 L679.2,299.1 L679.4,291.4 L679.6,296.1 L679.8,294.7 L680.1,294.5 L680.3,294.9 L680.5,298.8 L680.7,294.6 L680.9,295.6 L681.2,291.8 L681.4,295.6 L681.6,293.3 L681.8,299.0 L682.0,294.6 L682.3,298.9 L682.5,294.0 L682.7,297.0 L682.9,295.0 L683.1,296.8 L683.4,297.5 L683.6,293.0 L683.8,296.6 L684.0,291.7 L684.2,298.2 L684.5,296.8 L684.7,293.1 L684.9,292.6 L685.1,296.4 L685.3,295.1 L685.6,293.0 L685.8,295.6 L686.0,292.7 L686.2,293.5 L686.4,299.3 L686.7,293.1 L686.9,295.9 L687.1,291.5 L687.3,291.9 L687.5,296.3 L687.8,293.6 L688.0,298.4 L688.2,294.0 L688.4,291.5 L688.6,297.5 L688.9,292.0 L689.1,299.1 L689.3,295.1 L689.5,296.3 L689.7,294.1 L690.0,297.3 L690.2,291.3 L690.4,298.8 L690.6,294.4 L690.8,296.2 L691.1,292.4 L691.3,299.5 L691.5,292.3 L691.7,295.6 L691.9,292.6 L692.2,295.7 L692.4,294.3 L692.6,297.0 L692.8,292.0 L693.0,297.0 L693.3,295.4 L693.5,294.8 L693.7,297.5 L693.9,294.7 L694.1,295.5 L694.4,294.2 L694.6,299.5 L694.8,292.3 L695.0,295.8 L695.2,292.6 L695.5,297.0 L695.7,295.2 L695.9,293.6 L696.1,295.4 L696.3,296.8 L696.6,292.5 L696.8,291.9 L697.0,298.1 L697.2,294.2 L697.4,294.7 L697.7,302.4 L697.9,289.3 L698.1,297.6 L698.3,298.6 L698.5,282.7 L698.8,298.5 L699.0,294.8 L699.2,299.7 L699.4,286.8 L699.6,292.3 L699.9,304.4 L700.1,282.6 L700.3,297.9 L700.5,288.1 L700.7,295.3 L701.0,311.5 L701.2,308.4 L701.4,273.6 L701.6,288.7 L701.8,289.6 L702.1,298.5 L702.3,276.4 L702.5,262.0 L702.7,268.9 L702.9,297.2 L703.2,272.2 L703.4,303.1 L703.6,266.8 L703.8,299.7 L704.0,274.5 L704.3,310.3 L704.5,291.8 L704.7,311.0 L704.9,289.1 L705.1,297.7 L705.4,287.3 L705.6,271.0 L705.8,276.1 L706.0,300.8 L706.2,293.9 L706.5,294.7 L706.7,297.5 L706.9,291.2 L707.1,296.9 L707.3,290.8 L707.6,285.5 L707.8,292.9 L708.0,295.3 L708.2,285.6 L708.4,297.3 L708.7,297.2 L708.9,290.5 L709.1,289.4 L709.3,299.6 L709.5,285.3 L709.8,298.0 L710.0,291.2 L710.2,291.4 L710.4,304.4 L710.6,290.6 L710.9,290.2 L711.1,290.2 L711.3,295.3 L711.5,294.9 L711.7,299.2 L712.0,291.6 L712.2,293.7 L712.4,299.6 L712.6,293.1 L712.8,301.1 L713.1,290.8 L713.3,300.3 L713.5,291.7 L713.7,304.1 L713.9,285.6 L714.2,303.5 L714.4,293.1 L714.6,298.2 L714.8,294.1 L715.0,291.5 L715.3,304.4 L715.5,292.6 L715.7,299.2 L715.9,294.9 L716.1,300.6 L716.4,291.2 L716.6,297.4 L716.8,293.9 L717.0,301.2 L717.2,291.6 L717.5,300.4 L717.7,303.9 L717.9,294.0 L718.1,295.8 L718.3,298.2 L718.6,294.7 L718.8,295.9 L719.0,299.6 L719.2,294.2 L719.4,295.4 L719.7,291.7 L719.9,300.7 L720.1,289.9 L720.3,301.5 L720.5,294.4 L720.8,299.2 L721.0,294.4 L721.2,293.8 L721.4,290.0 L721.6,297.0 L721.9,290.2 L722.1,299.1 L722.3,290.3 L722.5,296.2 L722.7,291.9 L723.0,290.9 L723.2,293.3 L723.4,301.0 L723.6,290.3 L723.8,300.5 L724.1,293.3 L724.3,296.1 L724.5,293.6 L724.7,296.9 L724.9,292.2 L725.2,300.2 L725.4,292.7 L725.6,300.8 L725.8,301.6 L726.0,293.3 L726.3,299.5 L726.5,292.8 L726.7,301.7 L726.9,289.7 L727.1,296.2 L727.4,297.9 L727.6,291.2 L727.8,300.0 L728.0,291.5 L728.2,299.1 L728.5,293.4 L728.7,298.6 L728.9,289.5 L729.1,294.4 L729.3,297.6 L729.6,295.6 L729.8,290.3 L730.0,301.7 L730.2,289.2 L730.4,300.5 L730.7,294.3 L730.9,295.7 L731.1,288.6 L731.3,298.0 L731.5,293.1 L731.8,297.3 L732.0,296.2 L732.2,294.4 L732.4,291.7 L732.6,300.5 L732.9,297.5 L733.1,295.4 L733.3,292.8 L733.5,293.2 L733.7,297.8 L734.0,293.6 L734.2,297.5 L734.4,294.0 L734.6,294.4 L734.8,295.4 L735.1,297.7 L735.3,292.0 L735.5,296.5 L735.7,296.4 L735.9,298.4 L736.2,295.4 L736.4,295.0 L736.6,294.7 L736.8,294.3 L737.0,296.5 L737.3,293.4 L737.5,298.4 L737.7,294.4 L737.9,293.4 L738.1,297.0 L738.4,294.3 L738.6,297.3 L738.8,291.8 L739.0,292.2 L739.2,296.1 L739.5,292.2 L739.7,294.8 L739.9,295.9 L740.1,294.9 L740.3,296.6 L740.6,298.6 L740.8,293.5 L741.0,295.1 L741.2,294.3 L741.4,294.6 L741.7,297.0 L741.9,293.2 L742.1,295.5 L742.3,295.0 L742.5,296.2 L742.8,294.8 L743.0,297.1 L743.2,292.9 L743.4,291.7 L743.6,295.7 L743.9,294.8 L744.1,295.5 L744.3,293.9 L744.5,292.0 L744.7,291.9 L745.0,292.1 L745.2,295.9 L745.4,294.9 L745.6,292.0 L745.8,305.6 L746.1,294.2 L746.3,295.5 L746.5,293.9 L746.7,304.9 L746.9,294.3 L747.2,297.2 L747.4,301.2 L747.6,293.9 L747.8,298.5 L748.0,285.0 L748.3,302.9 L748.5,306.2 L748.7,284.0 L748.9,300.6 L749.1,290.1 L749.4,301.9 L749.6,287.9 L749.8,281.5 L750.0,296.3 L750.2,295.4 L750.5,295.3 L750.7,308.0 L750.9,296.6 L751.1,293.5 L751.3,301.9 L751.6,296.9 L751.8,290.9 L752.0,292.6 L752.2,299.0 L752.4,290.6 L752.7,296.5 L752.9,293.0 L753.1,294.1 L753.3,293.9 L753.5,292.6 L753.8,297.3 L754.0,293.5 L754.2,294.4 L754.4,296.5 L754.6,296.0 L754.9,292.1 L755.1,295.5 L755.3,291.2 L755.5,295.9 L755.7,293.3 L756.0,293.2 L756.2,296.0 L756.4,296.3 L756.6,294.6 L756.8,295.1 L757.1,294.7 L757.3,295.7 L757.5,290.8 L757.7,293.7 L757.9,296.3 L758.2,296.6 L758.4,294.1 L758.6,291.2 L758.8,295.2 L759.0,294.2 L759.3,296.7 L759.5,294.8 L759.7,296.2 L759.9,294.3 L760.1,297.4 L760.4,293.2 L760.6,296.2 L760.8,295.0 L761.0,296.0 L761.2,291.5 L761.5,295.1 L761.7,290.8 L761.9,298.2 L762.1,292.8 L762.3,294.2 L762.6,296.9 L762.8,294.7 L763.0,296.6 L763.2,293.8 L763.4,291.5 L763.7,296.3 L763.9,292.8 L764.1,294.0 L764.3,296.4 L764.5,293.1 L764.8,292.6 L765.0,295.3 L765.2,294.4 L765.4,297.5 L765.6,291.1 L765.9,298.4 L766.1,294.1 L766.3,297.8 L766.5,294.0 L766.7,296.9 L767.0,299.2 L767.2,295.1 L767.4,294.8 L767.6,296.2 L767.8,293.7 L768.1,296.0 L768.3,291.9 L768.5,295.8 L768.7,294.7 L768.9,291.5 L769.2,297.3 L769.4,294.0 L769.6,297.8 L769.8,299.2 L770.0,291.7 L770.3,297.3 L770.5,294.5 L770.7,295.8 L770.9,292.2 L771.1,295.6 L771.4,294.2 L771.6,293.8 L771.8,295.9 L772.0,291.9 L772.2,298.7 L772.5,295.8 L772.7,291.9 L772.9,296.3 L773.1,294.9 L773.3,295.7 L773.6,293.0 L773.8,293.3 L774.0,297.2 L774.2,293.8 L774.4,296.3 L774.7,294.2 L774.9,295.3 L775.1,294.3 L775.3,294.8 L775.5,295.5 L775.8,293.3 L776.0,294.3 L776.2,295.8 L776.4,294.8 L776.6,295.4 L776.9,295.1 L777.1,293.3 L777.3,296.3 L777.5,294.1 L777.7,296.0 L778.0,294.4 L778.2,294.4 L778.4,295.0 L778.6,295.3 L778.8,294.7 L779.1,297.1 L779.3,294.9 L779.5,295.4 L779.7,295.0 L779.9,295.5 L780.2,294.8 L780.4,295.3 L780.6,296.5 L780.8,294.1 L781.0,295.8 L781.3,295.1 L781.5,295.4 L781.7,294.5 L781.9,294.4 L782.1,295.9 L782.4,294.0 L782.6,296.6 L782.8,294.6 L783.0,297.1 L783.2,294.2 L783.5,296.5 L783.7,295.0 L783.9,295.9 L784.1,294.5 L784.3,296.0 L784.6,295.3 L784.8,294.1 L785.0,296.2 L785.2,294.2 L785.4,296.5 L785.7,294.9 L785.9,297.1 L786.1,294.7 L786.3,296.9 L786.5,296.8 L786.8,295.4 L787.0,294.4 L787.2,293.7 L787.4,295.8 L787.6,294.5 L787.9,294.3 L788.1,295.2 L788.3,293.2 L788.5,296.2 L788.7,294.8 L789.0,295.3 L789.2,295.2 L789.4,293.7 L789.6,297.1" fill="none" stroke="#006400" stroke-width="0.62" stroke-linejoin="round" clip-path="url(#c3)"/>
<rect x="506.59999999999997" y="259.2" width="283.29999999999995" height="53.000000000000014" fill="none" stroke="#000" stroke-width="1.5"/>
<line x1="521.0" y1="258.8" x2="521.0" y2="254.3" stroke="#000" stroke-width="1"/>
<line x1="521.0" y1="312.6" x2="521.0" y2="317.1" stroke="#000" stroke-width="1"/>
<line x1="544.6" y1="258.8" x2="544.6" y2="254.3" stroke="#000" stroke-width="1"/>
<line x1="544.6" y1="312.6" x2="544.6" y2="317.1" stroke="#000" stroke-width="1"/>
<line x1="568.2" y1="258.8" x2="568.2" y2="254.3" stroke="#000" stroke-width="1"/>
<line x1="568.2" y1="312.6" x2="568.2" y2="317.1" stroke="#000" stroke-width="1"/>
<line x1="591.8" y1="258.8" x2="591.8" y2="254.3" stroke="#000" stroke-width="1"/>
<line x1="591.8" y1="312.6" x2="591.8" y2="317.1" stroke="#000" stroke-width="1"/>
<line x1="615.4" y1="258.8" x2="615.4" y2="254.3" stroke="#000" stroke-width="1"/>
<line x1="615.4" y1="312.6" x2="615.4" y2="317.1" stroke="#000" stroke-width="1"/>
<line x1="639.0" y1="258.8" x2="639.0" y2="254.3" stroke="#000" stroke-width="1"/>
<line x1="639.0" y1="312.6" x2="639.0" y2="317.1" stroke="#000" stroke-width="1"/>
<line x1="662.6" y1="258.8" x2="662.6" y2="254.3" stroke="#000" stroke-width="1"/>
<line x1="662.6" y1="312.6" x2="662.6" y2="317.1" stroke="#000" stroke-width="1"/>
<line x1="686.2" y1="258.8" x2="686.2" y2="254.3" stroke="#000" stroke-width="1"/>
<line x1="686.2" y1="312.6" x2="686.2" y2="317.1" stroke="#000" stroke-width="1"/>
<line x1="709.8" y1="258.8" x2="709.8" y2="254.3" stroke="#000" stroke-width="1"/>
<line x1="709.8" y1="312.6" x2="709.8" y2="317.1" stroke="#000" stroke-width="1"/>
<line x1="733.4" y1="258.8" x2="733.4" y2="254.3" stroke="#000" stroke-width="1"/>
<line x1="733.4" y1="312.6" x2="733.4" y2="317.1" stroke="#000" stroke-width="1"/>
<line x1="757.0" y1="258.8" x2="757.0" y2="254.3" stroke="#000" stroke-width="1"/>
<line x1="757.0" y1="312.6" x2="757.0" y2="317.1" stroke="#000" stroke-width="1"/>
<line x1="780.6" y1="258.8" x2="780.6" y2="254.3" stroke="#000" stroke-width="1"/>
<line x1="780.6" y1="312.6" x2="780.6" y2="317.1" stroke="#000" stroke-width="1"/>
<clipPath id="c4"><rect x="506.2" y="338.1" width="284.09999999999997" height="54.5"/></clipPath>
<path d="M506.7,377.7 L506.8,374.2 L506.9,372.2 L507.0,361.5 L507.1,365.9 L507.2,356.0 L507.3,364.3 L507.4,371.1 L507.5,361.5 L507.6,365.3 L507.7,368.9 L507.8,375.3 L507.9,371.2 L508.0,369.1 L508.1,370.7 L508.2,375.5 L508.3,369.1 L508.4,366.0 L508.5,365.9 L508.6,370.4 L508.7,369.1 L508.8,373.9 L508.9,373.0 L509.0,373.3 L509.1,366.2 L509.2,366.7 L509.3,367.8 L509.4,376.6 L509.5,367.8 L509.6,370.0 L509.7,362.6 L509.8,368.4 L509.9,369.0 L510.0,373.9 L510.1,365.8 L510.2,380.9 L510.3,365.0 L510.4,371.9 L510.5,367.2 L510.6,367.0 L510.7,365.3 L510.8,373.1 L510.9,366.0 L511.0,365.4 L511.1,361.1 L511.2,366.2 L511.3,367.6 L511.4,367.5 L511.5,365.0 L511.6,366.0 L511.7,366.0 L511.8,369.3 L511.9,369.6 L512.0,373.4 L512.1,369.9 L512.2,363.0 L512.3,364.0 L512.4,370.0 L512.5,363.8 L512.6,370.1 L512.7,375.3 L512.8,373.1 L512.9,368.2 L513.0,360.4 L513.1,366.9 L513.2,376.9 L513.3,374.0 L513.4,367.9 L513.5,366.0 L513.6,362.5 L513.7,367.7 L513.8,367.3 L513.9,367.2 L514.0,364.4 L514.1,365.1 L514.2,365.4 L514.3,361.4 L514.4,363.2 L514.5,380.0 L514.6,369.7 L514.7,367.4 L514.8,366.8 L514.9,377.4 L515.0,372.6 L515.1,376.7 L515.2,373.7 L515.3,379.8 L515.4,371.4 L515.5,369.6 L515.6,363.6 L515.7,369.3 L515.8,369.1 L515.9,370.2 L516.0,367.9 L516.1,365.9 L516.2,375.8 L516.3,362.6 L516.4,362.7 L516.5,364.0 L516.6,374.5 L516.7,375.4 L516.8,366.8 L516.9,371.6 L517.0,367.1 L517.1,372.2 L517.2,362.5 L517.3,375.3 L517.4,367.3 L517.5,370.1 L517.6,362.9 L517.7,365.6 L517.8,372.5 L517.9,366.5 L518.0,366.4 L518.1,373.3 L518.2,358.4 L518.3,367.2 L518.4,366.6 L518.5,367.9 L518.6,366.3 L518.7,369.6 L518.8,373.1 L518.9,368.8 L519.0,368.4 L519.1,371.5 L519.2,367.7 L519.3,378.8 L519.4,365.1 L519.5,363.5 L519.6,363.7 L519.7,370.3 L519.8,361.0 L519.9,373.1 L520.0,368.7 L520.1,367.4 L520.2,360.1 L520.3,364.8 L520.4,364.7 L520.5,370.3 L520.6,365.1 L520.7,367.9 L520.8,370.3 L520.9,367.9 L521.0,370.1 L521.1,366.4 L521.2,358.7 L521.3,366.1 L521.4,375.5 L521.5,364.6 L521.6,372.6 L521.7,368.6 L521.8,357.6 L521.9,370.9 L522.0,362.5 L522.1,374.6 L522.2,362.8 L522.3,364.9 L522.4,370.3 L522.5,367.9 L522.6,366.1 L522.7,376.8 L522.8,370.3 L522.9,362.2 L523.0,364.9 L523.1,373.5 L523.2,371.9 L523.3,370.0 L523.4,360.4 L523.5,362.0 L523.6,366.5 L523.7,367.6 L523.8,375.3 L523.9,373.1 L524.0,371.6 L524.1,374.0 L524.2,362.1 L524.3,367.4 L524.4,364.5 L524.5,370.0 L524.6,374.4 L524.7,368.8 L524.8,364.3 L524.9,373.9 L525.0,362.9 L525.1,363.5 L525.2,367.8 L525.3,371.8 L525.4,368.8 L525.5,368.0 L525.6,373.9 L525.7,365.3 L525.8,365.1 L525.9,370.7 L526.0,373.4 L526.1,371.7 L526.2,376.7 L526.3,374.2 L526.4,369.5 L526.5,362.6 L526.6,363.6 L526.7,371.3 L526.8,354.5 L526.9,365.7 L527.0,368.3 L527.1,371.6 L527.2,370.5 L527.3,373.2 L527.4,356.1 L527.5,369.3 L527.6,360.5 L527.7,374.6 L527.8,367.5 L527.9,369.1 L528.0,366.3 L528.1,366.0 L528.2,377.1 L528.3,370.8 L528.4,375.8 L528.5,368.8 L528.6,369.2 L528.7,375.9 L528.8,369.7 L528.9,365.8 L529.0,363.1 L529.1,367.8 L529.2,370.2 L529.3,372.7 L529.4,370.8 L529.5,374.6 L529.6,373.0 L529.7,371.8 L529.8,359.2 L529.9,367.9 L530.0,360.7 L530.1,370.6 L530.2,364.5 L530.3,369.3 L530.4,372.0 L530.5,367.2 L530.6,370.1 L530.7,368.1 L530.8,368.4 L530.9,372.8 L531.0,372.7 L531.1,360.4 L531.2,365.5 L531.3,367.3 L531.4,368.7 L531.5,371.5 L531.6,371.3 L531.7,366.8 L531.8,365.1 L531.9,366.8 L532.0,362.5 L532.1,378.2 L532.2,372.2 L532.3,361.1 L532.4,365.8 L532.5,366.6 L532.6,360.6 L532.7,373.8 L532.8,366.0 L532.9,367.4 L533.0,364.9 L533.1,374.6 L533.2,362.1 L533.3,363.3 L533.4,358.9 L533.5,369.3 L533.6,363.0 L533.7,364.9 L533.8,367.8 L533.9,371.0 L534.0,367.2 L534.1,367.5 L534.2,370.9 L534.3,368.6 L534.4,365.5 L534.5,364.3 L534.6,367.2 L534.7,370.8 L534.8,369.9 L534.9,369.3 L535.0,372.5 L535.1,374.1 L535.2,385.0 L535.3,368.8 L535.4,371.9 L535.5,367.4 L535.6,362.6 L535.7,361.4 L535.8,364.9 L535.9,367.2 L536.0,385.0 L536.1,361.8 L536.2,371.6 L536.3,360.5 L536.4,361.6 L536.5,365.7 L536.6,371.7 L536.7,369.3 L536.8,366.5 L536.9,371.3 L537.0,357.1 L537.1,364.7 L537.2,367.5 L537.3,369.3 L537.4,363.0 L537.5,365.2 L537.6,369.2 L537.7,368.4 L537.8,376.3 L537.9,372.6 L538.0,366.5 L538.1,360.1 L538.2,367.3 L538.3,370.0 L538.4,373.5 L538.5,373.3 L538.6,365.7 L538.7,373.9 L538.8,373.2 L538.9,365.7 L539.0,363.6 L539.1,362.8 L539.2,367.0 L539.3,372.3 L539.4,367.9 L539.5,373.2 L539.6,369.7 L539.7,374.9 L539.8,361.2 L539.9,362.2 L540.0,360.7 L540.1,378.5 L540.2,373.1 L540.3,368.3 L540.4,372.0 L540.5,363.6 L540.6,363.7 L540.7,366.8 L540.8,369.4 L540.9,366.0 L541.0,370.2 L541.1,364.5 L541.2,363.0 L541.3,373.3 L541.4,366.0 L541.5,362.5 L541.6,366.6 L541.7,361.7 L541.8,367.0 L541.9,372.5 L542.0,368.2 L542.1,366.4 L542.2,363.0 L542.3,373.0 L542.4,379.6 L542.5,368.7 L542.6,364.0 L542.7,377.7 L542.8,363.0 L542.9,362.5 L543.0,363.3 L543.1,373.8 L543.2,359.6 L543.3,370.1 L543.4,364.9 L543.5,373.1 L543.6,369.8 L543.7,372.3 L543.8,375.9 L543.9,374.9 L544.0,372.9 L544.1,363.3 L544.2,369.6 L544.3,370.0 L544.4,361.2 L544.5,375.0 L544.6,378.1 L544.7,365.0 L544.8,373.3 L544.9,362.3 L545.0,369.9 L545.1,372.1 L545.2,370.7 L545.3,364.4 L545.4,362.6 L545.5,366.4 L545.6,367.9 L545.7,380.4 L545.8,368.3 L545.9,370.5 L546.0,379.3 L546.1,366.2 L546.2,361.3 L546.3,366.9 L546.4,371.7 L546.5,373.0 L546.6,365.9 L546.7,360.3 L546.8,360.7 L546.9,374.9 L547.0,377.0 L547.1,369.7 L547.2,363.7 L547.3,370.7 L547.4,356.3 L547.5,375.6 L547.6,357.1 L547.7,364.0 L547.8,368.6 L547.9,367.8 L548.0,364.5 L548.1,367.5 L548.2,371.2 L548.3,370.4 L548.4,368.9 L548.5,369.4 L548.6,370.9 L548.7,367.8 L548.8,371.4 L548.9,365.7 L549.0,368.0 L549.1,367.6 L549.2,360.7 L549.3,364.4 L549.4,363.4 L549.5,364.3 L549.6,358.9 L549.7,366.1 L549.8,368.1 L549.9,367.1 L550.0,372.9 L550.1,367.5 L550.2,361.1 L550.3,362.4 L550.4,365.1 L550.5,364.5 L550.6,369.0 L550.7,373.3 L550.8,364.5 L550.9,371.9 L551.0,366.4 L551.1,364.2 L551.2,364.6 L551.3,385.0 L551.4,368.0 L551.5,383.7 L551.6,372.2 L551.7,365.4 L551.8,370.9 L551.9,362.6 L552.0,367.4 L552.1,373.5 L552.2,370.0 L552.3,367.7 L552.4,370.8 L552.5,356.9 L552.6,373.1 L552.7,370.9 L552.8,369.3 L552.9,365.4 L553.0,366.5 L553.1,364.0 L553.2,363.4 L553.3,367.6 L553.4,366.3 L553.5,378.5 L553.6,366.8 L553.7,367.2 L553.8,363.8 L553.9,367.0 L554.0,369.4 L554.1,373.8 L554.2,371.6 L554.3,359.1 L554.4,367.8 L554.5,381.4 L554.6,382.6 L554.7,374.1 L554.8,361.7 L554.9,363.7 L555.0,362.3 L555.1,371.1 L555.2,369.8 L555.3,367.0 L555.4,363.7 L555.5,367.4 L555.6,372.7 L555.7,374.5 L555.8,365.6 L555.9,368.6 L556.0,375.4 L556.1,351.2 L556.2,366.6 L556.3,363.9 L556.4,362.9 L556.5,365.4 L556.6,362.3 L556.7,372.9 L556.8,375.1 L556.9,368.9 L557.0,371.6 L557.1,371.2 L557.2,371.2 L557.3,370.0 L557.4,372.6 L557.5,369.0 L557.6,362.2 L557.7,369.2 L557.8,366.6 L557.9,367.7 L558.0,367.8 L558.1,364.4 L558.2,372.4 L558.3,369.9 L558.4,362.2 L558.5,367.2 L558.6,363.0 L558.7,361.8 L558.8,353.6 L558.9,359.7 L559.0,367.2 L559.1,373.5 L559.2,365.1 L559.3,367.0 L559.4,362.9 L559.5,370.3 L559.6,375.9 L559.7,367.6 L559.8,368.4 L559.9,368.5 L560.0,366.5 L560.1,359.9 L560.2,359.2 L560.3,378.0 L560.4,370.0 L560.5,368.5 L560.6,365.9 L560.7,370.9 L560.8,368.9 L560.9,367.6 L561.0,370.2 L561.1,371.8 L561.2,371.9 L561.3,357.7 L561.4,371.5 L561.5,364.8 L561.6,360.1 L561.7,365.5 L561.8,360.1 L561.9,363.5 L562.0,381.2 L562.1,364.2 L562.2,373.3 L562.3,366.1 L562.4,372.5 L562.5,369.3 L562.6,369.0 L562.7,365.0 L562.8,367.6 L562.9,366.3 L563.0,371.8 L563.1,369.4 L563.2,365.7 L563.3,363.5 L563.4,382.2 L563.5,364.0 L563.6,360.2 L563.7,365.4 L563.8,360.5 L563.9,369.4 L564.0,373.2 L564.1,364.1 L564.2,368.8 L564.3,373.7 L564.4,367.5 L564.5,364.7 L564.6,371.6 L564.7,364.4 L564.8,365.9 L564.9,357.2 L565.0,342.0 L565.2,391.0 L565.2,371.6 L565.3,375.9 L565.4,374.7 L565.5,363.3 L565.6,367.9 L565.7,367.7 L565.8,356.1 L565.9,372.6 L566.0,363.8 L566.1,366.4 L566.2,362.8 L566.3,372.1 L566.4,366.7 L566.5,369.7 L566.6,372.9 L566.7,364.2 L566.8,373.1 L566.9,361.7 L567.0,361.5 L567.1,366.8 L567.2,365.2 L567.3,370.4 L567.4,370.2 L567.5,373.0 L567.6,366.1 L567.7,371.2 L567.8,362.4 L567.9,367.0 L568.0,366.1 L568.1,372.3 L568.2,371.1 L568.3,374.7 L568.4,370.3 L568.5,369.4 L568.6,379.1 L568.7,367.4 L568.8,368.4 L568.9,376.4 L569.0,362.5 L569.1,365.8 L569.2,365.6 L569.3,373.2 L569.4,363.2 L569.5,378.0 L569.6,363.4 L569.7,371.5 L569.8,373.8 L569.9,366.4 L570.0,366.9 L570.1,367.1 L570.2,361.8 L570.3,359.0 L570.4,372.1 L570.5,364.4 L570.6,366.1 L570.7,374.7 L570.8,368.7 L570.9,367.1 L571.0,354.8 L571.1,367.9 L571.2,374.8 L571.3,366.7 L571.4,372.5 L571.5,368.7 L571.6,374.0 L571.7,364.0 L571.8,369.1 L571.9,371.3 L572.0,365.8 L572.1,367.4 L572.2,376.2 L572.3,366.1 L572.4,364.7 L572.5,360.1 L572.6,369.9 L572.7,367.4 L572.8,361.0 L572.9,371.4 L573.0,346.0 L573.1,364.9 L573.2,367.1 L573.3,366.8 L573.4,368.3 L573.5,363.2 L573.6,372.2 L573.7,364.9 L573.8,369.4 L573.9,381.3 L574.0,375.9 L574.1,367.3 L574.2,369.5 L574.3,362.9 L574.4,363.7 L574.5,368.1 L574.6,364.3 L574.7,365.6 L574.8,371.2 L574.9,369.3 L575.0,374.8 L575.1,371.5 L575.2,373.8 L575.3,376.9 L575.4,369.3 L575.5,371.2 L575.6,366.4 L575.7,365.0 L575.8,367.5 L575.9,373.5 L576.0,372.3 L576.1,378.8 L576.2,369.0 L576.3,369.4 L576.4,374.2 L576.5,365.7 L576.6,357.6 L576.7,361.8 L576.8,368.2 L576.9,361.0 L577.0,369.5 L577.1,369.4 L577.2,366.8 L577.3,366.1 L577.4,366.6 L577.5,372.2 L577.6,372.5 L577.7,371.2 L577.8,369.4 L577.9,368.1 L578.0,371.9 L578.1,364.5 L578.2,370.7 L578.3,369.5 L578.4,357.0 L578.5,365.9 L578.6,368.5 L578.7,367.2 L578.8,363.1 L578.9,378.3 L579.0,375.5 L579.1,376.3 L579.2,364.9 L579.3,370.5 L579.4,362.7 L579.5,379.5 L579.6,367.5 L579.7,363.2 L579.8,367.1 L579.9,382.6 L580.0,370.0 L580.1,361.5 L580.2,364.3 L580.3,365.0 L580.4,361.7 L580.5,366.9 L580.6,362.2 L580.7,362.7 L580.8,366.0 L580.9,360.2 L581.0,363.6 L581.1,377.2 L581.2,378.9 L581.3,378.9 L581.4,370.7 L581.5,363.0 L581.6,376.2 L581.7,366.7 L581.8,365.1 L581.9,371.3 L582.0,368.9 L582.1,369.7 L582.2,363.4 L582.3,357.9 L582.4,360.6 L582.5,369.1 L582.6,361.2 L582.7,374.4 L582.8,363.7 L582.9,364.1 L583.0,362.4 L583.1,374.3 L583.2,377.7 L583.3,361.8 L583.4,370.2 L583.5,365.7 L583.6,374.7 L583.7,361.7 L583.8,365.1 L583.9,368.6 L584.0,371.1 L584.1,378.6 L584.2,371.5 L584.3,371.5 L584.4,371.9 L584.5,368.3 L584.6,364.7 L584.7,370.3 L584.8,365.7 L584.9,373.7 L585.0,372.2 L585.1,367.2 L585.2,366.8 L585.3,376.8 L585.4,370.6 L585.5,361.0 L585.6,369.4 L585.7,373.8 L585.8,367.6 L585.9,371.4 L586.0,370.1 L586.1,370.5 L586.2,371.1 L586.3,377.8 L586.4,373.0 L586.5,366.5 L586.6,378.5 L586.7,365.3 L586.8,361.8 L586.9,360.9 L587.0,364.6 L587.1,376.1 L587.2,364.8 L587.3,366.1 L587.4,367.3 L587.5,372.2 L587.6,363.4 L587.7,371.2 L587.8,363.9 L587.9,367.8 L588.0,368.1 L588.1,368.4 L588.2,373.3 L588.3,369.0 L588.4,362.4 L588.5,353.7 L588.6,357.7 L588.7,366.2 L588.8,375.9 L588.9,362.0 L589.0,360.7 L589.1,363.6 L589.2,364.3 L589.3,360.2 L589.4,368.4 L589.5,367.4 L589.6,359.1 L589.7,360.0 L589.8,368.3 L589.9,365.6 L590.0,370.7 L590.1,369.7 L590.2,373.0 L590.3,367.1 L590.4,372.5 L590.5,368.7 L590.6,367.1 L590.7,377.8 L590.8,377.1 L590.9,379.3 L591.0,368.0 L591.1,368.5 L591.2,369.5 L591.3,375.3 L591.4,374.6 L591.5,375.3 L591.6,372.4 L591.7,367.8 L591.8,374.7 L591.9,370.0 L592.0,363.9 L592.1,368.9 L592.2,362.7 L592.3,370.7 L592.4,358.3 L592.5,373.4 L592.6,368.6 L592.7,361.1 L592.8,358.0 L592.9,373.2 L593.0,363.2 L593.1,368.7 L593.2,371.5 L593.3,369.8 L593.4,366.7 L593.5,371.4 L593.6,359.8 L593.7,368.6 L593.8,376.6 L593.9,364.5 L594.0,368.4 L594.1,351.0 L594.2,366.3 L594.3,374.0 L594.4,369.6 L594.5,361.5 L594.6,362.7 L594.7,370.1 L594.8,369.8 L594.9,372.2 L595.0,371.4 L595.1,367.4 L595.2,364.6 L595.3,374.4 L595.4,377.8 L595.5,358.2 L595.6,360.4 L595.7,369.7 L595.8,369.6 L595.9,377.8 L596.0,370.3 L596.1,371.1 L596.2,366.8 L596.3,372.3 L596.4,373.4 L596.5,357.7 L596.6,368.3 L596.7,368.5 L596.8,358.0 L596.9,361.1 L597.0,367.4 L597.1,362.0 L597.2,360.9 L597.3,368.7 L597.4,366.9 L597.5,367.9 L597.6,366.1 L597.7,367.8 L597.8,365.7 L597.9,367.0 L598.0,351.8 L598.1,362.9 L598.2,367.8 L598.3,367.1 L598.4,374.8 L598.5,376.8 L598.6,368.1 L598.7,362.1 L598.8,368.7 L598.9,366.0 L599.0,371.4 L599.1,363.4 L599.2,378.0 L599.3,368.2 L599.4,373.8 L599.5,372.2 L599.6,369.9 L599.7,372.7 L599.8,359.7 L599.9,380.3 L600.0,373.5 L600.1,365.4 L600.2,358.8 L600.3,373.4 L600.4,365.9 L600.5,372.6 L600.6,363.3 L600.7,366.1 L600.8,374.1 L600.9,373.6 L601.0,363.4 L601.1,369.6 L601.2,381.1 L601.3,366.0 L601.4,368.5 L601.5,374.7 L601.6,368.2 L601.7,365.3 L601.8,368.4 L601.9,374.3 L602.0,372.4 L602.1,370.0 L602.2,360.4 L602.3,361.3 L602.4,373.7 L602.5,358.9 L602.6,366.8 L602.7,369.7 L602.8,360.1 L602.9,369.7 L603.0,366.0 L603.1,370.6 L603.2,367.2 L603.3,362.1 L603.4,367.1 L603.5,372.0 L603.6,362.6 L603.7,374.8 L603.8,370.0 L603.9,372.4 L604.0,371.1 L604.1,377.9 L604.2,371.0 L604.3,362.3 L604.4,366.9 L604.5,373.4 L604.6,376.6 L604.7,365.8 L604.8,364.7 L604.9,377.4 L605.0,363.2 L605.1,361.0 L605.2,366.1 L605.3,362.2 L605.4,374.8 L605.5,367.3 L605.6,369.9 L605.7,363.7 L605.8,376.7 L605.9,367.2 L606.0,371.4 L606.1,363.7 L606.2,372.0 L606.3,369.5 L606.4,371.7 L606.5,372.4 L606.6,373.0 L606.7,368.5 L606.8,369.3 L606.9,364.9 L607.0,369.7 L607.1,368.5 L607.2,377.6 L607.3,371.5 L607.4,361.3 L607.5,372.0 L607.6,361.8 L607.7,366.1 L607.8,369.6 L607.9,367.7 L608.0,372.7 L608.1,367.3 L608.2,367.6 L608.3,371.5 L608.4,362.7 L608.5,366.0 L608.6,369.7 L608.7,367.1 L608.8,363.0 L608.9,370.1 L609.0,361.9 L609.1,365.6 L609.2,367.8 L609.3,357.0 L609.4,367.8 L609.5,370.4 L609.6,369.3 L609.7,371.7 L609.8,364.7 L609.9,368.5 L610.0,366.9 L610.1,369.9 L610.2,371.0 L610.3,363.6 L610.4,363.4 L610.5,373.4 L610.6,367.3 L610.7,370.2 L610.8,367.1 L610.9,376.5 L611.0,370.4 L611.1,372.3 L611.2,384.2 L611.3,370.6 L611.4,363.5 L611.5,376.6 L611.6,351.0 L611.7,376.3 L611.8,376.3 L611.9,378.1 L612.0,365.2 L612.1,368.6 L612.2,371.2 L612.3,364.2 L612.4,367.5 L612.5,366.2 L612.6,367.0 L612.7,360.0 L612.8,369.7 L612.9,368.5 L613.0,379.9 L613.1,363.2 L613.2,376.2 L613.3,367.4 L613.4,375.8 L613.5,367.6 L613.6,380.0 L613.7,370.7 L613.8,368.6 L613.9,368.5 L614.0,374.4 L614.1,366.7 L614.2,362.9 L614.3,364.3 L614.4,368.4 L614.5,366.9 L614.6,373.1 L614.7,368.6 L614.8,365.3 L614.9,370.3 L615.0,364.8 L615.1,376.2 L615.2,362.0 L615.3,372.3 L615.4,369.4 L615.5,366.0 L615.6,371.6 L615.7,371.3 L615.8,369.7 L615.9,365.2 L616.0,375.4 L616.1,368.1 L616.2,364.2 L616.3,364.4 L616.4,369.7 L616.5,370.7 L616.6,363.8 L616.7,360.2 L616.8,365.9 L616.9,360.8 L617.0,351.0 L617.1,372.1 L617.2,366.4 L617.3,366.1 L617.4,365.7 L617.5,366.4 L617.6,370.3 L617.7,361.5 L617.8,385.0 L617.9,363.4 L618.0,371.1 L618.1,371.2 L618.2,368.4 L618.3,361.0 L618.4,367.0 L618.5,363.1 L618.6,365.6 L618.7,373.1 L618.8,366.3 L618.9,364.0 L619.0,365.7 L619.1,372.6 L619.2,363.9 L619.3,371.1 L619.4,370.1 L619.5,363.0 L619.6,371.6 L619.7,361.3 L619.8,373.0 L619.9,374.0 L620.0,367.8 L620.1,364.3 L620.2,367.6 L620.3,361.6 L620.4,364.7 L620.5,374.1 L620.6,362.7 L620.7,362.6 L620.8,374.4 L620.9,366.8 L621.0,369.5 L621.1,367.7 L621.2,373.8 L621.3,360.0 L621.4,367.9 L621.5,364.7 L621.6,366.4 L621.7,367.0 L621.8,365.5 L621.9,375.6 L622.0,356.5 L622.1,368.8 L622.2,368.0 L622.3,366.8 L622.4,378.1 L622.5,366.1 L622.6,374.9 L622.7,367.5 L622.8,373.5 L622.9,357.5 L623.0,363.7 L623.1,372.1 L623.2,365.1 L623.3,374.0 L623.4,374.8 L623.5,378.7 L623.6,365.8 L623.7,372.3 L623.8,362.5 L623.9,371.2 L624.0,365.8 L624.1,356.5 L624.2,385.0 L624.3,371.2 L624.4,368.8 L624.5,369.0 L624.6,370.1 L624.7,366.8 L624.8,371.7 L624.9,366.6 L625.0,366.7 L625.1,365.6 L625.2,370.2 L625.3,362.6 L625.4,368.9 L625.5,368.6 L625.6,364.0 L625.7,365.2 L625.8,371.8 L625.9,361.9 L626.0,358.7 L626.1,370.5 L626.2,366.5 L626.3,369.1 L626.4,369.5 L626.5,367.9 L626.6,372.8 L626.7,360.1 L626.8,362.6 L626.9,371.7 L627.0,362.2 L627.1,370.6 L627.2,370.7 L627.3,366.9 L627.4,369.9 L627.5,362.7 L627.6,369.5 L627.7,367.6 L627.8,368.0 L627.9,370.3 L628.0,364.3 L628.1,366.0 L628.2,368.4 L628.3,367.5 L628.4,362.3 L628.5,374.6 L628.6,377.0 L628.7,373.1 L628.8,361.6 L628.9,366.3 L629.0,370.2 L629.1,368.7 L629.2,370.5 L629.3,375.3 L629.4,370.7 L629.5,365.5 L629.6,365.8 L629.7,357.6 L629.8,358.9 L629.9,368.9 L630.0,371.8 L630.1,362.9 L630.2,361.6 L630.3,378.8 L630.4,374.2 L630.5,370.7 L630.6,364.7 L630.7,359.1 L630.8,363.7 L630.9,371.6 L631.0,364.7 L631.1,362.1 L631.2,376.9 L631.3,368.0 L631.4,374.9 L631.5,369.4 L631.6,371.5 L631.7,370.5 L631.8,366.2 L631.9,373.2 L632.0,365.4 L632.1,367.7 L632.2,362.8 L632.3,357.3 L632.4,364.6 L632.5,373.2 L632.6,365.5 L632.7,367.1 L632.8,371.9 L632.9,354.2 L633.0,358.6 L633.1,365.2 L633.2,376.9 L633.3,358.3 L633.4,370.5 L633.5,369.3 L633.6,362.5 L633.7,368.7 L633.8,369.3 L633.9,369.9 L634.0,362.7 L634.1,370.8 L634.2,370.4 L634.3,365.7 L634.4,366.7 L634.5,362.4 L634.6,363.2 L634.7,367.9 L634.8,372.9 L634.9,380.1 L635.0,362.8 L635.1,369.6 L635.2,365.3 L635.3,368.9 L635.4,380.6 L635.5,379.3 L635.6,361.7 L635.7,375.3 L635.8,368.1 L635.9,370.5 L636.0,373.3 L636.1,365.3 L636.2,367.8 L636.3,373.1 L636.4,368.9 L636.5,369.3 L636.6,364.7 L636.7,369.6 L636.8,369.8 L636.9,368.5 L637.0,369.0 L637.1,372.7 L637.2,366.0 L637.3,369.6 L637.4,372.9 L637.5,372.2 L637.6,368.8 L637.7,371.4 L637.8,372.0 L637.9,366.5 L638.0,376.7 L638.1,378.7 L638.2,367.5 L638.3,370.9 L638.4,364.1 L638.5,368.4 L638.6,367.2 L638.7,363.8 L638.8,369.4 L638.9,366.1 L639.0,363.0 L639.1,377.1 L639.2,373.0 L639.3,369.1 L639.4,371.7 L639.5,362.3 L639.6,369.6 L639.7,370.6 L639.8,371.7 L639.9,365.4 L640.0,376.7 L640.1,367.8 L640.2,368.3 L640.3,363.9 L640.4,366.9 L640.5,373.5 L640.6,364.3 L640.7,363.8 L640.8,359.5 L640.9,367.2 L641.0,383.5 L641.1,366.2 L641.2,376.1 L641.3,371.8 L641.4,370.2 L641.5,368.0 L641.6,367.9 L641.7,365.9 L641.8,364.5 L641.9,356.7 L642.0,368.1 L642.1,368.9 L642.2,367.7 L642.3,362.0 L642.4,364.6 L642.5,370.7 L642.6,376.1 L642.7,369.8 L642.8,360.2 L642.9,367.4 L643.0,369.6 L643.1,371.9 L643.2,376.2 L643.3,368.7 L643.4,351.0 L643.5,368.6 L643.6,367.3 L643.7,371.2 L643.8,366.6 L643.9,371.4 L644.0,366.5 L644.1,382.6 L644.2,367.0 L644.3,371.7 L644.4,366.0 L644.5,365.2 L644.6,367.2 L644.7,358.7 L644.8,382.7 L644.9,365.7 L645.0,368.1 L645.1,369.5 L645.2,366.9 L645.3,366.4 L645.4,371.7 L645.5,366.5 L645.6,360.9 L645.7,368.9 L645.8,372.3 L645.9,354.0 L646.0,366.1 L646.1,373.2 L646.2,371.3 L646.3,370.0 L646.4,367.3 L646.5,376.8 L646.6,369.8 L646.7,369.8 L646.8,367.5 L646.9,367.1 L647.0,368.3 L647.1,367.8 L647.2,378.2 L647.3,367.2 L647.4,363.0 L647.5,374.9 L647.6,372.0 L647.7,367.3 L647.8,368.9 L647.9,366.7 L648.0,371.9 L648.1,369.6 L648.2,372.0 L648.3,374.7 L648.4,359.1 L648.5,360.4 L648.6,367.3 L648.7,365.9 L648.8,373.2 L648.9,362.5 L649.0,364.2 L649.1,366.7 L649.2,376.7 L649.3,370.2 L649.4,366.9 L649.5,370.9 L649.6,363.4 L649.7,372.8 L649.8,364.1 L649.9,366.1 L650.0,366.1 L650.1,374.4 L650.2,368.6 L650.3,362.8 L650.4,365.9 L650.5,373.6 L650.6,364.3 L650.7,368.9 L650.8,371.1 L650.9,373.5 L651.0,368.9 L651.1,371.1 L651.2,371.5 L651.3,365.6 L651.4,361.1 L651.5,368.6 L651.6,375.3 L651.7,367.1 L651.8,367.4 L651.9,373.0 L652.0,362.2 L652.1,366.0 L652.2,368.1 L652.3,373.9 L652.4,362.6 L652.5,371.4 L652.6,368.3 L652.7,364.2 L652.8,365.8 L652.9,362.3 L653.0,366.3 L653.1,364.7 L653.2,370.5 L653.3,369.4 L653.4,371.2 L653.5,370.0 L653.6,369.9 L653.7,362.9 L653.8,354.7 L653.9,365.8 L654.0,370.2 L654.1,363.6 L654.2,364.5 L654.3,373.9 L654.4,356.0 L654.5,369.9 L654.6,362.9 L654.7,372.7 L654.8,367.0 L654.9,368.6 L655.0,374.9 L655.1,364.0 L655.2,359.7 L655.3,365.6 L655.4,370.8 L655.5,365.9 L655.6,371.2 L655.7,370.6 L655.8,367.5 L655.9,372.7 L656.0,368.7 L656.1,371.4 L656.2,372.4 L656.3,371.5 L656.4,378.7 L656.5,359.5 L656.6,372.7 L656.7,367.1 L656.8,359.4 L656.9,366.9 L657.0,374.9 L657.1,365.4 L657.2,372.8 L657.3,375.6 L657.4,371.8 L657.5,373.8 L657.6,358.5 L657.7,362.2 L657.8,376.0 L657.9,374.1 L658.0,365.3 L658.1,370.4 L658.2,376.5 L658.3,369.4 L658.4,359.8 L658.5,372.4 L658.6,376.6 L658.7,366.8 L658.8,373.2 L658.9,368.5 L659.0,373.6 L659.1,367.0 L659.2,366.4 L659.3,370.7 L659.4,375.3 L659.5,360.8 L659.6,377.7 L659.7,367.1 L659.8,371.4 L659.9,370.2 L660.0,376.8 L660.1,371.4 L660.2,368.7 L660.3,361.0 L660.4,370.5 L660.5,361.7 L660.6,363.7 L660.7,366.2 L660.8,366.4 L660.9,370.7 L661.0,373.9 L661.1,369.9 L661.2,370.1 L661.3,373.0 L661.4,366.5 L661.5,360.4 L661.6,370.2 L661.7,363.3 L661.8,372.6 L661.9,363.9 L662.0,368.3 L662.1,365.6 L662.2,365.8 L662.3,374.9 L662.4,366.0 L662.5,369.4 L662.6,369.2 L662.7,367.9 L662.8,361.1 L662.9,364.7 L663.0,365.9 L663.1,365.0 L663.2,365.6 L663.3,366.9 L663.4,364.6 L663.5,366.3 L663.6,367.5 L663.7,364.9 L663.8,368.9 L663.9,370.4 L664.0,367.4 L664.1,373.5 L664.2,362.2 L664.3,370.4 L664.4,373.6 L664.5,365.0 L664.6,360.1 L664.7,371.3 L664.8,374.6 L664.9,374.7 L665.0,367.7 L665.1,367.4 L665.2,365.1 L665.3,371.3 L665.4,371.1 L665.5,373.6 L665.6,375.4 L665.7,364.5 L665.8,375.5 L665.9,371.5 L666.0,370.2 L666.1,372.5 L666.2,369.2 L666.3,376.3 L666.4,364.9 L666.5,374.9 L666.6,355.0 L666.7,364.5 L666.8,372.6 L666.9,371.9 L667.0,369.6 L667.1,368.7 L667.2,377.3 L667.3,372.5 L667.4,368.4 L667.5,361.7 L667.6,374.3 L667.7,361.2 L667.8,370.6 L667.9,368.4 L668.0,367.6 L668.1,362.3 L668.2,368.1 L668.3,366.5 L668.4,370.5 L668.5,367.8 L668.6,363.0 L668.7,362.3 L668.8,367.9 L668.9,362.4 L669.0,363.1 L669.1,367.1 L669.2,369.8 L669.3,374.3 L669.4,372.8 L669.5,372.5 L669.6,366.0 L669.7,369.6 L669.8,361.5 L669.9,364.0 L670.0,373.0 L670.1,364.1 L670.2,373.2 L670.3,377.0 L670.4,361.5 L670.5,372.8 L670.6,377.4 L670.7,365.1 L670.8,355.2 L670.9,374.7 L671.0,366.2 L671.1,370.0 L671.2,355.7 L671.3,364.8 L671.4,369.6 L671.5,366.7 L671.6,374.7 L671.7,370.2 L671.8,372.8 L671.9,366.3 L672.0,366.2 L672.1,371.0 L672.2,367.3 L672.3,372.1 L672.4,373.6 L672.5,370.9 L672.6,362.7 L672.7,366.8 L672.8,371.8 L672.9,362.1 L673.0,365.5 L673.1,375.6 L673.2,356.6 L673.3,367.4 L673.4,362.6 L673.5,371.8 L673.6,369.1 L673.7,366.8 L673.8,377.6 L673.9,359.4 L674.0,362.5 L674.1,365.6 L674.2,367.5 L674.3,364.2 L674.4,375.4 L674.5,369.2 L674.6,368.8 L674.7,364.9 L674.8,372.5 L674.9,366.1 L675.0,368.1 L675.1,362.5 L675.2,366.3 L675.3,368.4 L675.4,363.7 L675.5,360.0 L675.6,368.2 L675.7,368.3 L675.8,375.6 L675.9,374.3 L676.0,372.5 L676.1,374.1 L676.2,370.5 L676.3,366.0 L676.4,364.1 L676.5,374.8 L676.6,375.1 L676.7,363.1 L676.8,362.3 L676.9,367.6 L677.0,372.8 L677.1,370.5 L677.2,368.2 L677.3,361.2 L677.4,366.7 L677.5,369.0 L677.6,362.7 L677.7,370.4 L677.8,363.8 L677.9,385.0 L678.0,369.5 L678.1,367.3 L678.2,356.1 L678.3,362.9 L678.4,363.2 L678.5,365.8 L678.6,365.2 L678.7,365.4 L678.8,364.6 L678.9,369.0 L679.0,367.9 L679.1,374.9 L679.2,369.0 L679.3,373.6 L679.4,369.4 L679.5,360.7 L679.6,375.3 L679.7,372.5 L679.8,365.8 L679.9,366.5 L680.0,365.7 L680.1,372.0 L680.2,369.0 L680.3,371.6 L680.4,369.5 L680.5,374.1 L680.6,369.7 L680.7,371.5 L680.8,365.1 L680.9,363.4 L681.0,366.3 L681.1,367.8 L681.2,369.5 L681.3,365.3 L681.4,361.9 L681.5,362.1 L681.6,374.7 L681.7,372.5 L681.8,377.3 L681.9,372.8 L682.0,370.8 L682.1,376.0 L682.2,365.1 L682.3,364.2 L682.4,368.1 L682.5,372.6 L682.6,363.9 L682.7,371.9 L682.8,368.6 L682.9,367.6 L683.0,373.8 L683.1,368.8 L683.2,359.1 L683.3,366.8 L683.4,366.5 L683.5,366.8 L683.6,360.9 L683.7,369.3 L683.8,366.0 L683.9,368.9 L684.0,369.7 L684.1,364.4 L684.2,370.2 L684.3,360.7 L684.4,365.7 L684.5,369.2 L684.6,369.3 L684.7,370.3 L684.8,368.4 L684.9,366.6 L685.0,365.2 L685.1,363.0 L685.2,367.4 L685.3,369.9 L685.4,365.6 L685.5,368.0 L685.6,373.6 L685.7,366.4 L685.8,365.7 L685.9,362.9 L686.0,374.3 L686.1,365.4 L686.2,369.8 L686.3,365.5 L686.4,369.0 L686.5,363.1 L686.6,369.0 L686.7,369.5 L686.8,353.3 L686.9,361.6 L687.0,365.4 L687.1,366.5 L687.2,362.1 L687.3,361.6 L687.4,367.3 L687.5,377.3 L687.6,364.3 L687.7,376.9 L687.8,365.4 L687.9,362.4 L688.0,366.0 L688.1,381.1 L688.2,372.9 L688.3,360.9 L688.4,372.0 L688.5,364.8 L688.6,367.0 L688.7,360.9 L688.8,373.5 L688.9,370.4 L689.0,369.6 L689.1,356.6 L689.2,368.2 L689.3,364.2 L689.4,374.2 L689.5,374.0 L689.6,367.6 L689.7,365.0 L689.8,369.3 L689.9,358.3 L690.0,369.8 L690.1,372.2 L690.2,368.9 L690.3,366.9 L690.4,363.3 L690.5,368.7 L690.6,369.5 L690.7,371.8 L690.8,373.7 L690.9,379.4 L691.0,362.5 L691.1,381.8 L691.2,369.9 L691.3,368.0 L691.4,362.6 L691.5,368.8 L691.6,367.3 L691.7,364.9 L691.8,370.9 L691.9,367.2 L692.0,380.2 L692.1,376.2 L692.2,363.8 L692.3,363.1 L692.4,360.6 L692.5,365.0 L692.6,360.3 L692.7,370.2 L692.8,366.0 L692.9,378.7 L693.0,364.5 L693.1,376.4 L693.2,362.4 L693.3,379.7 L693.4,364.8 L693.5,368.3 L693.6,373.3 L693.7,364.3 L693.8,361.7 L693.9,362.7 L694.0,367.5 L694.1,363.4 L694.2,371.3 L694.3,368.1 L694.4,375.1 L694.5,366.1 L694.6,364.7 L694.7,361.0 L694.8,368.6 L694.9,368.8 L695.0,366.0 L695.1,360.2 L695.2,371.3 L695.3,369.8 L695.4,374.1 L695.5,367.9 L695.6,366.9 L695.7,351.0 L695.8,374.9 L695.9,372.6 L696.0,367.8 L696.1,367.8 L696.2,366.2 L696.3,366.7 L696.4,362.1 L696.5,371.5 L696.6,365.4 L696.7,375.4 L696.8,360.1 L696.9,369.2 L697.0,367.4 L697.1,366.7 L697.2,368.7 L697.3,373.2 L697.4,369.9 L697.5,363.7 L697.6,372.8 L697.7,375.1 L697.8,363.1 L697.9,370.5 L698.0,367.7 L698.1,364.2 L698.2,369.0 L698.3,360.0 L698.4,370.6 L698.5,372.8 L698.6,365.6 L698.7,369.8 L698.8,364.3 L698.9,360.5 L699.0,374.0 L699.1,351.0 L699.2,365.6 L699.3,364.5 L699.4,378.4 L699.5,364.0 L699.6,375.1 L699.7,374.4 L699.8,353.7 L699.9,373.2 L700.0,367.0 L700.1,370.4 L700.2,375.6 L700.3,366.6 L700.4,380.8 L700.5,369.8 L700.6,366.5 L700.7,368.2 L700.8,366.1 L700.9,362.8 L701.0,351.8 L701.1,369.6 L701.2,362.1 L701.3,370.1 L701.4,366.8 L701.5,362.4 L701.6,376.9 L701.7,360.6 L701.8,366.8 L701.9,363.0 L702.0,357.6 L702.1,365.9 L702.2,362.8 L702.3,369.3 L702.4,362.6 L702.5,364.1 L702.6,360.9 L702.7,367.9 L702.8,374.3 L702.9,385.0 L703.0,376.3 L703.1,359.5 L703.2,366.9 L703.3,368.7 L703.4,366.4 L703.5,364.9 L703.6,370.1 L703.7,359.5 L703.8,372.7 L703.9,365.6 L704.0,368.1 L704.1,380.3 L704.2,374.9 L704.3,365.7 L704.4,370.7 L704.5,375.3 L704.6,369.3 L704.7,365.1 L704.8,365.2 L704.9,358.9 L705.0,358.5 L705.1,364.6 L705.2,378.0 L705.3,364.7 L705.4,366.2 L705.5,365.9 L705.6,366.5 L705.7,363.8 L705.8,368.6 L705.9,373.2 L706.0,381.2 L706.1,362.5 L706.2,373.6 L706.3,366.5 L706.4,370.8 L706.5,367.4 L706.6,363.6 L706.7,367.2 L706.8,361.3 L706.9,370.2 L707.0,369.8 L707.1,359.7 L707.2,372.1 L707.3,364.8 L707.4,362.7 L707.5,366.8 L707.6,369.0 L707.7,378.4 L707.8,373.4 L707.9,375.2 L708.0,365.7 L708.1,367.4 L708.2,368.1 L708.3,376.2 L708.4,367.3 L708.5,364.0 L708.6,356.1 L708.7,366.6 L708.8,371.3 L708.9,364.7 L709.0,371.3 L709.1,363.7 L709.2,369.2 L709.3,368.0 L709.4,368.5 L709.5,369.7 L709.6,365.6 L709.7,363.1 L709.8,366.0 L709.9,369.8 L710.0,372.8 L710.1,362.1 L710.2,373.7 L710.3,369.3 L710.4,364.7 L710.5,372.0 L710.6,360.9 L710.7,369.3 L710.8,373.5 L710.9,370.0 L711.0,373.3 L711.1,366.6 L711.2,372.9 L711.3,365.0 L711.4,370.7 L711.5,361.9 L711.6,376.9 L711.7,373.3 L711.8,371.3 L711.9,369.5 L712.0,369.7 L712.1,362.4 L712.2,370.3 L712.3,361.8 L712.4,371.6 L712.5,367.5 L712.6,366.0 L712.7,360.3 L712.8,366.6 L712.9,372.4 L713.0,369.2 L713.1,368.1 L713.2,369.1 L713.3,377.8 L713.4,362.5 L713.5,363.1 L713.6,375.9 L713.7,367.8 L713.8,363.2 L713.9,367.0 L714.0,364.5 L714.1,366.7 L714.2,366.1 L714.3,366.5 L714.4,369.8 L714.5,375.3 L714.6,352.9 L714.7,363.2 L714.8,367.8 L714.9,365.9 L715.0,365.0 L715.1,368.0 L715.2,369.3 L715.3,372.0 L715.4,361.7 L715.5,367.1 L715.6,369.0 L715.7,364.6 L715.8,369.6 L715.9,373.5 L716.0,370.5 L716.1,366.8 L716.2,367.7 L716.3,366.5 L716.4,368.1 L716.5,376.1 L716.6,374.9 L716.7,369.7 L716.8,359.5 L716.9,376.0 L717.0,357.1 L717.1,373.6 L717.2,368.5 L717.3,373.5 L717.4,373.1 L717.5,366.3 L717.6,371.9 L717.7,369.1 L717.8,362.7 L717.9,367.5 L718.0,366.6 L718.1,365.9 L718.2,371.4 L718.3,365.5 L718.4,372.5 L718.5,363.2 L718.6,367.6 L718.7,359.4 L718.8,364.8 L718.9,368.3 L719.0,359.5 L719.1,363.9 L719.2,363.6 L719.3,375.7 L719.4,368.0 L719.5,364.6 L719.6,366.1 L719.7,356.1 L719.8,367.4 L719.9,365.0 L720.0,369.3 L720.1,367.1 L720.2,370.6 L720.3,357.6 L720.4,367.1 L720.5,371.8 L720.6,358.1 L720.7,375.5 L720.8,372.2 L720.9,365.8 L721.0,370.2 L721.1,359.2 L721.2,362.1 L721.3,366.0 L721.4,367.5 L721.5,378.4 L721.6,362.2 L721.7,368.6 L721.8,366.3 L721.9,366.5 L722.0,370.3 L722.1,373.3 L722.2,368.0 L722.3,363.1 L722.4,374.6 L722.5,366.9 L722.6,368.4 L722.7,376.0 L722.8,369.8 L722.9,376.2 L723.0,366.5 L723.1,368.5 L723.2,361.5 L723.3,367.4 L723.4,370.1 L723.5,375.1 L723.6,371.6 L723.7,359.9 L723.8,376.7 L723.9,361.7 L724.0,369.5 L724.1,363.1 L724.2,361.6 L724.3,364.5 L724.4,369.3 L724.5,367.4 L724.6,368.9 L724.7,371.2 L724.8,367.2 L724.9,369.3 L725.0,365.2 L725.1,359.3 L725.2,365.4 L725.3,371.6 L725.4,377.9 L725.5,371.4 L725.6,367.9 L725.7,385.0 L725.8,363.2 L725.9,374.6 L726.0,364.7 L726.1,371.7 L726.2,372.7 L726.3,373.2 L726.4,366.6 L726.5,365.8 L726.6,366.4 L726.7,363.1 L726.8,361.7 L726.9,360.1 L727.0,376.2 L727.1,360.5 L727.2,372.1 L727.3,368.9 L727.4,362.3 L727.5,365.3 L727.6,352.9 L727.7,369.0 L727.8,363.7 L727.9,374.5 L728.0,364.0 L728.1,371.7 L728.2,371.4 L728.3,365.1 L728.4,364.6 L728.5,376.1 L728.6,373.6 L728.7,372.5 L728.8,362.0 L728.9,367.7 L729.0,380.9 L729.1,363.8 L729.2,364.0 L729.3,365.1 L729.4,366.8 L729.5,370.0 L729.6,370.3 L729.7,361.3 L729.8,367.1 L729.9,374.3 L730.0,366.8 L730.1,371.0 L730.2,370.1 L730.3,369.6 L730.4,366.9 L730.5,355.9 L730.6,372.1 L730.7,362.5 L730.8,363.9 L730.9,363.9 L731.0,369.1 L731.1,378.8 L731.2,358.8 L731.3,367.0 L731.4,366.4 L731.5,363.8 L731.6,376.1 L731.7,366.7 L731.8,368.4 L731.9,383.2 L732.0,364.8 L732.1,365.4 L732.2,369.1 L732.3,367.9 L732.4,369.1 L732.5,372.8 L732.6,367.1 L732.7,374.4 L732.8,368.5 L732.9,367.6 L733.0,370.2 L733.1,351.0 L733.2,364.9 L733.3,367.6 L733.4,354.6 L733.5,360.1 L733.6,369.6 L733.7,362.9 L733.8,373.9 L733.9,367.1 L734.0,360.5 L734.1,373.6 L734.2,358.6 L734.3,367.0 L734.4,365.3 L734.5,360.5 L734.6,374.2 L734.7,366.3 L734.8,360.2 L734.9,368.2 L735.0,365.7 L735.1,361.6 L735.2,362.6 L735.3,364.7 L735.4,372.8 L735.5,367.9 L735.6,370.1 L735.7,363.0 L735.8,371.9 L735.9,368.6 L736.0,364.8 L736.1,371.2 L736.2,364.2 L736.3,365.0 L736.4,366.0 L736.5,370.7 L736.6,368.9 L736.7,370.2 L736.8,366.1 L736.9,378.2 L737.0,364.1 L737.1,368.0 L737.2,373.2 L737.3,371.0 L737.4,371.7 L737.5,367.2 L737.6,369.6 L737.7,371.3 L737.8,367.6 L737.9,377.0 L738.0,371.6 L738.1,370.0 L738.2,369.3 L738.3,374.4 L738.4,362.2 L738.5,375.4 L738.6,364.8 L738.7,363.8 L738.8,364.3 L738.9,373.1 L739.0,366.7 L739.1,369.1 L739.2,373.8 L739.3,375.3 L739.4,364.0 L739.5,361.4 L739.6,371.0 L739.7,353.9 L739.8,366.8 L739.9,366.9 L740.0,357.2 L740.1,368.4 L740.2,370.6 L740.3,365.8 L740.4,369.9 L740.5,369.4 L740.6,367.4 L740.7,370.9 L740.8,361.5 L740.9,369.0 L741.0,366.6 L741.1,368.5 L741.2,368.2 L741.3,362.9 L741.4,372.7 L741.5,373.3 L741.6,364.1 L741.7,377.6 L741.8,367.2 L741.9,363.8 L742.0,366.7 L742.1,355.3 L742.2,361.4 L742.3,366.6 L742.4,357.5 L742.5,363.4 L742.6,372.2 L742.7,362.1 L742.8,362.4 L742.9,367.7 L743.0,369.6 L743.1,370.6 L743.2,384.3 L743.3,367.1 L743.4,366.0 L743.5,370.6 L743.6,362.7 L743.7,372.3 L743.8,367.1 L743.9,361.9 L744.0,366.3 L744.1,375.6 L744.2,368.1 L744.3,361.0 L744.4,365.6 L744.5,363.0 L744.6,369.3 L744.7,364.2 L744.8,380.8 L744.9,368.1 L745.0,354.1 L745.1,361.8 L745.2,367.2 L745.3,369.7 L745.4,371.8 L745.5,367.7 L745.6,366.2 L745.7,367.1 L745.8,365.6 L745.9,363.5 L746.0,361.1 L746.1,371.2 L746.2,378.7 L746.3,365.6 L746.4,363.5 L746.5,364.2 L746.6,357.6 L746.7,368.7 L746.8,367.3 L746.9,361.2 L747.0,367.4 L747.1,367.5 L747.2,369.5 L747.3,360.8 L747.4,369.2 L747.5,367.3 L747.6,364.0 L747.7,365.8 L747.8,371.9 L747.9,377.4 L748.0,371.1 L748.1,359.8 L748.2,369.2 L748.3,359.9 L748.4,370.3 L748.5,371.0 L748.6,378.1 L748.7,371.2 L748.8,365.8 L748.9,366.9 L749.0,366.8 L749.1,367.6 L749.2,360.9 L749.3,369.8 L749.4,363.1 L749.5,371.4 L749.6,366.5 L749.7,367.3 L749.8,364.7 L749.9,373.3 L750.0,366.3 L750.1,368.1 L750.2,365.5 L750.3,370.6 L750.4,365.3 L750.5,369.4 L750.6,368.1 L750.7,363.6 L750.8,374.5 L750.9,367.4 L751.0,367.1 L751.1,371.3 L751.2,373.1 L751.3,369.1 L751.4,371.2 L751.5,372.8 L751.6,360.4 L751.7,369.3 L751.8,364.8 L751.9,385.0 L752.0,359.0 L752.1,367.5 L752.2,377.8 L752.3,367.7 L752.4,357.2 L752.5,364.2 L752.6,366.8 L752.7,366.4 L752.8,373.2 L752.9,371.5 L753.0,366.4 L753.1,362.8 L753.2,371.8 L753.3,371.1 L753.4,377.9 L753.5,371.3 L753.6,367.3 L753.7,366.3 L753.8,384.2 L753.9,372.6 L754.0,366.7 L754.1,360.5 L754.2,369.1 L754.3,363.5 L754.4,369.5 L754.5,356.5 L754.6,368.7 L754.7,369.3 L754.8,372.8 L754.9,356.8 L755.0,364.6 L755.1,371.6 L755.2,372.6 L755.3,373.5 L755.4,368.4 L755.5,365.3 L755.6,370.0 L755.7,370.4 L755.8,369.8 L755.9,362.0 L756.0,366.8 L756.1,366.8 L756.2,368.9 L756.3,366.4 L756.4,351.0 L756.5,363.8 L756.6,370.9 L756.7,374.9 L756.8,365.6 L756.9,378.5 L757.0,355.3 L757.1,369.2 L757.2,364.2 L757.3,359.7 L757.4,370.2 L757.5,373.5 L757.6,368.5 L757.7,363.0 L757.8,367.5 L757.9,372.3 L758.0,367.6 L758.1,362.8 L758.2,362.5 L758.3,367.8 L758.4,370.6 L758.5,371.8 L758.6,365.6 L758.7,360.6 L758.8,373.2 L758.9,363.8 L759.0,373.8 L759.1,364.1 L759.2,373.9 L759.3,359.4 L759.4,379.3 L759.5,359.9 L759.6,362.5 L759.7,367.6 L759.8,373.9 L759.9,368.3 L760.0,362.8 L760.1,368.5 L760.2,373.9 L760.3,371.3 L760.4,356.1 L760.5,366.9 L760.6,371.6 L760.7,375.8 L760.8,367.4 L760.9,370.5 L761.0,362.4 L761.1,367.2 L761.2,364.5 L761.3,363.6 L761.4,361.8 L761.5,366.9 L761.6,367.8 L761.7,372.2 L761.8,368.6 L761.9,366.4 L762.0,371.2 L762.1,359.6 L762.2,365.3 L762.3,370.7 L762.4,379.5 L762.5,366.5 L762.6,368.4 L762.7,366.1 L762.8,367.6 L762.9,370.5 L763.0,361.5 L763.1,372.5 L763.2,369.4 L763.3,371.4 L763.4,371.1 L763.5,368.7 L763.6,365.5 L763.7,364.7 L763.8,372.0 L763.9,363.9 L764.0,365.6 L764.1,367.8 L764.2,372.8 L764.3,363.6 L764.4,373.5 L764.5,365.5 L764.6,370.3 L764.7,358.3 L764.8,370.3 L764.9,374.9 L765.0,368.9 L765.1,364.8 L765.2,364.2 L765.3,365.8 L765.4,367.6 L765.5,364.0 L765.6,368.0 L765.7,366.5 L765.8,370.1 L765.9,360.9 L766.0,370.5 L766.1,369.0 L766.2,363.8 L766.3,358.0 L766.4,385.0 L766.5,365.7 L766.6,371.1 L766.7,362.0 L766.8,362.8 L766.9,367.8 L767.0,371.4 L767.1,373.2 L767.2,381.2 L767.3,370.5 L767.4,363.4 L767.5,366.4 L767.6,359.4 L767.7,365.3 L767.8,373.3 L767.9,353.2 L768.0,378.7 L768.1,361.6 L768.2,363.7 L768.3,369.9 L768.4,363.1 L768.5,364.7 L768.6,371.2 L768.7,371.1 L768.8,365.4 L768.9,372.2 L769.0,362.2 L769.1,364.6 L769.2,356.5 L769.3,369.2 L769.4,374.2 L769.5,365.5 L769.6,358.5 L769.7,378.0 L769.8,370.9 L769.9,366.2 L770.0,370.4 L770.1,364.3 L770.2,368.7 L770.3,372.2 L770.4,361.4 L770.5,368.0 L770.6,372.2 L770.7,362.6 L770.8,356.7 L770.9,372.0 L771.0,370.9 L771.1,356.4 L771.2,367.4 L771.3,368.3 L771.4,365.6 L771.5,363.2 L771.6,370.6 L771.7,365.0 L771.8,366.3 L771.9,363.2 L772.0,371.1 L772.1,357.7 L772.2,364.7 L772.3,364.0 L772.4,365.7 L772.5,365.2 L772.6,369.7 L772.7,365.8 L772.8,381.0 L772.9,365.7 L773.0,363.1 L773.1,370.8 L773.2,369.4 L773.3,368.2 L773.4,361.2 L773.5,376.8 L773.6,365.5 L773.7,369.3 L773.8,363.8 L773.9,365.8 L774.0,362.6 L774.1,360.3 L774.2,365.5 L774.3,370.4 L774.4,367.1 L774.5,376.3 L774.6,364.1 L774.7,364.8 L774.8,363.2 L774.9,375.9 L775.0,378.6 L775.1,369.4 L775.2,372.3 L775.3,368.2 L775.4,372.1 L775.5,366.4 L775.6,378.0 L775.7,374.5 L775.8,362.7 L775.9,367.5 L776.0,371.2 L776.1,370.4 L776.2,373.2 L776.3,370.4 L776.4,366.5 L776.5,367.4 L776.6,370.4 L776.7,365.7 L776.8,370.1 L776.9,373.6 L777.0,367.2 L777.1,363.8 L777.2,359.5 L777.3,359.0 L777.4,360.2 L777.5,362.0 L777.6,368.4 L777.7,367.6 L777.8,365.4 L777.9,368.3 L778.0,368.9 L778.1,368.5 L778.2,365.8 L778.3,365.6 L778.4,364.8 L778.5,374.1 L778.6,361.9 L778.7,365.7 L778.8,361.6 L778.9,379.4 L779.0,369.4 L779.1,374.8 L779.2,368.2 L779.3,368.7 L779.4,362.4 L779.5,357.4 L779.6,369.1 L779.7,377.8 L779.8,361.8 L779.9,361.5 L780.0,367.5 L780.1,365.6 L780.2,372.8 L780.3,365.4 L780.4,368.7 L780.5,363.1 L780.6,368.8 L780.7,372.5 L780.8,364.7 L780.9,365.9 L781.0,367.9 L781.1,367.7 L781.2,376.4 L781.3,365.0 L781.4,375.7 L781.5,372.5 L781.6,368.3 L781.7,366.5 L781.8,359.9 L781.9,362.6 L782.0,376.6 L782.1,370.9 L782.2,367.3 L782.3,366.7 L782.4,363.9 L782.5,367.0 L782.6,360.5 L782.7,365.1 L782.8,368.9 L782.9,364.5 L783.0,369.1 L783.1,377.0 L783.2,376.6 L783.3,369.4 L783.4,366.1 L783.5,370.4 L783.6,373.3 L783.7,369.7 L783.8,360.0 L783.9,367.9 L784.0,368.8 L784.1,375.9 L784.2,367.9 L784.3,368.9 L784.4,359.8 L784.5,371.8 L784.6,364.1 L784.7,366.6 L784.8,368.7 L784.9,369.1 L785.0,361.1 L785.1,369.2 L785.2,368.0 L785.3,372.5 L785.4,373.0 L785.5,361.8 L785.6,356.2 L785.7,369.3 L785.8,358.6 L785.9,372.3 L786.0,373.9 L786.1,360.8 L786.2,373.7 L786.3,364.6 L786.4,363.9 L786.5,361.0 L786.6,362.0 L786.7,363.9 L786.8,361.1 L786.9,371.4 L787.0,368.9 L787.1,366.5 L787.2,358.9 L787.3,365.0 L787.4,352.6 L787.5,370.7 L787.6,368.5 L787.7,368.0 L787.8,360.8 L787.9,372.6 L788.0,364.4 L788.1,377.0 L788.2,367.9 L788.3,363.0 L788.4,377.6 L788.5,367.3 L788.6,365.6 L788.7,372.6 L788.8,368.3 L788.9,364.4 L789.0,370.5 L789.1,367.6 L789.2,362.1 L789.3,365.9 L789.4,373.1 L789.5,372.0 L789.6,364.3 L789.7,372.2" fill="none" stroke="#ffa500" stroke-width="0.62" stroke-linejoin="round" clip-path="url(#c4)"/>
<rect x="506.59999999999997" y="338.5" width="283.29999999999995" height="53.7" fill="none" stroke="#000" stroke-width="1.5"/>
<line x1="529.8" y1="338.1" x2="529.8" y2="333.6" stroke="#000" stroke-width="1"/>
<line x1="529.8" y1="392.6" x2="529.8" y2="397.1" stroke="#000" stroke-width="1"/>
<line x1="553.4" y1="338.1" x2="553.4" y2="333.6" stroke="#000" stroke-width="1"/>
<line x1="553.4" y1="392.6" x2="553.4" y2="397.1" stroke="#000" stroke-width="1"/>
<line x1="577.0" y1="338.1" x2="577.0" y2="333.6" stroke="#000" stroke-width="1"/>
<line x1="577.0" y1="392.6" x2="577.0" y2="397.1" stroke="#000" stroke-width="1"/>
<line x1="600.6" y1="338.1" x2="600.6" y2="333.6" stroke="#000" stroke-width="1"/>
<line x1="600.6" y1="392.6" x2="600.6" y2="397.1" stroke="#000" stroke-width="1"/>
<line x1="624.2" y1="338.1" x2="624.2" y2="333.6" stroke="#000" stroke-width="1"/>
<line x1="624.2" y1="392.6" x2="624.2" y2="397.1" stroke="#000" stroke-width="1"/>
<line x1="647.8" y1="338.1" x2="647.8" y2="333.6" stroke="#000" stroke-width="1"/>
<line x1="647.8" y1="392.6" x2="647.8" y2="397.1" stroke="#000" stroke-width="1"/>
<line x1="671.4" y1="338.1" x2="671.4" y2="333.6" stroke="#000" stroke-width="1"/>
<line x1="671.4" y1="392.6" x2="671.4" y2="397.1" stroke="#000" stroke-width="1"/>
<line x1="695.0" y1="338.1" x2="695.0" y2="333.6" stroke="#000" stroke-width="1"/>
<line x1="695.0" y1="392.6" x2="695.0" y2="397.1" stroke="#000" stroke-width="1"/>
<line x1="718.6" y1="338.1" x2="718.6" y2="333.6" stroke="#000" stroke-width="1"/>
<line x1="718.6" y1="392.6" x2="718.6" y2="397.1" stroke="#000" stroke-width="1"/>
<line x1="742.2" y1="338.1" x2="742.2" y2="333.6" stroke="#000" stroke-width="1"/>
<line x1="742.2" y1="392.6" x2="742.2" y2="397.1" stroke="#000" stroke-width="1"/>
<line x1="765.8" y1="338.1" x2="765.8" y2="333.6" stroke="#000" stroke-width="1"/>
<line x1="765.8" y1="392.6" x2="765.8" y2="397.1" stroke="#000" stroke-width="1"/>
<line x1="789.4" y1="338.1" x2="789.4" y2="333.6" stroke="#000" stroke-width="1"/>
<line x1="789.4" y1="392.6" x2="789.4" y2="397.1" stroke="#000" stroke-width="1"/>
</svg>
<div class="t m" id="title" style="left:70.6px;top:26px;">Intensidad calculada el 2026/03/17_02:25:57_PM</div>
<div class="t m" style="right:865.2px;top:74.0px;">11</div>
<div class="t m" style="right:865.2px;top:129.6px;">10.5</div>
<div class="t m" style="right:865.2px;top:185.3px;">10</div>
<div class="t m" style="right:865.2px;top:240.9px;">9.5</div>
<div class="t m" style="right:865.2px;top:296.5px;">9</div>
<div class="t m" style="right:865.2px;top:352.2px;">8.5</div>
<div class="t m" style="right:865.2px;top:407.8px;">8</div>
<div class="t m" style="left:22.0px;width:60px;text-align:center;top:422px;">-86</div>
<div class="t m" style="left:74.4px;width:60px;text-align:center;top:422px;">-85.5</div>
<div class="t m" style="left:126.8px;width:60px;text-align:center;top:422px;">-85</div>
<div class="t m" style="left:179.2px;width:60px;text-align:center;top:422px;">-84.5</div>
<div class="t m" style="left:231.6px;width:60px;text-align:center;top:422px;">-84</div>
<div class="t m" style="left:284.0px;width:60px;text-align:center;top:422px;">-83.5</div>
<div class="t m" style="left:336.4px;width:60px;text-align:center;top:422px;">-83</div>
<div class="t m" style="left:453.6px;top:408.0px;">0</div>
<div class="t m" style="left:453.6px;top:356.3px;">1</div>
<div class="t m" style="left:453.6px;top:304.6px;">2</div>
<div class="t m" style="left:453.6px;top:252.9px;">3</div>
<div class="t m" style="left:453.6px;top:201.2px;">4</div>
<div class="t m" style="left:453.6px;top:149.5px;">5</div>
<div class="t m" style="left:453.6px;top:97.8px;">6</div>
<div class="t m" style="left:453.6px;top:46.1px;">7</div>
<div class="t m" style="left:474px;top:379px;transform:translate(-50%,-50%) rotate(-90deg);">No sentido</div>
<div class="t m" style="left:474px;top:305.9px;transform:translate(-50%,-50%) rotate(-90deg);">Debil</div>
<div class="t m" style="left:474px;top:234.5px;transform:translate(-50%,-50%) rotate(-90deg);">Moderado</div>
<div class="t m" style="left:474px;top:154.3px;transform:translate(-50%,-50%) rotate(-90deg);">Fuerte</div>
<div class="t m" style="left:474px;top:75.1px;transform:translate(-50%,-50%) rotate(-90deg);">Muy Fuerte</div>
<div style="position:absolute;left:57px;top:289.5px;width:230.4px;height:18.7px;background:#000;"></div>
<div style="position:absolute;left:57px;top:308px;width:229.4px;height:97.5px;background:#e6e6e6;border:1px solid #000;box-sizing:content-box;"></div>
<div class="t " id="lh" style="left:88px;top:292.5px;color:#fff;font-size:13.4px;">INTENSIDAD JMA [0 a 7]</div>
<div class="t lg" style="top:316.2px;word-spacing:0.7px;">[ 3 ]<span id="lg0" style="position:absolute;left:26.2px;word-spacing:0;">Est Bio Osa Verde. Osa (25.6 cm/s<sup>2</sup>)</span></div>
<div class="t lg" style="top:330.9px;word-spacing:0.7px;">[ 2 ]<span id="lg1" style="position:absolute;left:26.2px;word-spacing:0;">Hosp C. Neily (25.3 cm/s<sup>2</sup>)</span></div>
<div class="t lg" style="top:344.2px;word-spacing:0.7px;">[ 2 ]<span id="lg2" style="position:absolute;left:26.2px;word-spacing:0;">Golfito CTP (5.5 cm/s<sup>2</sup>)</span></div>
<div class="t lg" style="top:359.2px;word-spacing:0.7px;">[ 2 ]<span id="lg3" style="position:absolute;left:26.2px;word-spacing:0;">Golfito UCR (6.9 cm/s<sup>2</sup>)</span></div>
<div class="t lg" style="top:373.9px;word-spacing:0.7px;">[ 2 ]<span id="lg4" style="position:absolute;left:26.2px;word-spacing:0;">Bomberos C. Neily (6.4 cm/s<sup>2</sup>)</span></div>
<div class="t lg" style="top:388.8px;word-spacing:0.7px;">[ 1 ]<span id="lg5" style="position:absolute;left:26.2px;word-spacing:0;">La Palma. Osa (3.8 cm/s<sup>2</sup>)</span></div>
<div class="t " id="mp" style="left:330.5px;top:145.4px;font-size:10.3px;color:#111;">M=4.5 P=17km</div>
<div class="t " id="lis" style="left:3.3px;top:439.8px;font-size:9px;color:#111;">LISUCR 20260317202559</div>
<div class="t nm" id="nm0" style="top:24.7px;">Est Bio Osa Verde, Osa</div>
<div class="t inf" id="ac0" style="top:48.8px;">Acel. Max. 2.1</div>
<div class="t inf" id="ij0" style="top:65.5px;">Int JMA: 2</div>
<div class="t nm" id="nm1" style="top:104.1px;">Hosp C. Neily</div>
<div class="t inf" id="ac1" style="top:127.0px;">Acel. Max. 2.1</div>
<div class="t inf" id="ij1" style="top:144.4px;">Int JMA: 2</div>
<div class="t nm" id="nm2" style="top:183.0px;">Golfito CTP</div>
<div class="t inf" id="ac2" style="top:206.0px;">Acel. Max. 1.8</div>
<div class="t inf" id="ij2" style="top:223.8px;">Int JMA: 2</div>
<div class="t nm" id="nm3" style="top:259.2px;">Golfito UCR</div>
<div class="t inf" id="ac3" style="top:282.0px;">Acel. Max. 1.7</div>
<div class="t inf" id="ij3" style="top:299.4px;">Int JMA: 2</div>
<div class="t nm" id="nm4" style="top:338.1px;">La Sabana</div>
<div class="t inf" id="ac4" style="top:361.1px;">Acel. Max. 0.0</div>
<div class="t inf" id="ij4" style="top:378.1px;">Int JMA: 0</div>
<div class="t tk" style="left:514.5px;width:30px;text-align:center;top:84.0px;">00</div>
<div class="t tk" style="left:538.1px;width:30px;text-align:center;top:84.0px;">05</div>
<div class="t tk" style="left:561.7px;width:30px;text-align:center;top:84.0px;">10</div>
<div class="t tk" style="left:585.3px;width:30px;text-align:center;top:84.0px;">15</div>
<div class="t tk" style="left:608.9px;width:30px;text-align:center;top:84.0px;">20</div>
<div class="t tk" style="left:632.5px;width:30px;text-align:center;top:84.0px;">25</div>
<div class="t tk" style="left:656.1px;width:30px;text-align:center;top:84.0px;">30</div>
<div class="t tk" style="left:679.7px;width:30px;text-align:center;top:84.0px;">35</div>
<div class="t tk" style="left:703.3px;width:30px;text-align:center;top:84.0px;">40</div>
<div class="t tk" style="left:726.9px;width:30px;text-align:center;top:84.0px;">45</div>
<div class="t tk" style="left:750.5px;width:30px;text-align:center;top:84.0px;">50</div>
<div class="t tk" style="left:774.1px;width:30px;text-align:center;top:84.0px;">55</div>
<div class="t tk" style="left:512.5px;width:30px;text-align:center;top:163.4px;">00</div>
<div class="t tk" style="left:536.1px;width:30px;text-align:center;top:163.4px;">05</div>
<div class="t tk" style="left:559.7px;width:30px;text-align:center;top:163.4px;">10</div>
<div class="t tk" style="left:583.3px;width:30px;text-align:center;top:163.4px;">15</div>
<div class="t tk" style="left:606.9px;width:30px;text-align:center;top:163.4px;">20</div>
<div class="t tk" style="left:630.5px;width:30px;text-align:center;top:163.4px;">25</div>
<div class="t tk" style="left:654.1px;width:30px;text-align:center;top:163.4px;">30</div>
<div class="t tk" style="left:677.7px;width:30px;text-align:center;top:163.4px;">35</div>
<div class="t tk" style="left:701.3px;width:30px;text-align:center;top:163.4px;">40</div>
<div class="t tk" style="left:724.9px;width:30px;text-align:center;top:163.4px;">45</div>
<div class="t tk" style="left:748.5px;width:30px;text-align:center;top:163.4px;">50</div>
<div class="t tk" style="left:772.1px;width:30px;text-align:center;top:163.4px;">55</div>
<div class="t tk" style="left:506.5px;width:30px;text-align:center;top:242.9px;">00</div>
<div class="t tk" style="left:530.1px;width:30px;text-align:center;top:242.9px;">05</div>
<div class="t tk" style="left:553.7px;width:30px;text-align:center;top:242.9px;">10</div>
<div class="t tk" style="left:577.3px;width:30px;text-align:center;top:242.9px;">15</div>
<div class="t tk" style="left:600.9px;width:30px;text-align:center;top:242.9px;">20</div>
<div class="t tk" style="left:624.5px;width:30px;text-align:center;top:242.9px;">25</div>
<div class="t tk" style="left:648.1px;width:30px;text-align:center;top:242.9px;">30</div>
<div class="t tk" style="left:671.7px;width:30px;text-align:center;top:242.9px;">35</div>
<div class="t tk" style="left:695.3px;width:30px;text-align:center;top:242.9px;">40</div>
<div class="t tk" style="left:718.9px;width:30px;text-align:center;top:242.9px;">45</div>
<div class="t tk" style="left:742.5px;width:30px;text-align:center;top:242.9px;">50</div>
<div class="t tk" style="left:766.1px;width:30px;text-align:center;top:242.9px;">55</div>
<div class="t tk" style="left:505.2px;width:30px;text-align:center;top:321.8px;">00</div>
<div class="t tk" style="left:528.8px;width:30px;text-align:center;top:321.8px;">05</div>
<div class="t tk" style="left:552.4px;width:30px;text-align:center;top:321.8px;">10</div>
<div class="t tk" style="left:576.0px;width:30px;text-align:center;top:321.8px;">15</div>
<div class="t tk" style="left:599.6px;width:30px;text-align:center;top:321.8px;">20</div>
<div class="t tk" style="left:623.2px;width:30px;text-align:center;top:321.8px;">25</div>
<div class="t tk" style="left:646.8px;width:30px;text-align:center;top:321.8px;">30</div>
<div class="t tk" style="left:670.4px;width:30px;text-align:center;top:321.8px;">35</div>
<div class="t tk" style="left:694.0px;width:30px;text-align:center;top:321.8px;">40</div>
<div class="t tk" style="left:717.6px;width:30px;text-align:center;top:321.8px;">45</div>
<div class="t tk" style="left:741.2px;width:30px;text-align:center;top:321.8px;">50</div>
<div class="t tk" style="left:764.8px;width:30px;text-align:center;top:321.8px;">55</div>
<div class="t tk" style="left:514.0px;width:30px;text-align:center;top:401.8px;">00</div>
<div class="t tk" style="left:537.6px;width:30px;text-align:center;top:401.8px;">05</div>
<div class="t tk" style="left:561.2px;width:30px;text-align:center;top:401.8px;">10</div>
<div class="t tk" style="left:584.8px;width:30px;text-align:center;top:401.8px;">15</div>
<div class="t tk" style="left:608.4px;width:30px;text-align:center;top:401.8px;">20</div>
<div class="t tk" style="left:632.0px;width:30px;text-align:center;top:401.8px;">25</div>
<div class="t tk" style="left:655.6px;width:30px;text-align:center;top:401.8px;">30</div>
<div class="t tk" style="left:679.2px;width:30px;text-align:center;top:401.8px;">35</div>
<div class="t tk" style="left:702.8px;width:30px;text-align:center;top:401.8px;">40</div>
<div class="t tk" style="left:726.4px;width:30px;text-align:center;top:401.8px;">45</div>
<div class="t tk" style="left:750.0px;width:30px;text-align:center;top:401.8px;">50</div>
<div class="t tk" style="left:773.6px;width:30px;text-align:center;top:401.8px;">55</div>
<div class="t " id="tm" style="left:621px;top:416.2px;font-size:11.7px;color:#111;">Tiempo (s)</div>
</body></html>
